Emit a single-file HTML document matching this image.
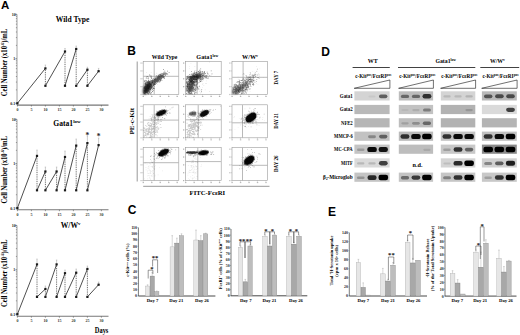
<!DOCTYPE html>
<html><head><meta charset="utf-8"><title>Figure</title>
<style>html,body{margin:0;padding:0;background:#fff;width:520px;height:335px;overflow:hidden;font-family:"Liberation Serif",serif;} svg{display:block;}</style>
</head><body>
<svg width="520" height="335" viewBox="0 0 520 335"><defs><filter id="bl1" x="-50%" y="-50%" width="200%" height="200%"><feGaussianBlur stdDeviation="0.1"/></filter><filter id="bl2" x="-50%" y="-50%" width="200%" height="200%"><feGaussianBlur stdDeviation="0.2"/></filter><filter id="bl3" x="-50%" y="-50%" width="200%" height="200%"><feGaussianBlur stdDeviation="0.3"/></filter><filter id="bl4" x="-50%" y="-50%" width="200%" height="200%"><feGaussianBlur stdDeviation="0.4"/></filter><filter id="bl5" x="-50%" y="-50%" width="200%" height="200%"><feGaussianBlur stdDeviation="0.5"/></filter><filter id="bl6" x="-50%" y="-50%" width="200%" height="200%"><feGaussianBlur stdDeviation="0.6"/></filter><filter id="bl7" x="-50%" y="-50%" width="200%" height="200%"><feGaussianBlur stdDeviation="0.7"/></filter><filter id="bl8" x="-50%" y="-50%" width="200%" height="200%"><feGaussianBlur stdDeviation="0.8"/></filter><filter id="bl9" x="-50%" y="-50%" width="200%" height="200%"><feGaussianBlur stdDeviation="0.9"/></filter><filter id="bl10" x="-50%" y="-50%" width="200%" height="200%"><feGaussianBlur stdDeviation="1.0"/></filter><filter id="bl11" x="-50%" y="-50%" width="200%" height="200%"><feGaussianBlur stdDeviation="1.1"/></filter><filter id="bl12" x="-50%" y="-50%" width="200%" height="200%"><feGaussianBlur stdDeviation="1.2"/></filter><filter id="bl13" x="-50%" y="-50%" width="200%" height="200%"><feGaussianBlur stdDeviation="1.3"/></filter><filter id="bl14" x="-50%" y="-50%" width="200%" height="200%"><feGaussianBlur stdDeviation="1.4"/></filter><filter id="bl15" x="-50%" y="-50%" width="200%" height="200%"><feGaussianBlur stdDeviation="1.5"/></filter><filter id="bl16" x="-50%" y="-50%" width="200%" height="200%"><feGaussianBlur stdDeviation="1.6"/></filter><filter id="bl17" x="-50%" y="-50%" width="200%" height="200%"><feGaussianBlur stdDeviation="1.7"/></filter><filter id="bl18" x="-50%" y="-50%" width="200%" height="200%"><feGaussianBlur stdDeviation="1.8"/></filter><filter id="bl19" x="-50%" y="-50%" width="200%" height="200%"><feGaussianBlur stdDeviation="1.9"/></filter><filter id="bl20" x="-50%" y="-50%" width="200%" height="200%"><feGaussianBlur stdDeviation="2.0"/></filter><filter id="bl21" x="-50%" y="-50%" width="200%" height="200%"><feGaussianBlur stdDeviation="2.1"/></filter><filter id="bl22" x="-50%" y="-50%" width="200%" height="200%"><feGaussianBlur stdDeviation="2.2"/></filter><filter id="bl23" x="-50%" y="-50%" width="200%" height="200%"><feGaussianBlur stdDeviation="2.3"/></filter><filter id="bl24" x="-50%" y="-50%" width="200%" height="200%"><feGaussianBlur stdDeviation="2.4"/></filter><filter id="bl25" x="-50%" y="-50%" width="200%" height="200%"><feGaussianBlur stdDeviation="2.5"/></filter><filter id="bl26" x="-50%" y="-50%" width="200%" height="200%"><feGaussianBlur stdDeviation="2.6"/></filter><filter id="bl27" x="-50%" y="-50%" width="200%" height="200%"><feGaussianBlur stdDeviation="2.7"/></filter><filter id="bl28" x="-50%" y="-50%" width="200%" height="200%"><feGaussianBlur stdDeviation="2.8"/></filter><filter id="bl29" x="-50%" y="-50%" width="200%" height="200%"><feGaussianBlur stdDeviation="2.9"/></filter></defs><rect width="520" height="335" fill="#fff"/><text x="1.0" y="8.8" font-size="11.5" font-family="Liberation Sans" font-weight="bold" fill="#000" text-anchor="start">A</text>
<text x="127.2" y="54.7" font-size="12" font-family="Liberation Sans" font-weight="bold" fill="#000" text-anchor="start">B</text>
<text x="127.8" y="213.9" font-size="12" font-family="Liberation Sans" font-weight="bold" fill="#000" text-anchor="start">C</text>
<text x="321.3" y="55.7" font-size="12" font-family="Liberation Sans" font-weight="bold" fill="#000" text-anchor="start">D</text>
<text x="328.1" y="216.3" font-size="12" font-family="Liberation Sans" font-weight="bold" fill="#000" text-anchor="start">E</text>
<line x1="17.00" y1="14.30" x2="17.00" y2="105.10" stroke="#8a8a8a" stroke-width="0.8"/>
<line x1="15.90" y1="45.40" x2="17.00" y2="45.40" stroke="#666" stroke-width="0.6"/>
<line x1="15.90" y1="37.57" x2="17.00" y2="37.57" stroke="#666" stroke-width="0.6"/>
<line x1="15.90" y1="32.01" x2="17.00" y2="32.01" stroke="#666" stroke-width="0.6"/>
<line x1="15.90" y1="27.70" x2="17.00" y2="27.70" stroke="#666" stroke-width="0.6"/>
<line x1="15.90" y1="24.17" x2="17.00" y2="24.17" stroke="#666" stroke-width="0.6"/>
<line x1="15.90" y1="21.19" x2="17.00" y2="21.19" stroke="#666" stroke-width="0.6"/>
<line x1="15.90" y1="18.61" x2="17.00" y2="18.61" stroke="#666" stroke-width="0.6"/>
<line x1="15.90" y1="16.34" x2="17.00" y2="16.34" stroke="#666" stroke-width="0.6"/>
<line x1="15.90" y1="89.90" x2="17.00" y2="89.90" stroke="#666" stroke-width="0.6"/>
<line x1="15.90" y1="82.07" x2="17.00" y2="82.07" stroke="#666" stroke-width="0.6"/>
<line x1="15.90" y1="76.51" x2="17.00" y2="76.51" stroke="#666" stroke-width="0.6"/>
<line x1="15.90" y1="72.20" x2="17.00" y2="72.20" stroke="#666" stroke-width="0.6"/>
<line x1="15.90" y1="68.67" x2="17.00" y2="68.67" stroke="#666" stroke-width="0.6"/>
<line x1="15.90" y1="65.69" x2="17.00" y2="65.69" stroke="#666" stroke-width="0.6"/>
<line x1="15.90" y1="63.11" x2="17.00" y2="63.11" stroke="#666" stroke-width="0.6"/>
<line x1="15.90" y1="60.84" x2="17.00" y2="60.84" stroke="#666" stroke-width="0.6"/>
<line x1="15.40" y1="14.30" x2="17.00" y2="14.30" stroke="#555" stroke-width="0.7"/>
<line x1="15.40" y1="58.80" x2="17.00" y2="58.80" stroke="#555" stroke-width="0.7"/>
<line x1="15.40" y1="103.30" x2="17.00" y2="103.30" stroke="#555" stroke-width="0.7"/>
<text x="15.8" y="15.7" font-size="4.0" font-family="Liberation Serif" font-weight="bold" fill="#222" text-anchor="end">10</text>
<text x="15.2" y="60.2" font-size="4.0" font-family="Liberation Serif" font-weight="bold" fill="#222" text-anchor="end">1</text>
<text x="15.2" y="104.7" font-size="4.0" font-family="Liberation Serif" font-weight="bold" fill="#222" text-anchor="end">0.1</text>
<line x1="17.00" y1="105.10" x2="108.50" y2="105.10" stroke="#777" stroke-width="1.1"/>
<line x1="17.40" y1="105.10" x2="17.40" y2="106.50" stroke="#555" stroke-width="0.6"/>
<text x="17.4" y="111.1" font-size="4.0" font-family="Liberation Serif" font-weight="bold" fill="#333" text-anchor="middle">0</text>
<line x1="31.40" y1="105.10" x2="31.40" y2="106.50" stroke="#555" stroke-width="0.6"/>
<text x="31.4" y="111.1" font-size="4.0" font-family="Liberation Serif" font-weight="bold" fill="#333" text-anchor="middle">5</text>
<line x1="45.40" y1="105.10" x2="45.40" y2="106.50" stroke="#555" stroke-width="0.6"/>
<text x="45.4" y="111.1" font-size="4.0" font-family="Liberation Serif" font-weight="bold" fill="#333" text-anchor="middle">10</text>
<line x1="59.40" y1="105.10" x2="59.40" y2="106.50" stroke="#555" stroke-width="0.6"/>
<text x="59.4" y="111.1" font-size="4.0" font-family="Liberation Serif" font-weight="bold" fill="#333" text-anchor="middle">15</text>
<line x1="73.40" y1="105.10" x2="73.40" y2="106.50" stroke="#555" stroke-width="0.6"/>
<text x="73.4" y="111.1" font-size="4.0" font-family="Liberation Serif" font-weight="bold" fill="#333" text-anchor="middle">20</text>
<line x1="87.40" y1="105.10" x2="87.40" y2="106.50" stroke="#555" stroke-width="0.6"/>
<text x="87.4" y="111.1" font-size="4.0" font-family="Liberation Serif" font-weight="bold" fill="#333" text-anchor="middle">25</text>
<line x1="101.40" y1="105.10" x2="101.40" y2="106.50" stroke="#555" stroke-width="0.6"/>
<text x="101.4" y="111.1" font-size="4.0" font-family="Liberation Serif" font-weight="bold" fill="#333" text-anchor="middle">30</text>
<text x="72.5" y="22.0" font-size="7.6" font-family="Liberation Serif" font-weight="bold" fill="#000" text-anchor="middle">Wild Type</text>
<text x="6.7" y="62.5" font-size="7.6" font-family="Liberation Serif" font-weight="bold" fill="#000" text-anchor="middle" textLength="67.5" lengthAdjust="spacingAndGlyphs" transform="rotate(-90 6.7 62.5)">Cell Number (x10<tspan font-size="4.6" dy="-2.6">-6</tspan><tspan dy="2.6">)/mL</tspan></text>
<line x1="17.40" y1="103.30" x2="45.40" y2="68.40" stroke="#222" stroke-width="0.8"/>
<line x1="45.40" y1="65.00" x2="45.40" y2="68.40" stroke="#aaa" stroke-width="0.6"/>
<line x1="44.70" y1="65.00" x2="46.10" y2="65.00" stroke="#aaa" stroke-width="0.5"/>
<line x1="45.40" y1="68.40" x2="45.40" y2="85.80" stroke="#333" stroke-width="0.8" stroke-dasharray="0.9,0.9"/>
<line x1="45.40" y1="85.80" x2="65.00" y2="51.50" stroke="#222" stroke-width="0.8"/>
<line x1="65.00" y1="48.50" x2="65.00" y2="51.50" stroke="#aaa" stroke-width="0.6"/>
<line x1="64.30" y1="48.50" x2="65.70" y2="48.50" stroke="#aaa" stroke-width="0.5"/>
<line x1="65.00" y1="51.50" x2="65.00" y2="85.80" stroke="#333" stroke-width="0.8" stroke-dasharray="0.9,0.9"/>
<line x1="65.00" y1="85.80" x2="76.20" y2="49.00" stroke="#222" stroke-width="0.8"/>
<line x1="76.20" y1="46.00" x2="76.20" y2="49.00" stroke="#aaa" stroke-width="0.6"/>
<line x1="75.50" y1="46.00" x2="76.90" y2="46.00" stroke="#aaa" stroke-width="0.5"/>
<line x1="76.20" y1="49.00" x2="76.20" y2="85.80" stroke="#333" stroke-width="0.8" stroke-dasharray="0.9,0.9"/>
<line x1="76.20" y1="85.80" x2="87.40" y2="69.70" stroke="#222" stroke-width="0.8"/>
<line x1="87.40" y1="67.20" x2="87.40" y2="69.70" stroke="#aaa" stroke-width="0.6"/>
<line x1="86.70" y1="67.20" x2="88.10" y2="67.20" stroke="#aaa" stroke-width="0.5"/>
<line x1="87.40" y1="69.70" x2="87.40" y2="85.80" stroke="#333" stroke-width="0.8" stroke-dasharray="0.9,0.9"/>
<line x1="87.40" y1="85.80" x2="98.60" y2="71.20" stroke="#222" stroke-width="0.8"/>
<line x1="98.60" y1="68.40" x2="98.60" y2="71.20" stroke="#aaa" stroke-width="0.6"/>
<line x1="97.90" y1="68.40" x2="99.30" y2="68.40" stroke="#aaa" stroke-width="0.5"/>
<rect x="16.30" y="102.20" width="2.20" height="2.20" fill="#1a1a1a" stroke="none" stroke-width="1" />
<rect x="44.30" y="67.30" width="2.20" height="2.20" fill="#1a1a1a" stroke="none" stroke-width="1" />
<rect x="44.30" y="84.70" width="2.20" height="2.20" fill="#1a1a1a" stroke="none" stroke-width="1" />
<rect x="63.90" y="50.40" width="2.20" height="2.20" fill="#1a1a1a" stroke="none" stroke-width="1" />
<rect x="63.90" y="84.70" width="2.20" height="2.20" fill="#1a1a1a" stroke="none" stroke-width="1" />
<rect x="75.10" y="47.90" width="2.20" height="2.20" fill="#1a1a1a" stroke="none" stroke-width="1" />
<rect x="75.10" y="84.70" width="2.20" height="2.20" fill="#1a1a1a" stroke="none" stroke-width="1" />
<rect x="86.30" y="68.60" width="2.20" height="2.20" fill="#1a1a1a" stroke="none" stroke-width="1" />
<rect x="86.30" y="84.70" width="2.20" height="2.20" fill="#1a1a1a" stroke="none" stroke-width="1" />
<rect x="97.50" y="70.10" width="2.20" height="2.20" fill="#1a1a1a" stroke="none" stroke-width="1" />
<line x1="17.00" y1="119.30" x2="17.00" y2="209.80" stroke="#8a8a8a" stroke-width="0.8"/>
<line x1="15.90" y1="150.33" x2="17.00" y2="150.33" stroke="#666" stroke-width="0.6"/>
<line x1="15.90" y1="142.52" x2="17.00" y2="142.52" stroke="#666" stroke-width="0.6"/>
<line x1="15.90" y1="136.97" x2="17.00" y2="136.97" stroke="#666" stroke-width="0.6"/>
<line x1="15.90" y1="132.67" x2="17.00" y2="132.67" stroke="#666" stroke-width="0.6"/>
<line x1="15.90" y1="129.15" x2="17.00" y2="129.15" stroke="#666" stroke-width="0.6"/>
<line x1="15.90" y1="126.18" x2="17.00" y2="126.18" stroke="#666" stroke-width="0.6"/>
<line x1="15.90" y1="123.60" x2="17.00" y2="123.60" stroke="#666" stroke-width="0.6"/>
<line x1="15.90" y1="121.33" x2="17.00" y2="121.33" stroke="#666" stroke-width="0.6"/>
<line x1="15.90" y1="194.73" x2="17.00" y2="194.73" stroke="#666" stroke-width="0.6"/>
<line x1="15.90" y1="186.92" x2="17.00" y2="186.92" stroke="#666" stroke-width="0.6"/>
<line x1="15.90" y1="181.37" x2="17.00" y2="181.37" stroke="#666" stroke-width="0.6"/>
<line x1="15.90" y1="177.07" x2="17.00" y2="177.07" stroke="#666" stroke-width="0.6"/>
<line x1="15.90" y1="173.55" x2="17.00" y2="173.55" stroke="#666" stroke-width="0.6"/>
<line x1="15.90" y1="170.58" x2="17.00" y2="170.58" stroke="#666" stroke-width="0.6"/>
<line x1="15.90" y1="168.00" x2="17.00" y2="168.00" stroke="#666" stroke-width="0.6"/>
<line x1="15.90" y1="165.73" x2="17.00" y2="165.73" stroke="#666" stroke-width="0.6"/>
<line x1="15.40" y1="119.30" x2="17.00" y2="119.30" stroke="#555" stroke-width="0.7"/>
<line x1="15.40" y1="163.70" x2="17.00" y2="163.70" stroke="#555" stroke-width="0.7"/>
<line x1="15.40" y1="208.10" x2="17.00" y2="208.10" stroke="#555" stroke-width="0.7"/>
<text x="15.8" y="120.7" font-size="4.0" font-family="Liberation Serif" font-weight="bold" fill="#222" text-anchor="end">10</text>
<text x="15.2" y="165.1" font-size="4.0" font-family="Liberation Serif" font-weight="bold" fill="#222" text-anchor="end">1</text>
<text x="15.2" y="209.5" font-size="4.0" font-family="Liberation Serif" font-weight="bold" fill="#222" text-anchor="end">0.1</text>
<line x1="17.00" y1="209.80" x2="108.50" y2="209.80" stroke="#777" stroke-width="1.1"/>
<line x1="17.40" y1="209.80" x2="17.40" y2="211.20" stroke="#555" stroke-width="0.6"/>
<text x="17.4" y="215.8" font-size="4.0" font-family="Liberation Serif" font-weight="bold" fill="#333" text-anchor="middle">0</text>
<line x1="31.40" y1="209.80" x2="31.40" y2="211.20" stroke="#555" stroke-width="0.6"/>
<text x="31.4" y="215.8" font-size="4.0" font-family="Liberation Serif" font-weight="bold" fill="#333" text-anchor="middle">5</text>
<line x1="45.40" y1="209.80" x2="45.40" y2="211.20" stroke="#555" stroke-width="0.6"/>
<text x="45.4" y="215.8" font-size="4.0" font-family="Liberation Serif" font-weight="bold" fill="#333" text-anchor="middle">10</text>
<line x1="59.40" y1="209.80" x2="59.40" y2="211.20" stroke="#555" stroke-width="0.6"/>
<text x="59.4" y="215.8" font-size="4.0" font-family="Liberation Serif" font-weight="bold" fill="#333" text-anchor="middle">15</text>
<line x1="73.40" y1="209.80" x2="73.40" y2="211.20" stroke="#555" stroke-width="0.6"/>
<text x="73.4" y="215.8" font-size="4.0" font-family="Liberation Serif" font-weight="bold" fill="#333" text-anchor="middle">20</text>
<line x1="87.40" y1="209.80" x2="87.40" y2="211.20" stroke="#555" stroke-width="0.6"/>
<text x="87.4" y="215.8" font-size="4.0" font-family="Liberation Serif" font-weight="bold" fill="#333" text-anchor="middle">25</text>
<line x1="101.40" y1="209.80" x2="101.40" y2="211.20" stroke="#555" stroke-width="0.6"/>
<text x="101.4" y="215.8" font-size="4.0" font-family="Liberation Serif" font-weight="bold" fill="#333" text-anchor="middle">30</text>
<text x="67.0" y="126.0" font-size="7.6" font-family="Liberation Serif" font-weight="bold" fill="#000" text-anchor="middle">Gata1<tspan font-size="5" dy="-2.8">low</tspan></text>
<text x="6.7" y="169.8" font-size="7.6" font-family="Liberation Serif" font-weight="bold" fill="#000" text-anchor="middle" textLength="67.5" lengthAdjust="spacingAndGlyphs" transform="rotate(-90 6.7 169.8)">Cell Number (x10<tspan font-size="4.6" dy="-2.6">-6</tspan><tspan dy="2.6">)/mL</tspan></text>
<line x1="17.40" y1="208.10" x2="37.00" y2="155.90" stroke="#222" stroke-width="0.8"/>
<line x1="37.00" y1="150.00" x2="37.00" y2="155.90" stroke="#aaa" stroke-width="0.6"/>
<line x1="36.30" y1="150.00" x2="37.70" y2="150.00" stroke="#aaa" stroke-width="0.5"/>
<line x1="37.00" y1="155.90" x2="37.00" y2="190.30" stroke="#333" stroke-width="0.8" stroke-dasharray="0.9,0.9"/>
<line x1="37.00" y1="190.30" x2="45.40" y2="171.50" stroke="#222" stroke-width="0.8"/>
<line x1="45.40" y1="167.00" x2="45.40" y2="171.50" stroke="#aaa" stroke-width="0.6"/>
<line x1="44.70" y1="167.00" x2="46.10" y2="167.00" stroke="#aaa" stroke-width="0.5"/>
<line x1="45.40" y1="171.50" x2="45.40" y2="190.30" stroke="#333" stroke-width="0.8" stroke-dasharray="0.9,0.9"/>
<line x1="45.40" y1="190.30" x2="56.60" y2="171.50" stroke="#222" stroke-width="0.8"/>
<line x1="56.60" y1="167.00" x2="56.60" y2="171.50" stroke="#aaa" stroke-width="0.6"/>
<line x1="55.90" y1="167.00" x2="57.30" y2="167.00" stroke="#aaa" stroke-width="0.5"/>
<line x1="56.60" y1="171.50" x2="56.60" y2="190.30" stroke="#333" stroke-width="0.8" stroke-dasharray="0.9,0.9"/>
<line x1="56.60" y1="190.30" x2="65.00" y2="157.00" stroke="#222" stroke-width="0.8"/>
<line x1="65.00" y1="151.00" x2="65.00" y2="157.00" stroke="#aaa" stroke-width="0.6"/>
<line x1="64.30" y1="151.00" x2="65.70" y2="151.00" stroke="#aaa" stroke-width="0.5"/>
<line x1="65.00" y1="157.00" x2="65.00" y2="190.30" stroke="#333" stroke-width="0.8" stroke-dasharray="0.9,0.9"/>
<line x1="65.00" y1="190.30" x2="76.20" y2="145.60" stroke="#222" stroke-width="0.8"/>
<line x1="76.20" y1="139.00" x2="76.20" y2="145.60" stroke="#aaa" stroke-width="0.6"/>
<line x1="75.50" y1="139.00" x2="76.90" y2="139.00" stroke="#aaa" stroke-width="0.5"/>
<line x1="76.20" y1="145.60" x2="76.20" y2="190.30" stroke="#333" stroke-width="0.8" stroke-dasharray="0.9,0.9"/>
<line x1="76.20" y1="190.30" x2="87.40" y2="143.10" stroke="#222" stroke-width="0.8"/>
<line x1="87.40" y1="136.00" x2="87.40" y2="143.10" stroke="#aaa" stroke-width="0.6"/>
<line x1="86.70" y1="136.00" x2="88.10" y2="136.00" stroke="#aaa" stroke-width="0.5"/>
<line x1="87.40" y1="143.10" x2="87.40" y2="190.30" stroke="#333" stroke-width="0.8" stroke-dasharray="0.9,0.9"/>
<line x1="87.40" y1="190.30" x2="98.60" y2="145.10" stroke="#222" stroke-width="0.8"/>
<line x1="98.60" y1="138.00" x2="98.60" y2="145.10" stroke="#aaa" stroke-width="0.6"/>
<line x1="97.90" y1="138.00" x2="99.30" y2="138.00" stroke="#aaa" stroke-width="0.5"/>
<rect x="16.30" y="207.00" width="2.20" height="2.20" fill="#1a1a1a" stroke="none" stroke-width="1" />
<rect x="35.90" y="154.80" width="2.20" height="2.20" fill="#1a1a1a" stroke="none" stroke-width="1" />
<rect x="35.90" y="189.20" width="2.20" height="2.20" fill="#1a1a1a" stroke="none" stroke-width="1" />
<rect x="44.30" y="170.40" width="2.20" height="2.20" fill="#1a1a1a" stroke="none" stroke-width="1" />
<rect x="44.30" y="189.20" width="2.20" height="2.20" fill="#1a1a1a" stroke="none" stroke-width="1" />
<rect x="55.50" y="170.40" width="2.20" height="2.20" fill="#1a1a1a" stroke="none" stroke-width="1" />
<rect x="55.50" y="189.20" width="2.20" height="2.20" fill="#1a1a1a" stroke="none" stroke-width="1" />
<rect x="63.90" y="155.90" width="2.20" height="2.20" fill="#1a1a1a" stroke="none" stroke-width="1" />
<rect x="63.90" y="189.20" width="2.20" height="2.20" fill="#1a1a1a" stroke="none" stroke-width="1" />
<rect x="75.10" y="144.50" width="2.20" height="2.20" fill="#1a1a1a" stroke="none" stroke-width="1" />
<rect x="75.10" y="189.20" width="2.20" height="2.20" fill="#1a1a1a" stroke="none" stroke-width="1" />
<rect x="86.30" y="142.00" width="2.20" height="2.20" fill="#1a1a1a" stroke="none" stroke-width="1" />
<rect x="86.30" y="189.20" width="2.20" height="2.20" fill="#1a1a1a" stroke="none" stroke-width="1" />
<rect x="97.50" y="144.00" width="2.20" height="2.20" fill="#1a1a1a" stroke="none" stroke-width="1" />
<text x="87.4" y="137.7" font-size="7.5" font-family="Liberation Serif" font-weight="bold" fill="#222" text-anchor="middle">*</text>
<text x="98.6" y="139.0" font-size="7.5" font-family="Liberation Serif" font-weight="bold" fill="#222" text-anchor="middle">*</text>
<line x1="17.00" y1="225.40" x2="17.00" y2="316.30" stroke="#8a8a8a" stroke-width="0.8"/>
<line x1="15.90" y1="256.43" x2="17.00" y2="256.43" stroke="#666" stroke-width="0.6"/>
<line x1="15.90" y1="248.62" x2="17.00" y2="248.62" stroke="#666" stroke-width="0.6"/>
<line x1="15.90" y1="243.07" x2="17.00" y2="243.07" stroke="#666" stroke-width="0.6"/>
<line x1="15.90" y1="238.77" x2="17.00" y2="238.77" stroke="#666" stroke-width="0.6"/>
<line x1="15.90" y1="235.25" x2="17.00" y2="235.25" stroke="#666" stroke-width="0.6"/>
<line x1="15.90" y1="232.28" x2="17.00" y2="232.28" stroke="#666" stroke-width="0.6"/>
<line x1="15.90" y1="229.70" x2="17.00" y2="229.70" stroke="#666" stroke-width="0.6"/>
<line x1="15.90" y1="227.43" x2="17.00" y2="227.43" stroke="#666" stroke-width="0.6"/>
<line x1="15.90" y1="300.83" x2="17.00" y2="300.83" stroke="#666" stroke-width="0.6"/>
<line x1="15.90" y1="293.02" x2="17.00" y2="293.02" stroke="#666" stroke-width="0.6"/>
<line x1="15.90" y1="287.47" x2="17.00" y2="287.47" stroke="#666" stroke-width="0.6"/>
<line x1="15.90" y1="283.17" x2="17.00" y2="283.17" stroke="#666" stroke-width="0.6"/>
<line x1="15.90" y1="279.65" x2="17.00" y2="279.65" stroke="#666" stroke-width="0.6"/>
<line x1="15.90" y1="276.68" x2="17.00" y2="276.68" stroke="#666" stroke-width="0.6"/>
<line x1="15.90" y1="274.10" x2="17.00" y2="274.10" stroke="#666" stroke-width="0.6"/>
<line x1="15.90" y1="271.83" x2="17.00" y2="271.83" stroke="#666" stroke-width="0.6"/>
<line x1="15.40" y1="225.40" x2="17.00" y2="225.40" stroke="#555" stroke-width="0.7"/>
<line x1="15.40" y1="269.80" x2="17.00" y2="269.80" stroke="#555" stroke-width="0.7"/>
<line x1="15.40" y1="314.20" x2="17.00" y2="314.20" stroke="#555" stroke-width="0.7"/>
<text x="15.8" y="226.8" font-size="4.0" font-family="Liberation Serif" font-weight="bold" fill="#222" text-anchor="end">10</text>
<text x="15.2" y="271.2" font-size="4.0" font-family="Liberation Serif" font-weight="bold" fill="#222" text-anchor="end">1</text>
<text x="15.2" y="315.6" font-size="4.0" font-family="Liberation Serif" font-weight="bold" fill="#222" text-anchor="end">0.1</text>
<line x1="17.00" y1="316.30" x2="108.50" y2="316.30" stroke="#777" stroke-width="1.1"/>
<line x1="17.40" y1="316.30" x2="17.40" y2="317.70" stroke="#555" stroke-width="0.6"/>
<text x="17.4" y="322.3" font-size="4.0" font-family="Liberation Serif" font-weight="bold" fill="#333" text-anchor="middle">0</text>
<line x1="31.40" y1="316.30" x2="31.40" y2="317.70" stroke="#555" stroke-width="0.6"/>
<text x="31.4" y="322.3" font-size="4.0" font-family="Liberation Serif" font-weight="bold" fill="#333" text-anchor="middle">5</text>
<line x1="45.40" y1="316.30" x2="45.40" y2="317.70" stroke="#555" stroke-width="0.6"/>
<text x="45.4" y="322.3" font-size="4.0" font-family="Liberation Serif" font-weight="bold" fill="#333" text-anchor="middle">10</text>
<line x1="59.40" y1="316.30" x2="59.40" y2="317.70" stroke="#555" stroke-width="0.6"/>
<text x="59.4" y="322.3" font-size="4.0" font-family="Liberation Serif" font-weight="bold" fill="#333" text-anchor="middle">15</text>
<line x1="73.40" y1="316.30" x2="73.40" y2="317.70" stroke="#555" stroke-width="0.6"/>
<text x="73.4" y="322.3" font-size="4.0" font-family="Liberation Serif" font-weight="bold" fill="#333" text-anchor="middle">20</text>
<line x1="87.40" y1="316.30" x2="87.40" y2="317.70" stroke="#555" stroke-width="0.6"/>
<text x="87.4" y="322.3" font-size="4.0" font-family="Liberation Serif" font-weight="bold" fill="#333" text-anchor="middle">25</text>
<line x1="101.40" y1="316.30" x2="101.40" y2="317.70" stroke="#555" stroke-width="0.6"/>
<text x="101.4" y="322.3" font-size="4.0" font-family="Liberation Serif" font-weight="bold" fill="#333" text-anchor="middle">30</text>
<text x="70.6" y="228.2" font-size="7.6" font-family="Liberation Serif" font-weight="bold" fill="#000" text-anchor="middle">W/W<tspan font-size="4.8" dy="-3.2">v</tspan></text>
<text x="6.7" y="273.3" font-size="7.6" font-family="Liberation Serif" font-weight="bold" fill="#000" text-anchor="middle" textLength="67.5" lengthAdjust="spacingAndGlyphs" transform="rotate(-90 6.7 273.3)">Cell Number (x10<tspan font-size="4.6" dy="-2.6">-6</tspan><tspan dy="2.6">)/mL</tspan></text>
<line x1="17.40" y1="314.20" x2="37.00" y2="264.40" stroke="#222" stroke-width="0.8"/>
<line x1="37.00" y1="259.00" x2="37.00" y2="264.40" stroke="#aaa" stroke-width="0.6"/>
<line x1="36.30" y1="259.00" x2="37.70" y2="259.00" stroke="#aaa" stroke-width="0.5"/>
<line x1="37.00" y1="264.40" x2="37.00" y2="296.90" stroke="#333" stroke-width="0.8" stroke-dasharray="0.9,0.9"/>
<line x1="37.00" y1="296.90" x2="45.40" y2="289.00" stroke="#222" stroke-width="0.8"/>
<line x1="45.40" y1="286.00" x2="45.40" y2="289.00" stroke="#aaa" stroke-width="0.6"/>
<line x1="44.70" y1="286.00" x2="46.10" y2="286.00" stroke="#aaa" stroke-width="0.5"/>
<line x1="45.40" y1="289.00" x2="45.40" y2="296.90" stroke="#333" stroke-width="0.8" stroke-dasharray="0.9,0.9"/>
<line x1="45.40" y1="296.90" x2="56.60" y2="264.40" stroke="#222" stroke-width="0.8"/>
<line x1="56.60" y1="260.00" x2="56.60" y2="264.40" stroke="#aaa" stroke-width="0.6"/>
<line x1="55.90" y1="260.00" x2="57.30" y2="260.00" stroke="#aaa" stroke-width="0.5"/>
<line x1="56.60" y1="264.40" x2="56.60" y2="296.90" stroke="#333" stroke-width="0.8" stroke-dasharray="0.9,0.9"/>
<line x1="56.60" y1="296.90" x2="65.00" y2="273.20" stroke="#222" stroke-width="0.8"/>
<line x1="65.00" y1="270.00" x2="65.00" y2="273.20" stroke="#aaa" stroke-width="0.6"/>
<line x1="64.30" y1="270.00" x2="65.70" y2="270.00" stroke="#aaa" stroke-width="0.5"/>
<line x1="65.00" y1="273.20" x2="65.00" y2="296.90" stroke="#333" stroke-width="0.8" stroke-dasharray="0.9,0.9"/>
<line x1="65.00" y1="296.90" x2="76.20" y2="272.70" stroke="#222" stroke-width="0.8"/>
<line x1="76.20" y1="269.00" x2="76.20" y2="272.70" stroke="#aaa" stroke-width="0.6"/>
<line x1="75.50" y1="269.00" x2="76.90" y2="269.00" stroke="#aaa" stroke-width="0.5"/>
<line x1="76.20" y1="272.70" x2="76.20" y2="296.90" stroke="#333" stroke-width="0.8" stroke-dasharray="0.9,0.9"/>
<line x1="76.20" y1="296.90" x2="87.40" y2="269.00" stroke="#222" stroke-width="0.8"/>
<line x1="87.40" y1="266.00" x2="87.40" y2="269.00" stroke="#aaa" stroke-width="0.6"/>
<line x1="86.70" y1="266.00" x2="88.10" y2="266.00" stroke="#aaa" stroke-width="0.5"/>
<line x1="87.40" y1="269.00" x2="87.40" y2="296.90" stroke="#333" stroke-width="0.8" stroke-dasharray="0.9,0.9"/>
<line x1="87.40" y1="296.90" x2="98.60" y2="284.70" stroke="#222" stroke-width="0.8"/>
<line x1="98.60" y1="282.00" x2="98.60" y2="284.70" stroke="#aaa" stroke-width="0.6"/>
<line x1="97.90" y1="282.00" x2="99.30" y2="282.00" stroke="#aaa" stroke-width="0.5"/>
<rect x="16.30" y="313.10" width="2.20" height="2.20" fill="#1a1a1a" stroke="none" stroke-width="1" />
<rect x="35.90" y="263.30" width="2.20" height="2.20" fill="#1a1a1a" stroke="none" stroke-width="1" />
<rect x="35.90" y="295.80" width="2.20" height="2.20" fill="#1a1a1a" stroke="none" stroke-width="1" />
<rect x="44.30" y="287.90" width="2.20" height="2.20" fill="#1a1a1a" stroke="none" stroke-width="1" />
<rect x="44.30" y="295.80" width="2.20" height="2.20" fill="#1a1a1a" stroke="none" stroke-width="1" />
<rect x="55.50" y="263.30" width="2.20" height="2.20" fill="#1a1a1a" stroke="none" stroke-width="1" />
<rect x="55.50" y="295.80" width="2.20" height="2.20" fill="#1a1a1a" stroke="none" stroke-width="1" />
<rect x="63.90" y="272.10" width="2.20" height="2.20" fill="#1a1a1a" stroke="none" stroke-width="1" />
<rect x="63.90" y="295.80" width="2.20" height="2.20" fill="#1a1a1a" stroke="none" stroke-width="1" />
<rect x="75.10" y="271.60" width="2.20" height="2.20" fill="#1a1a1a" stroke="none" stroke-width="1" />
<rect x="75.10" y="295.80" width="2.20" height="2.20" fill="#1a1a1a" stroke="none" stroke-width="1" />
<rect x="86.30" y="267.90" width="2.20" height="2.20" fill="#1a1a1a" stroke="none" stroke-width="1" />
<rect x="86.30" y="295.80" width="2.20" height="2.20" fill="#1a1a1a" stroke="none" stroke-width="1" />
<rect x="97.50" y="283.60" width="2.20" height="2.20" fill="#1a1a1a" stroke="none" stroke-width="1" />
<text x="101.6" y="333.2" font-size="8.2" font-family="Liberation Serif" font-weight="bold" fill="#000" text-anchor="middle" textLength="13.5" lengthAdjust="spacingAndGlyphs">Days</text>
<rect x="143.20" y="61.50" width="35.60" height="33.00" fill="#fff" stroke="#9a9a9a" stroke-width="0.6" />
<line x1="142.00" y1="94.50" x2="143.20" y2="94.50" stroke="#999" stroke-width="0.4"/>
<text x="141.6" y="95.5" font-size="2.5" font-family="Liberation Serif" font-weight="bold" fill="#000" text-anchor="start"></text>
<line x1="143.20" y1="94.50" x2="143.20" y2="95.70" stroke="#999" stroke-width="0.4"/>
<line x1="142.00" y1="86.64" x2="143.20" y2="86.64" stroke="#999" stroke-width="0.4"/>
<text x="141.6" y="87.6" font-size="2.5" font-family="Liberation Serif" font-weight="bold" fill="#000" text-anchor="start"></text>
<line x1="151.68" y1="94.50" x2="151.68" y2="95.70" stroke="#999" stroke-width="0.4"/>
<line x1="142.00" y1="78.79" x2="143.20" y2="78.79" stroke="#999" stroke-width="0.4"/>
<text x="141.6" y="79.8" font-size="2.5" font-family="Liberation Serif" font-weight="bold" fill="#000" text-anchor="start"></text>
<line x1="160.15" y1="94.50" x2="160.15" y2="95.70" stroke="#999" stroke-width="0.4"/>
<line x1="142.00" y1="70.93" x2="143.20" y2="70.93" stroke="#999" stroke-width="0.4"/>
<text x="141.6" y="71.9" font-size="2.5" font-family="Liberation Serif" font-weight="bold" fill="#000" text-anchor="start"></text>
<line x1="168.63" y1="94.50" x2="168.63" y2="95.70" stroke="#999" stroke-width="0.4"/>
<line x1="142.00" y1="63.07" x2="143.20" y2="63.07" stroke="#999" stroke-width="0.4"/>
<text x="141.6" y="64.1" font-size="2.5" font-family="Liberation Serif" font-weight="bold" fill="#000" text-anchor="start"></text>
<line x1="177.10" y1="94.50" x2="177.10" y2="95.70" stroke="#999" stroke-width="0.4"/>
<rect x="140.60" y="93.90" width="0.90" height="1.20" fill="#aaa" stroke="none" stroke-width="1" />
<rect x="142.60" y="96.10" width="1.40" height="0.90" fill="#aaa" stroke="none" stroke-width="1" />
<rect x="140.60" y="86.04" width="0.90" height="1.20" fill="#aaa" stroke="none" stroke-width="1" />
<rect x="151.08" y="96.10" width="1.40" height="0.90" fill="#aaa" stroke="none" stroke-width="1" />
<rect x="140.60" y="78.19" width="0.90" height="1.20" fill="#aaa" stroke="none" stroke-width="1" />
<rect x="159.55" y="96.10" width="1.40" height="0.90" fill="#aaa" stroke="none" stroke-width="1" />
<rect x="140.60" y="70.33" width="0.90" height="1.20" fill="#aaa" stroke="none" stroke-width="1" />
<rect x="168.03" y="96.10" width="1.40" height="0.90" fill="#aaa" stroke="none" stroke-width="1" />
<rect x="140.60" y="62.47" width="0.90" height="1.20" fill="#aaa" stroke="none" stroke-width="1" />
<rect x="176.50" y="96.10" width="1.40" height="0.90" fill="#aaa" stroke="none" stroke-width="1" />
<line x1="154.20" y1="61.80" x2="154.20" y2="94.20" stroke="#8a8a8a" stroke-width="0.6"/>
<line x1="143.50" y1="76.30" x2="178.50" y2="76.30" stroke="#8a8a8a" stroke-width="0.6"/>
<rect x="185.60" y="61.50" width="35.60" height="33.00" fill="#fff" stroke="#9a9a9a" stroke-width="0.6" />
<line x1="184.40" y1="94.50" x2="185.60" y2="94.50" stroke="#999" stroke-width="0.4"/>
<text x="184.0" y="95.5" font-size="2.5" font-family="Liberation Serif" font-weight="bold" fill="#000" text-anchor="start"></text>
<line x1="185.60" y1="94.50" x2="185.60" y2="95.70" stroke="#999" stroke-width="0.4"/>
<line x1="184.40" y1="86.64" x2="185.60" y2="86.64" stroke="#999" stroke-width="0.4"/>
<text x="184.0" y="87.6" font-size="2.5" font-family="Liberation Serif" font-weight="bold" fill="#000" text-anchor="start"></text>
<line x1="194.08" y1="94.50" x2="194.08" y2="95.70" stroke="#999" stroke-width="0.4"/>
<line x1="184.40" y1="78.79" x2="185.60" y2="78.79" stroke="#999" stroke-width="0.4"/>
<text x="184.0" y="79.8" font-size="2.5" font-family="Liberation Serif" font-weight="bold" fill="#000" text-anchor="start"></text>
<line x1="202.55" y1="94.50" x2="202.55" y2="95.70" stroke="#999" stroke-width="0.4"/>
<line x1="184.40" y1="70.93" x2="185.60" y2="70.93" stroke="#999" stroke-width="0.4"/>
<text x="184.0" y="71.9" font-size="2.5" font-family="Liberation Serif" font-weight="bold" fill="#000" text-anchor="start"></text>
<line x1="211.03" y1="94.50" x2="211.03" y2="95.70" stroke="#999" stroke-width="0.4"/>
<line x1="184.40" y1="63.07" x2="185.60" y2="63.07" stroke="#999" stroke-width="0.4"/>
<text x="184.0" y="64.1" font-size="2.5" font-family="Liberation Serif" font-weight="bold" fill="#000" text-anchor="start"></text>
<line x1="219.50" y1="94.50" x2="219.50" y2="95.70" stroke="#999" stroke-width="0.4"/>
<rect x="183.00" y="93.90" width="0.90" height="1.20" fill="#aaa" stroke="none" stroke-width="1" />
<rect x="185.00" y="96.10" width="1.40" height="0.90" fill="#aaa" stroke="none" stroke-width="1" />
<rect x="183.00" y="86.04" width="0.90" height="1.20" fill="#aaa" stroke="none" stroke-width="1" />
<rect x="193.48" y="96.10" width="1.40" height="0.90" fill="#aaa" stroke="none" stroke-width="1" />
<rect x="183.00" y="78.19" width="0.90" height="1.20" fill="#aaa" stroke="none" stroke-width="1" />
<rect x="201.95" y="96.10" width="1.40" height="0.90" fill="#aaa" stroke="none" stroke-width="1" />
<rect x="183.00" y="70.33" width="0.90" height="1.20" fill="#aaa" stroke="none" stroke-width="1" />
<rect x="210.43" y="96.10" width="1.40" height="0.90" fill="#aaa" stroke="none" stroke-width="1" />
<rect x="183.00" y="62.47" width="0.90" height="1.20" fill="#aaa" stroke="none" stroke-width="1" />
<rect x="218.90" y="96.10" width="1.40" height="0.90" fill="#aaa" stroke="none" stroke-width="1" />
<line x1="197.10" y1="61.80" x2="197.10" y2="94.20" stroke="#8a8a8a" stroke-width="0.6"/>
<line x1="185.90" y1="76.50" x2="220.90" y2="76.50" stroke="#8a8a8a" stroke-width="0.6"/>
<rect x="232.00" y="61.50" width="35.60" height="33.00" fill="#fff" stroke="#9a9a9a" stroke-width="0.6" />
<line x1="230.80" y1="94.50" x2="232.00" y2="94.50" stroke="#999" stroke-width="0.4"/>
<text x="230.4" y="95.5" font-size="2.5" font-family="Liberation Serif" font-weight="bold" fill="#000" text-anchor="start"></text>
<line x1="232.00" y1="94.50" x2="232.00" y2="95.70" stroke="#999" stroke-width="0.4"/>
<line x1="230.80" y1="86.64" x2="232.00" y2="86.64" stroke="#999" stroke-width="0.4"/>
<text x="230.4" y="87.6" font-size="2.5" font-family="Liberation Serif" font-weight="bold" fill="#000" text-anchor="start"></text>
<line x1="240.48" y1="94.50" x2="240.48" y2="95.70" stroke="#999" stroke-width="0.4"/>
<line x1="230.80" y1="78.79" x2="232.00" y2="78.79" stroke="#999" stroke-width="0.4"/>
<text x="230.4" y="79.8" font-size="2.5" font-family="Liberation Serif" font-weight="bold" fill="#000" text-anchor="start"></text>
<line x1="248.95" y1="94.50" x2="248.95" y2="95.70" stroke="#999" stroke-width="0.4"/>
<line x1="230.80" y1="70.93" x2="232.00" y2="70.93" stroke="#999" stroke-width="0.4"/>
<text x="230.4" y="71.9" font-size="2.5" font-family="Liberation Serif" font-weight="bold" fill="#000" text-anchor="start"></text>
<line x1="257.43" y1="94.50" x2="257.43" y2="95.70" stroke="#999" stroke-width="0.4"/>
<line x1="230.80" y1="63.07" x2="232.00" y2="63.07" stroke="#999" stroke-width="0.4"/>
<text x="230.4" y="64.1" font-size="2.5" font-family="Liberation Serif" font-weight="bold" fill="#000" text-anchor="start"></text>
<line x1="265.90" y1="94.50" x2="265.90" y2="95.70" stroke="#999" stroke-width="0.4"/>
<rect x="229.40" y="93.90" width="0.90" height="1.20" fill="#aaa" stroke="none" stroke-width="1" />
<rect x="231.40" y="96.10" width="1.40" height="0.90" fill="#aaa" stroke="none" stroke-width="1" />
<rect x="229.40" y="86.04" width="0.90" height="1.20" fill="#aaa" stroke="none" stroke-width="1" />
<rect x="239.88" y="96.10" width="1.40" height="0.90" fill="#aaa" stroke="none" stroke-width="1" />
<rect x="229.40" y="78.19" width="0.90" height="1.20" fill="#aaa" stroke="none" stroke-width="1" />
<rect x="248.35" y="96.10" width="1.40" height="0.90" fill="#aaa" stroke="none" stroke-width="1" />
<rect x="229.40" y="70.33" width="0.90" height="1.20" fill="#aaa" stroke="none" stroke-width="1" />
<rect x="256.83" y="96.10" width="1.40" height="0.90" fill="#aaa" stroke="none" stroke-width="1" />
<rect x="229.40" y="62.47" width="0.90" height="1.20" fill="#aaa" stroke="none" stroke-width="1" />
<rect x="265.30" y="96.10" width="1.40" height="0.90" fill="#aaa" stroke="none" stroke-width="1" />
<line x1="243.10" y1="61.80" x2="243.10" y2="94.20" stroke="#8a8a8a" stroke-width="0.6"/>
<line x1="232.30" y1="77.30" x2="267.30" y2="77.30" stroke="#8a8a8a" stroke-width="0.6"/>
<rect x="143.20" y="104.80" width="35.60" height="33.00" fill="#fff" stroke="#9a9a9a" stroke-width="0.6" />
<line x1="142.00" y1="137.80" x2="143.20" y2="137.80" stroke="#999" stroke-width="0.4"/>
<text x="141.6" y="138.8" font-size="2.5" font-family="Liberation Serif" font-weight="bold" fill="#000" text-anchor="start"></text>
<line x1="143.20" y1="137.80" x2="143.20" y2="139.00" stroke="#999" stroke-width="0.4"/>
<line x1="142.00" y1="129.94" x2="143.20" y2="129.94" stroke="#999" stroke-width="0.4"/>
<text x="141.6" y="130.9" font-size="2.5" font-family="Liberation Serif" font-weight="bold" fill="#000" text-anchor="start"></text>
<line x1="151.68" y1="137.80" x2="151.68" y2="139.00" stroke="#999" stroke-width="0.4"/>
<line x1="142.00" y1="122.09" x2="143.20" y2="122.09" stroke="#999" stroke-width="0.4"/>
<text x="141.6" y="123.1" font-size="2.5" font-family="Liberation Serif" font-weight="bold" fill="#000" text-anchor="start"></text>
<line x1="160.15" y1="137.80" x2="160.15" y2="139.00" stroke="#999" stroke-width="0.4"/>
<line x1="142.00" y1="114.23" x2="143.20" y2="114.23" stroke="#999" stroke-width="0.4"/>
<text x="141.6" y="115.2" font-size="2.5" font-family="Liberation Serif" font-weight="bold" fill="#000" text-anchor="start"></text>
<line x1="168.63" y1="137.80" x2="168.63" y2="139.00" stroke="#999" stroke-width="0.4"/>
<line x1="142.00" y1="106.37" x2="143.20" y2="106.37" stroke="#999" stroke-width="0.4"/>
<text x="141.6" y="107.4" font-size="2.5" font-family="Liberation Serif" font-weight="bold" fill="#000" text-anchor="start"></text>
<line x1="177.10" y1="137.80" x2="177.10" y2="139.00" stroke="#999" stroke-width="0.4"/>
<rect x="140.60" y="137.20" width="0.90" height="1.20" fill="#aaa" stroke="none" stroke-width="1" />
<rect x="142.60" y="139.40" width="1.40" height="0.90" fill="#aaa" stroke="none" stroke-width="1" />
<rect x="140.60" y="129.34" width="0.90" height="1.20" fill="#aaa" stroke="none" stroke-width="1" />
<rect x="151.08" y="139.40" width="1.40" height="0.90" fill="#aaa" stroke="none" stroke-width="1" />
<rect x="140.60" y="121.49" width="0.90" height="1.20" fill="#aaa" stroke="none" stroke-width="1" />
<rect x="159.55" y="139.40" width="1.40" height="0.90" fill="#aaa" stroke="none" stroke-width="1" />
<rect x="140.60" y="113.63" width="0.90" height="1.20" fill="#aaa" stroke="none" stroke-width="1" />
<rect x="168.03" y="139.40" width="1.40" height="0.90" fill="#aaa" stroke="none" stroke-width="1" />
<rect x="140.60" y="105.77" width="0.90" height="1.20" fill="#aaa" stroke="none" stroke-width="1" />
<rect x="176.50" y="139.40" width="1.40" height="0.90" fill="#aaa" stroke="none" stroke-width="1" />
<line x1="154.20" y1="105.10" x2="154.20" y2="137.50" stroke="#8a8a8a" stroke-width="0.6"/>
<line x1="143.50" y1="120.10" x2="178.50" y2="120.10" stroke="#8a8a8a" stroke-width="0.6"/>
<rect x="185.60" y="104.80" width="35.60" height="33.00" fill="#fff" stroke="#9a9a9a" stroke-width="0.6" />
<line x1="184.40" y1="137.80" x2="185.60" y2="137.80" stroke="#999" stroke-width="0.4"/>
<text x="184.0" y="138.8" font-size="2.5" font-family="Liberation Serif" font-weight="bold" fill="#000" text-anchor="start"></text>
<line x1="185.60" y1="137.80" x2="185.60" y2="139.00" stroke="#999" stroke-width="0.4"/>
<line x1="184.40" y1="129.94" x2="185.60" y2="129.94" stroke="#999" stroke-width="0.4"/>
<text x="184.0" y="130.9" font-size="2.5" font-family="Liberation Serif" font-weight="bold" fill="#000" text-anchor="start"></text>
<line x1="194.08" y1="137.80" x2="194.08" y2="139.00" stroke="#999" stroke-width="0.4"/>
<line x1="184.40" y1="122.09" x2="185.60" y2="122.09" stroke="#999" stroke-width="0.4"/>
<text x="184.0" y="123.1" font-size="2.5" font-family="Liberation Serif" font-weight="bold" fill="#000" text-anchor="start"></text>
<line x1="202.55" y1="137.80" x2="202.55" y2="139.00" stroke="#999" stroke-width="0.4"/>
<line x1="184.40" y1="114.23" x2="185.60" y2="114.23" stroke="#999" stroke-width="0.4"/>
<text x="184.0" y="115.2" font-size="2.5" font-family="Liberation Serif" font-weight="bold" fill="#000" text-anchor="start"></text>
<line x1="211.03" y1="137.80" x2="211.03" y2="139.00" stroke="#999" stroke-width="0.4"/>
<line x1="184.40" y1="106.37" x2="185.60" y2="106.37" stroke="#999" stroke-width="0.4"/>
<text x="184.0" y="107.4" font-size="2.5" font-family="Liberation Serif" font-weight="bold" fill="#000" text-anchor="start"></text>
<line x1="219.50" y1="137.80" x2="219.50" y2="139.00" stroke="#999" stroke-width="0.4"/>
<rect x="183.00" y="137.20" width="0.90" height="1.20" fill="#aaa" stroke="none" stroke-width="1" />
<rect x="185.00" y="139.40" width="1.40" height="0.90" fill="#aaa" stroke="none" stroke-width="1" />
<rect x="183.00" y="129.34" width="0.90" height="1.20" fill="#aaa" stroke="none" stroke-width="1" />
<rect x="193.48" y="139.40" width="1.40" height="0.90" fill="#aaa" stroke="none" stroke-width="1" />
<rect x="183.00" y="121.49" width="0.90" height="1.20" fill="#aaa" stroke="none" stroke-width="1" />
<rect x="201.95" y="139.40" width="1.40" height="0.90" fill="#aaa" stroke="none" stroke-width="1" />
<rect x="183.00" y="113.63" width="0.90" height="1.20" fill="#aaa" stroke="none" stroke-width="1" />
<rect x="210.43" y="139.40" width="1.40" height="0.90" fill="#aaa" stroke="none" stroke-width="1" />
<rect x="183.00" y="105.77" width="0.90" height="1.20" fill="#aaa" stroke="none" stroke-width="1" />
<rect x="218.90" y="139.40" width="1.40" height="0.90" fill="#aaa" stroke="none" stroke-width="1" />
<line x1="198.20" y1="105.10" x2="198.20" y2="137.50" stroke="#8a8a8a" stroke-width="0.6"/>
<line x1="185.90" y1="119.80" x2="220.90" y2="119.80" stroke="#8a8a8a" stroke-width="0.6"/>
<rect x="232.00" y="104.80" width="35.60" height="33.00" fill="#fff" stroke="#9a9a9a" stroke-width="0.6" />
<line x1="230.80" y1="137.80" x2="232.00" y2="137.80" stroke="#999" stroke-width="0.4"/>
<text x="230.4" y="138.8" font-size="2.5" font-family="Liberation Serif" font-weight="bold" fill="#000" text-anchor="start"></text>
<line x1="232.00" y1="137.80" x2="232.00" y2="139.00" stroke="#999" stroke-width="0.4"/>
<line x1="230.80" y1="129.94" x2="232.00" y2="129.94" stroke="#999" stroke-width="0.4"/>
<text x="230.4" y="130.9" font-size="2.5" font-family="Liberation Serif" font-weight="bold" fill="#000" text-anchor="start"></text>
<line x1="240.48" y1="137.80" x2="240.48" y2="139.00" stroke="#999" stroke-width="0.4"/>
<line x1="230.80" y1="122.09" x2="232.00" y2="122.09" stroke="#999" stroke-width="0.4"/>
<text x="230.4" y="123.1" font-size="2.5" font-family="Liberation Serif" font-weight="bold" fill="#000" text-anchor="start"></text>
<line x1="248.95" y1="137.80" x2="248.95" y2="139.00" stroke="#999" stroke-width="0.4"/>
<line x1="230.80" y1="114.23" x2="232.00" y2="114.23" stroke="#999" stroke-width="0.4"/>
<text x="230.4" y="115.2" font-size="2.5" font-family="Liberation Serif" font-weight="bold" fill="#000" text-anchor="start"></text>
<line x1="257.43" y1="137.80" x2="257.43" y2="139.00" stroke="#999" stroke-width="0.4"/>
<line x1="230.80" y1="106.37" x2="232.00" y2="106.37" stroke="#999" stroke-width="0.4"/>
<text x="230.4" y="107.4" font-size="2.5" font-family="Liberation Serif" font-weight="bold" fill="#000" text-anchor="start"></text>
<line x1="265.90" y1="137.80" x2="265.90" y2="139.00" stroke="#999" stroke-width="0.4"/>
<rect x="229.40" y="137.20" width="0.90" height="1.20" fill="#aaa" stroke="none" stroke-width="1" />
<rect x="231.40" y="139.40" width="1.40" height="0.90" fill="#aaa" stroke="none" stroke-width="1" />
<rect x="229.40" y="129.34" width="0.90" height="1.20" fill="#aaa" stroke="none" stroke-width="1" />
<rect x="239.88" y="139.40" width="1.40" height="0.90" fill="#aaa" stroke="none" stroke-width="1" />
<rect x="229.40" y="121.49" width="0.90" height="1.20" fill="#aaa" stroke="none" stroke-width="1" />
<rect x="248.35" y="139.40" width="1.40" height="0.90" fill="#aaa" stroke="none" stroke-width="1" />
<rect x="229.40" y="113.63" width="0.90" height="1.20" fill="#aaa" stroke="none" stroke-width="1" />
<rect x="256.83" y="139.40" width="1.40" height="0.90" fill="#aaa" stroke="none" stroke-width="1" />
<rect x="229.40" y="105.77" width="0.90" height="1.20" fill="#aaa" stroke="none" stroke-width="1" />
<rect x="265.30" y="139.40" width="1.40" height="0.90" fill="#aaa" stroke="none" stroke-width="1" />
<line x1="242.50" y1="105.10" x2="242.50" y2="137.50" stroke="#8a8a8a" stroke-width="0.6"/>
<line x1="232.30" y1="122.80" x2="267.30" y2="122.80" stroke="#8a8a8a" stroke-width="0.6"/>
<rect x="143.20" y="147.60" width="35.60" height="33.00" fill="#fff" stroke="#9a9a9a" stroke-width="0.6" />
<line x1="142.00" y1="180.60" x2="143.20" y2="180.60" stroke="#999" stroke-width="0.4"/>
<text x="141.6" y="181.6" font-size="2.5" font-family="Liberation Serif" font-weight="bold" fill="#000" text-anchor="start"></text>
<line x1="143.20" y1="180.60" x2="143.20" y2="181.80" stroke="#999" stroke-width="0.4"/>
<line x1="142.00" y1="172.74" x2="143.20" y2="172.74" stroke="#999" stroke-width="0.4"/>
<text x="141.6" y="173.7" font-size="2.5" font-family="Liberation Serif" font-weight="bold" fill="#000" text-anchor="start"></text>
<line x1="151.68" y1="180.60" x2="151.68" y2="181.80" stroke="#999" stroke-width="0.4"/>
<line x1="142.00" y1="164.89" x2="143.20" y2="164.89" stroke="#999" stroke-width="0.4"/>
<text x="141.6" y="165.9" font-size="2.5" font-family="Liberation Serif" font-weight="bold" fill="#000" text-anchor="start"></text>
<line x1="160.15" y1="180.60" x2="160.15" y2="181.80" stroke="#999" stroke-width="0.4"/>
<line x1="142.00" y1="157.03" x2="143.20" y2="157.03" stroke="#999" stroke-width="0.4"/>
<text x="141.6" y="158.0" font-size="2.5" font-family="Liberation Serif" font-weight="bold" fill="#000" text-anchor="start"></text>
<line x1="168.63" y1="180.60" x2="168.63" y2="181.80" stroke="#999" stroke-width="0.4"/>
<line x1="142.00" y1="149.17" x2="143.20" y2="149.17" stroke="#999" stroke-width="0.4"/>
<text x="141.6" y="150.2" font-size="2.5" font-family="Liberation Serif" font-weight="bold" fill="#000" text-anchor="start"></text>
<line x1="177.10" y1="180.60" x2="177.10" y2="181.80" stroke="#999" stroke-width="0.4"/>
<rect x="140.60" y="180.00" width="0.90" height="1.20" fill="#aaa" stroke="none" stroke-width="1" />
<rect x="142.60" y="182.20" width="1.40" height="0.90" fill="#aaa" stroke="none" stroke-width="1" />
<rect x="140.60" y="172.14" width="0.90" height="1.20" fill="#aaa" stroke="none" stroke-width="1" />
<rect x="151.08" y="182.20" width="1.40" height="0.90" fill="#aaa" stroke="none" stroke-width="1" />
<rect x="140.60" y="164.29" width="0.90" height="1.20" fill="#aaa" stroke="none" stroke-width="1" />
<rect x="159.55" y="182.20" width="1.40" height="0.90" fill="#aaa" stroke="none" stroke-width="1" />
<rect x="140.60" y="156.43" width="0.90" height="1.20" fill="#aaa" stroke="none" stroke-width="1" />
<rect x="168.03" y="182.20" width="1.40" height="0.90" fill="#aaa" stroke="none" stroke-width="1" />
<rect x="140.60" y="148.57" width="0.90" height="1.20" fill="#aaa" stroke="none" stroke-width="1" />
<rect x="176.50" y="182.20" width="1.40" height="0.90" fill="#aaa" stroke="none" stroke-width="1" />
<line x1="154.20" y1="147.90" x2="154.20" y2="180.30" stroke="#8a8a8a" stroke-width="0.6"/>
<line x1="143.50" y1="162.70" x2="178.50" y2="162.70" stroke="#8a8a8a" stroke-width="0.6"/>
<rect x="185.60" y="147.60" width="35.60" height="33.00" fill="#fff" stroke="#9a9a9a" stroke-width="0.6" />
<line x1="184.40" y1="180.60" x2="185.60" y2="180.60" stroke="#999" stroke-width="0.4"/>
<text x="184.0" y="181.6" font-size="2.5" font-family="Liberation Serif" font-weight="bold" fill="#000" text-anchor="start"></text>
<line x1="185.60" y1="180.60" x2="185.60" y2="181.80" stroke="#999" stroke-width="0.4"/>
<line x1="184.40" y1="172.74" x2="185.60" y2="172.74" stroke="#999" stroke-width="0.4"/>
<text x="184.0" y="173.7" font-size="2.5" font-family="Liberation Serif" font-weight="bold" fill="#000" text-anchor="start"></text>
<line x1="194.08" y1="180.60" x2="194.08" y2="181.80" stroke="#999" stroke-width="0.4"/>
<line x1="184.40" y1="164.89" x2="185.60" y2="164.89" stroke="#999" stroke-width="0.4"/>
<text x="184.0" y="165.9" font-size="2.5" font-family="Liberation Serif" font-weight="bold" fill="#000" text-anchor="start"></text>
<line x1="202.55" y1="180.60" x2="202.55" y2="181.80" stroke="#999" stroke-width="0.4"/>
<line x1="184.40" y1="157.03" x2="185.60" y2="157.03" stroke="#999" stroke-width="0.4"/>
<text x="184.0" y="158.0" font-size="2.5" font-family="Liberation Serif" font-weight="bold" fill="#000" text-anchor="start"></text>
<line x1="211.03" y1="180.60" x2="211.03" y2="181.80" stroke="#999" stroke-width="0.4"/>
<line x1="184.40" y1="149.17" x2="185.60" y2="149.17" stroke="#999" stroke-width="0.4"/>
<text x="184.0" y="150.2" font-size="2.5" font-family="Liberation Serif" font-weight="bold" fill="#000" text-anchor="start"></text>
<line x1="219.50" y1="180.60" x2="219.50" y2="181.80" stroke="#999" stroke-width="0.4"/>
<rect x="183.00" y="180.00" width="0.90" height="1.20" fill="#aaa" stroke="none" stroke-width="1" />
<rect x="185.00" y="182.20" width="1.40" height="0.90" fill="#aaa" stroke="none" stroke-width="1" />
<rect x="183.00" y="172.14" width="0.90" height="1.20" fill="#aaa" stroke="none" stroke-width="1" />
<rect x="193.48" y="182.20" width="1.40" height="0.90" fill="#aaa" stroke="none" stroke-width="1" />
<rect x="183.00" y="164.29" width="0.90" height="1.20" fill="#aaa" stroke="none" stroke-width="1" />
<rect x="201.95" y="182.20" width="1.40" height="0.90" fill="#aaa" stroke="none" stroke-width="1" />
<rect x="183.00" y="156.43" width="0.90" height="1.20" fill="#aaa" stroke="none" stroke-width="1" />
<rect x="210.43" y="182.20" width="1.40" height="0.90" fill="#aaa" stroke="none" stroke-width="1" />
<rect x="183.00" y="148.57" width="0.90" height="1.20" fill="#aaa" stroke="none" stroke-width="1" />
<rect x="218.90" y="182.20" width="1.40" height="0.90" fill="#aaa" stroke="none" stroke-width="1" />
<line x1="197.80" y1="147.90" x2="197.80" y2="180.30" stroke="#8a8a8a" stroke-width="0.6"/>
<line x1="185.90" y1="161.60" x2="220.90" y2="161.60" stroke="#8a8a8a" stroke-width="0.6"/>
<rect x="232.00" y="147.60" width="35.60" height="33.00" fill="#fff" stroke="#9a9a9a" stroke-width="0.6" />
<line x1="230.80" y1="180.60" x2="232.00" y2="180.60" stroke="#999" stroke-width="0.4"/>
<text x="230.4" y="181.6" font-size="2.5" font-family="Liberation Serif" font-weight="bold" fill="#000" text-anchor="start"></text>
<line x1="232.00" y1="180.60" x2="232.00" y2="181.80" stroke="#999" stroke-width="0.4"/>
<line x1="230.80" y1="172.74" x2="232.00" y2="172.74" stroke="#999" stroke-width="0.4"/>
<text x="230.4" y="173.7" font-size="2.5" font-family="Liberation Serif" font-weight="bold" fill="#000" text-anchor="start"></text>
<line x1="240.48" y1="180.60" x2="240.48" y2="181.80" stroke="#999" stroke-width="0.4"/>
<line x1="230.80" y1="164.89" x2="232.00" y2="164.89" stroke="#999" stroke-width="0.4"/>
<text x="230.4" y="165.9" font-size="2.5" font-family="Liberation Serif" font-weight="bold" fill="#000" text-anchor="start"></text>
<line x1="248.95" y1="180.60" x2="248.95" y2="181.80" stroke="#999" stroke-width="0.4"/>
<line x1="230.80" y1="157.03" x2="232.00" y2="157.03" stroke="#999" stroke-width="0.4"/>
<text x="230.4" y="158.0" font-size="2.5" font-family="Liberation Serif" font-weight="bold" fill="#000" text-anchor="start"></text>
<line x1="257.43" y1="180.60" x2="257.43" y2="181.80" stroke="#999" stroke-width="0.4"/>
<line x1="230.80" y1="149.17" x2="232.00" y2="149.17" stroke="#999" stroke-width="0.4"/>
<text x="230.4" y="150.2" font-size="2.5" font-family="Liberation Serif" font-weight="bold" fill="#000" text-anchor="start"></text>
<line x1="265.90" y1="180.60" x2="265.90" y2="181.80" stroke="#999" stroke-width="0.4"/>
<rect x="229.40" y="180.00" width="0.90" height="1.20" fill="#aaa" stroke="none" stroke-width="1" />
<rect x="231.40" y="182.20" width="1.40" height="0.90" fill="#aaa" stroke="none" stroke-width="1" />
<rect x="229.40" y="172.14" width="0.90" height="1.20" fill="#aaa" stroke="none" stroke-width="1" />
<rect x="239.88" y="182.20" width="1.40" height="0.90" fill="#aaa" stroke="none" stroke-width="1" />
<rect x="229.40" y="164.29" width="0.90" height="1.20" fill="#aaa" stroke="none" stroke-width="1" />
<rect x="248.35" y="182.20" width="1.40" height="0.90" fill="#aaa" stroke="none" stroke-width="1" />
<rect x="229.40" y="156.43" width="0.90" height="1.20" fill="#aaa" stroke="none" stroke-width="1" />
<rect x="256.83" y="182.20" width="1.40" height="0.90" fill="#aaa" stroke="none" stroke-width="1" />
<rect x="229.40" y="148.57" width="0.90" height="1.20" fill="#aaa" stroke="none" stroke-width="1" />
<rect x="265.30" y="182.20" width="1.40" height="0.90" fill="#aaa" stroke="none" stroke-width="1" />
<line x1="242.50" y1="147.90" x2="242.50" y2="180.30" stroke="#8a8a8a" stroke-width="0.6"/>
<line x1="232.30" y1="165.30" x2="267.30" y2="165.30" stroke="#8a8a8a" stroke-width="0.6"/>
<ellipse cx="147.0" cy="88.0" rx="6.8" ry="3.2" fill="#000" opacity="0.75" transform="rotate(-62 147.0 88.0)" filter="url(#bl10)"/>
<path d="M147.8 89.0h0.8v0.8h-0.8zM146.2 88.0h0.8v0.8h-0.8zM144.9 90.9h0.8v0.8h-0.8zM150.5 83.6h0.8v0.8h-0.8zM149.9 83.7h0.8v0.8h-0.8zM148.5 86.2h0.8v0.8h-0.8zM149.4 86.1h0.8v0.8h-0.8zM144.5 90.5h0.8v0.8h-0.8zM147.8 86.3h0.8v0.8h-0.8zM147.1 84.8h0.8v0.8h-0.8zM148.7 86.7h0.8v0.8h-0.8zM149.4 91.9h0.8v0.8h-0.8zM150.9 86.6h0.8v0.8h-0.8zM144.5 89.1h0.8v0.8h-0.8zM146.4 88.7h0.8v0.8h-0.8zM149.1 85.3h0.8v0.8h-0.8zM144.4 88.2h0.8v0.8h-0.8zM148.7 90.8h0.8v0.8h-0.8zM146.1 90.9h0.8v0.8h-0.8zM145.2 84.2h0.8v0.8h-0.8zM150.1 88.7h0.8v0.8h-0.8zM145.4 87.0h0.8v0.8h-0.8zM148.2 85.5h0.8v0.8h-0.8zM150.6 85.9h0.8v0.8h-0.8zM151.0 82.3h0.8v0.8h-0.8zM144.9 85.6h0.8v0.8h-0.8zM147.3 84.4h0.8v0.8h-0.8zM143.8 87.9h0.8v0.8h-0.8zM144.2 90.7h0.8v0.8h-0.8zM145.8 80.3h0.8v0.8h-0.8zM144.8 93.4h0.8v0.8h-0.8zM151.5 82.5h0.8v0.8h-0.8zM146.5 85.3h0.8v0.8h-0.8zM147.0 92.9h0.8v0.8h-0.8zM149.9 83.4h0.8v0.8h-0.8zM148.7 87.0h0.8v0.8h-0.8zM151.8 82.0h0.8v0.8h-0.8zM149.5 86.1h0.8v0.8h-0.8zM150.3 84.4h0.8v0.8h-0.8zM145.4 82.3h0.8v0.8h-0.8zM149.0 89.3h0.8v0.8h-0.8zM148.1 85.2h0.8v0.8h-0.8zM149.3 86.9h0.8v0.8h-0.8zM149.9 88.3h0.8v0.8h-0.8zM145.1 89.6h0.8v0.8h-0.8zM149.5 83.5h0.8v0.8h-0.8zM147.4 91.9h0.8v0.8h-0.8zM149.4 81.3h0.8v0.8h-0.8zM144.2 92.7h0.8v0.8h-0.8zM146.4 87.8h0.8v0.8h-0.8zM148.1 80.9h0.8v0.8h-0.8zM147.3 81.2h0.8v0.8h-0.8zM147.0 91.2h0.8v0.8h-0.8zM151.4 84.0h0.8v0.8h-0.8zM148.3 86.3h0.8v0.8h-0.8zM148.8 87.5h0.8v0.8h-0.8zM147.5 88.5h0.8v0.8h-0.8zM148.5 85.3h0.8v0.8h-0.8zM150.0 85.1h0.8v0.8h-0.8zM152.1 80.0h0.8v0.8h-0.8zM145.7 88.8h0.8v0.8h-0.8zM149.1 88.5h0.8v0.8h-0.8zM147.4 89.2h0.8v0.8h-0.8zM145.9 77.6h0.8v0.8h-0.8zM145.5 92.1h0.8v0.8h-0.8zM148.6 86.2h0.8v0.8h-0.8zM147.7 89.9h0.8v0.8h-0.8zM146.8 85.8h0.8v0.8h-0.8zM153.0 78.4h0.8v0.8h-0.8zM146.0 89.5h0.8v0.8h-0.8zM146.7 88.3h0.8v0.8h-0.8zM147.0 82.3h0.8v0.8h-0.8zM149.1 88.8h0.8v0.8h-0.8zM152.1 85.8h0.8v0.8h-0.8zM147.9 89.5h0.8v0.8h-0.8zM144.1 80.4h0.8v0.8h-0.8zM146.6 81.7h0.8v0.8h-0.8zM145.7 83.2h0.8v0.8h-0.8zM150.1 88.1h0.8v0.8h-0.8zM147.4 88.3h0.8v0.8h-0.8zM149.2 84.6h0.8v0.8h-0.8zM150.2 89.5h0.8v0.8h-0.8zM148.9 83.1h0.8v0.8h-0.8zM150.6 75.6h0.8v0.8h-0.8zM148.6 83.7h0.8v0.8h-0.8zM149.0 87.7h0.8v0.8h-0.8zM149.1 87.3h0.8v0.8h-0.8zM146.6 84.1h0.8v0.8h-0.8zM151.4 83.4h0.8v0.8h-0.8zM148.4 80.8h0.8v0.8h-0.8zM145.0 86.3h0.8v0.8h-0.8zM152.1 86.2h0.8v0.8h-0.8zM148.6 92.6h0.8v0.8h-0.8zM149.0 83.5h0.8v0.8h-0.8zM145.9 87.2h0.8v0.8h-0.8zM149.0 86.4h0.8v0.8h-0.8zM148.3 80.6h0.8v0.8h-0.8zM152.7 84.7h0.8v0.8h-0.8zM149.9 81.7h0.8v0.8h-0.8zM147.8 91.5h0.8v0.8h-0.8zM147.8 87.2h0.8v0.8h-0.8zM149.7 81.7h0.8v0.8h-0.8zM146.7 85.6h0.8v0.8h-0.8zM149.0 88.4h0.8v0.8h-0.8zM150.2 88.6h0.8v0.8h-0.8zM149.3 88.9h0.8v0.8h-0.8zM153.7 83.4h0.8v0.8h-0.8zM147.7 91.1h0.8v0.8h-0.8zM144.7 92.3h0.8v0.8h-0.8zM146.8 88.2h0.8v0.8h-0.8zM146.6 90.1h0.8v0.8h-0.8zM151.1 80.6h0.8v0.8h-0.8zM150.4 86.5h0.8v0.8h-0.8zM144.3 86.9h0.8v0.8h-0.8zM148.3 90.8h0.8v0.8h-0.8zM151.0 84.4h0.8v0.8h-0.8zM149.0 88.3h0.8v0.8h-0.8zM145.2 85.6h0.8v0.8h-0.8zM148.1 83.3h0.8v0.8h-0.8zM143.9 90.2h0.8v0.8h-0.8zM143.9 93.3h0.8v0.8h-0.8zM145.6 92.5h0.8v0.8h-0.8zM148.2 84.4h0.8v0.8h-0.8zM147.0 85.9h0.8v0.8h-0.8zM150.4 85.3h0.8v0.8h-0.8zM149.3 85.3h0.8v0.8h-0.8zM151.4 83.0h0.8v0.8h-0.8zM144.0 83.5h0.8v0.8h-0.8zM151.8 85.4h0.8v0.8h-0.8zM145.7 88.1h0.8v0.8h-0.8zM147.7 78.1h0.8v0.8h-0.8zM153.2 88.3h0.8v0.8h-0.8zM146.8 91.8h0.8v0.8h-0.8zM151.0 80.0h0.8v0.8h-0.8zM150.3 86.3h0.8v0.8h-0.8zM145.2 90.9h0.8v0.8h-0.8zM149.6 87.3h0.8v0.8h-0.8zM146.8 87.4h0.8v0.8h-0.8zM144.5 91.1h0.8v0.8h-0.8zM149.3 84.1h0.8v0.8h-0.8zM143.8 89.9h0.8v0.8h-0.8zM155.1 78.4h0.8v0.8h-0.8zM149.6 85.6h0.8v0.8h-0.8zM151.6 81.4h0.8v0.8h-0.8zM148.2 88.3h0.8v0.8h-0.8zM146.5 85.5h0.8v0.8h-0.8zM153.7 84.3h0.8v0.8h-0.8zM148.3 86.6h0.8v0.8h-0.8zM144.5 88.0h0.8v0.8h-0.8zM153.8 80.4h0.8v0.8h-0.8zM152.8 82.0h0.8v0.8h-0.8zM152.7 81.3h0.8v0.8h-0.8zM146.0 91.2h0.8v0.8h-0.8zM148.2 88.3h0.8v0.8h-0.8zM145.5 90.2h0.8v0.8h-0.8zM149.0 86.1h0.8v0.8h-0.8zM149.0 85.2h0.8v0.8h-0.8zM148.2 89.6h0.8v0.8h-0.8zM145.7 86.4h0.8v0.8h-0.8zM146.0 89.9h0.8v0.8h-0.8zM147.4 88.1h0.8v0.8h-0.8zM147.7 87.7h0.8v0.8h-0.8zM144.5 86.7h0.8v0.8h-0.8zM150.3 87.0h0.8v0.8h-0.8zM147.8 85.6h0.8v0.8h-0.8zM146.3 84.7h0.8v0.8h-0.8zM146.9 91.9h0.8v0.8h-0.8zM148.4 93.2h0.8v0.8h-0.8zM143.7 87.5h0.8v0.8h-0.8zM146.8 91.0h0.8v0.8h-0.8zM148.7 85.8h0.8v0.8h-0.8zM151.8 82.5h0.8v0.8h-0.8zM148.5 88.2h0.8v0.8h-0.8zM152.7 82.1h0.8v0.8h-0.8zM147.2 82.4h0.8v0.8h-0.8zM148.5 88.9h0.8v0.8h-0.8zM148.9 89.8h0.8v0.8h-0.8zM150.4 86.2h0.8v0.8h-0.8zM152.0 91.1h0.8v0.8h-0.8zM149.4 82.4h0.8v0.8h-0.8zM152.8 90.0h0.8v0.8h-0.8zM148.4 89.8h0.8v0.8h-0.8zM149.3 83.7h0.8v0.8h-0.8zM145.3 92.2h0.8v0.8h-0.8zM150.3 87.3h0.8v0.8h-0.8zM149.0 84.5h0.8v0.8h-0.8zM150.2 84.8h0.8v0.8h-0.8zM147.8 86.8h0.8v0.8h-0.8zM148.2 89.2h0.8v0.8h-0.8zM143.8 90.9h0.8v0.8h-0.8zM144.3 85.9h0.8v0.8h-0.8zM147.0 90.8h0.8v0.8h-0.8zM148.4 85.2h0.8v0.8h-0.8zM143.9 86.9h0.8v0.8h-0.8zM152.1 81.0h0.8v0.8h-0.8zM147.8 82.3h0.8v0.8h-0.8zM150.8 85.5h0.8v0.8h-0.8zM145.0 83.1h0.8v0.8h-0.8zM147.9 87.6h0.8v0.8h-0.8zM150.0 85.8h0.8v0.8h-0.8zM152.8 82.9h0.8v0.8h-0.8zM143.6 92.1h0.8v0.8h-0.8zM147.1 87.8h0.8v0.8h-0.8zM145.1 83.9h0.8v0.8h-0.8zM144.7 92.3h0.8v0.8h-0.8zM146.3 87.9h0.8v0.8h-0.8zM145.6 86.9h0.8v0.8h-0.8zM149.5 85.2h0.8v0.8h-0.8zM145.8 87.1h0.8v0.8h-0.8zM145.3 91.4h0.8v0.8h-0.8zM144.6 93.6h0.8v0.8h-0.8zM144.8 85.4h0.8v0.8h-0.8zM146.1 88.1h0.8v0.8h-0.8zM149.5 86.4h0.8v0.8h-0.8zM145.5 86.7h0.8v0.8h-0.8zM146.9 88.0h0.8v0.8h-0.8zM149.4 85.0h0.8v0.8h-0.8zM145.0 88.2h0.8v0.8h-0.8zM144.8 91.7h0.8v0.8h-0.8zM146.5 89.5h0.8v0.8h-0.8zM147.5 85.0h0.8v0.8h-0.8zM151.4 78.1h0.8v0.8h-0.8zM149.8 83.4h0.8v0.8h-0.8zM144.8 80.6h0.8v0.8h-0.8zM146.2 90.7h0.8v0.8h-0.8zM153.3 87.7h0.8v0.8h-0.8zM150.6 87.6h0.8v0.8h-0.8zM150.8 85.5h0.8v0.8h-0.8zM148.0 85.3h0.8v0.8h-0.8zM146.2 84.4h0.8v0.8h-0.8zM147.7 81.8h0.8v0.8h-0.8zM152.1 88.8h0.8v0.8h-0.8zM146.9 88.4h0.8v0.8h-0.8zM149.8 83.0h0.8v0.8h-0.8zM146.2 90.9h0.8v0.8h-0.8zM149.9 86.0h0.8v0.8h-0.8zM149.3 92.4h0.8v0.8h-0.8zM150.8 81.0h0.8v0.8h-0.8zM147.0 86.0h0.8v0.8h-0.8zM148.8 81.2h0.8v0.8h-0.8zM147.7 84.4h0.8v0.8h-0.8zM147.3 91.0h0.8v0.8h-0.8zM150.0 82.3h0.8v0.8h-0.8zM147.5 91.0h0.8v0.8h-0.8zM147.8 88.0h0.8v0.8h-0.8zM152.7 82.8h0.8v0.8h-0.8zM150.9 92.0h0.8v0.8h-0.8zM148.9 88.3h0.8v0.8h-0.8zM145.9 90.0h0.8v0.8h-0.8zM147.7 80.9h0.8v0.8h-0.8zM148.8 82.4h0.8v0.8h-0.8zM146.5 87.4h0.8v0.8h-0.8zM144.8 86.8h0.8v0.8h-0.8zM144.4 85.9h0.8v0.8h-0.8zM147.8 88.1h0.8v0.8h-0.8zM147.8 85.4h0.8v0.8h-0.8zM145.8 91.2h0.8v0.8h-0.8zM149.5 91.1h0.8v0.8h-0.8zM148.7 84.4h0.8v0.8h-0.8zM144.9 88.6h0.8v0.8h-0.8zM144.6 90.8h0.8v0.8h-0.8zM149.0 86.9h0.8v0.8h-0.8zM152.7 87.6h0.8v0.8h-0.8zM145.9 90.3h0.8v0.8h-0.8zM149.3 74.6h0.8v0.8h-0.8zM146.6 89.7h0.8v0.8h-0.8zM148.4 87.3h0.8v0.8h-0.8zM147.6 88.8h0.8v0.8h-0.8zM149.0 88.1h0.8v0.8h-0.8zM145.2 86.4h0.8v0.8h-0.8zM146.4 92.2h0.8v0.8h-0.8zM147.2 90.7h0.8v0.8h-0.8zM149.5 84.9h0.8v0.8h-0.8zM148.1 85.4h0.8v0.8h-0.8zM144.3 92.9h0.8v0.8h-0.8zM147.2 85.2h0.8v0.8h-0.8zM148.6 88.7h0.8v0.8h-0.8zM146.8 91.6h0.8v0.8h-0.8zM150.0 79.7h0.8v0.8h-0.8zM147.3 86.8h0.8v0.8h-0.8zM151.1 81.9h0.8v0.8h-0.8zM147.8 83.3h0.8v0.8h-0.8zM147.2 87.6h0.8v0.8h-0.8zM145.6 82.1h0.8v0.8h-0.8zM148.6 84.5h0.8v0.8h-0.8zM149.0 86.2h0.8v0.8h-0.8zM143.8 93.1h0.8v0.8h-0.8zM149.2 81.1h0.8v0.8h-0.8zM145.5 92.6h0.8v0.8h-0.8zM151.7 81.4h0.8v0.8h-0.8zM152.3 89.0h0.8v0.8h-0.8zM144.9 88.8h0.8v0.8h-0.8zM149.5 86.0h0.8v0.8h-0.8zM148.4 86.6h0.8v0.8h-0.8zM144.2 92.4h0.8v0.8h-0.8zM147.1 90.1h0.8v0.8h-0.8zM146.9 87.9h0.8v0.8h-0.8zM148.7 90.0h0.8v0.8h-0.8zM149.4 81.7h0.8v0.8h-0.8zM147.5 83.4h0.8v0.8h-0.8zM149.0 88.0h0.8v0.8h-0.8zM149.7 81.2h0.8v0.8h-0.8zM147.5 88.0h0.8v0.8h-0.8zM144.2 93.3h0.8v0.8h-0.8zM146.7 90.5h0.8v0.8h-0.8zM147.9 87.6h0.8v0.8h-0.8zM148.0 90.6h0.8v0.8h-0.8zM145.5 87.9h0.8v0.8h-0.8zM145.1 84.0h0.8v0.8h-0.8zM145.9 90.1h0.8v0.8h-0.8zM148.7 84.0h0.8v0.8h-0.8zM146.6 85.6h0.8v0.8h-0.8zM151.3 88.1h0.8v0.8h-0.8zM150.7 92.7h0.8v0.8h-0.8zM146.0 90.0h0.8v0.8h-0.8zM149.7 87.9h0.8v0.8h-0.8zM150.2 86.0h0.8v0.8h-0.8zM153.9 87.9h0.8v0.8h-0.8zM148.2 87.0h0.8v0.8h-0.8zM150.0 84.3h0.8v0.8h-0.8zM148.2 79.7h0.8v0.8h-0.8zM148.2 83.9h0.8v0.8h-0.8zM153.6 86.2h0.8v0.8h-0.8zM146.8 87.2h0.8v0.8h-0.8zM144.6 88.5h0.8v0.8h-0.8zM147.3 90.6h0.8v0.8h-0.8zM147.5 87.4h0.8v0.8h-0.8zM148.8 89.2h0.8v0.8h-0.8zM148.0 85.4h0.8v0.8h-0.8zM148.4 84.8h0.8v0.8h-0.8zM147.9 93.6h0.8v0.8h-0.8zM146.3 84.7h0.8v0.8h-0.8zM150.2 83.7h0.8v0.8h-0.8zM149.8 87.2h0.8v0.8h-0.8zM147.4 86.6h0.8v0.8h-0.8zM146.8 87.1h0.8v0.8h-0.8zM148.2 86.2h0.8v0.8h-0.8zM147.9 84.5h0.8v0.8h-0.8zM147.8 89.9h0.8v0.8h-0.8zM149.3 81.9h0.8v0.8h-0.8zM150.3 89.7h0.8v0.8h-0.8zM148.1 89.6h0.8v0.8h-0.8zM150.8 81.0h0.8v0.8h-0.8zM148.4 82.0h0.8v0.8h-0.8zM147.6 86.6h0.8v0.8h-0.8zM149.8 88.3h0.8v0.8h-0.8zM150.9 77.5h0.8v0.8h-0.8zM147.1 90.3h0.8v0.8h-0.8zM146.1 92.1h0.8v0.8h-0.8zM147.9 85.0h0.8v0.8h-0.8zM145.3 83.8h0.8v0.8h-0.8zM145.7 82.9h0.8v0.8h-0.8zM144.7 89.6h0.8v0.8h-0.8zM148.2 90.0h0.8v0.8h-0.8zM146.7 86.8h0.8v0.8h-0.8zM151.6 87.1h0.8v0.8h-0.8zM148.1 87.9h0.8v0.8h-0.8zM150.4 83.0h0.8v0.8h-0.8zM147.8 76.8h0.8v0.8h-0.8zM148.1 88.1h0.8v0.8h-0.8zM150.7 84.5h0.8v0.8h-0.8zM144.6 87.4h0.8v0.8h-0.8zM149.6 88.2h0.8v0.8h-0.8zM145.9 88.0h0.8v0.8h-0.8zM146.8 85.0h0.8v0.8h-0.8zM144.7 90.5h0.8v0.8h-0.8zM145.8 87.0h0.8v0.8h-0.8zM148.8 88.3h0.8v0.8h-0.8zM153.2 84.7h0.8v0.8h-0.8zM144.8 90.1h0.8v0.8h-0.8zM145.7 90.3h0.8v0.8h-0.8zM145.6 84.0h0.8v0.8h-0.8zM148.2 85.7h0.8v0.8h-0.8zM146.0 80.8h0.8v0.8h-0.8zM149.4 84.6h0.8v0.8h-0.8zM149.2 86.1h0.8v0.8h-0.8zM149.5 82.2h0.8v0.8h-0.8zM148.3 83.7h0.8v0.8h-0.8zM147.2 83.8h0.8v0.8h-0.8zM150.6 89.8h0.8v0.8h-0.8zM147.9 85.6h0.8v0.8h-0.8zM149.6 87.8h0.8v0.8h-0.8zM149.2 86.4h0.8v0.8h-0.8zM150.0 89.1h0.8v0.8h-0.8zM145.4 88.4h0.8v0.8h-0.8zM149.3 84.1h0.8v0.8h-0.8zM145.6 88.0h0.8v0.8h-0.8zM148.0 89.2h0.8v0.8h-0.8zM145.6 84.8h0.8v0.8h-0.8zM148.5 86.0h0.8v0.8h-0.8zM146.8 92.2h0.8v0.8h-0.8zM146.0 88.2h0.8v0.8h-0.8zM151.6 85.8h0.8v0.8h-0.8zM146.8 90.6h0.8v0.8h-0.8zM150.2 93.4h0.8v0.8h-0.8zM148.7 90.7h0.8v0.8h-0.8zM147.6 90.9h0.8v0.8h-0.8zM146.7 76.1h0.8v0.8h-0.8zM147.4 89.7h0.8v0.8h-0.8zM145.8 87.1h0.8v0.8h-0.8zM151.9 79.2h0.8v0.8h-0.8zM146.4 89.9h0.8v0.8h-0.8zM150.1 82.7h0.8v0.8h-0.8zM151.2 83.7h0.8v0.8h-0.8zM147.4 91.6h0.8v0.8h-0.8zM149.6 86.3h0.8v0.8h-0.8zM150.6 84.8h0.8v0.8h-0.8zM144.1 81.4h0.8v0.8h-0.8zM148.6 87.4h0.8v0.8h-0.8zM150.6 76.6h0.8v0.8h-0.8zM146.7 88.8h0.8v0.8h-0.8zM148.2 83.6h0.8v0.8h-0.8zM148.1 82.2h0.8v0.8h-0.8zM146.8 85.9h0.8v0.8h-0.8zM146.2 86.1h0.8v0.8h-0.8zM146.8 85.7h0.8v0.8h-0.8zM149.7 87.8h0.8v0.8h-0.8zM145.1 91.2h0.8v0.8h-0.8zM149.5 86.0h0.8v0.8h-0.8z" fill="#000" opacity="0.55"/>
<ellipse cx="157.8" cy="78.8" rx="6.8" ry="1.5" fill="#000" opacity="0.4" transform="rotate(-42 157.8 78.8)" filter="url(#bl8)"/>
<path d="M162.7 75.0h0.8v0.8h-0.8zM157.6 78.5h0.8v0.8h-0.8zM158.4 77.5h0.8v0.8h-0.8zM153.3 81.5h0.8v0.8h-0.8zM155.0 80.2h0.8v0.8h-0.8zM154.0 83.3h0.8v0.8h-0.8zM153.5 83.8h0.8v0.8h-0.8zM154.3 82.5h0.8v0.8h-0.8zM163.1 74.4h0.8v0.8h-0.8zM155.1 81.3h0.8v0.8h-0.8zM156.8 76.6h0.8v0.8h-0.8zM155.7 81.0h0.8v0.8h-0.8zM156.1 80.4h0.8v0.8h-0.8zM161.2 77.1h0.8v0.8h-0.8zM161.7 76.3h0.8v0.8h-0.8zM156.7 79.7h0.8v0.8h-0.8zM156.5 79.4h0.8v0.8h-0.8zM155.6 77.7h0.8v0.8h-0.8zM156.5 79.9h0.8v0.8h-0.8zM154.2 82.0h0.8v0.8h-0.8zM159.6 76.9h0.8v0.8h-0.8zM163.2 69.3h0.8v0.8h-0.8zM155.4 77.7h0.8v0.8h-0.8zM163.8 78.1h0.8v0.8h-0.8zM148.6 87.3h0.8v0.8h-0.8zM159.5 76.8h0.8v0.8h-0.8zM157.9 74.8h0.8v0.8h-0.8zM161.3 76.3h0.8v0.8h-0.8zM157.4 78.2h0.8v0.8h-0.8zM159.7 76.2h0.8v0.8h-0.8zM158.2 77.6h0.8v0.8h-0.8zM149.4 86.3h0.8v0.8h-0.8zM159.2 78.9h0.8v0.8h-0.8zM154.5 81.7h0.8v0.8h-0.8zM160.2 76.9h0.8v0.8h-0.8zM164.1 76.6h0.8v0.8h-0.8zM152.8 80.0h0.8v0.8h-0.8zM162.3 77.4h0.8v0.8h-0.8zM161.9 76.5h0.8v0.8h-0.8zM154.9 80.2h0.8v0.8h-0.8zM160.3 74.9h0.8v0.8h-0.8zM150.2 83.9h0.8v0.8h-0.8zM168.7 72.3h0.8v0.8h-0.8zM154.6 80.4h0.8v0.8h-0.8zM158.0 77.3h0.8v0.8h-0.8zM162.6 74.3h0.8v0.8h-0.8zM154.9 83.7h0.8v0.8h-0.8zM155.8 81.0h0.8v0.8h-0.8zM157.5 78.5h0.8v0.8h-0.8zM158.4 77.0h0.8v0.8h-0.8zM149.0 82.8h0.8v0.8h-0.8zM152.4 82.3h0.8v0.8h-0.8zM157.8 78.9h0.8v0.8h-0.8zM160.0 77.1h0.8v0.8h-0.8zM154.2 80.8h0.8v0.8h-0.8zM149.8 85.7h0.8v0.8h-0.8zM160.1 77.7h0.8v0.8h-0.8zM157.2 79.0h0.8v0.8h-0.8zM161.3 75.7h0.8v0.8h-0.8zM161.0 76.9h0.8v0.8h-0.8zM159.7 79.3h0.8v0.8h-0.8zM155.4 80.4h0.8v0.8h-0.8zM154.1 80.7h0.8v0.8h-0.8zM165.1 75.3h0.8v0.8h-0.8zM158.4 79.3h0.8v0.8h-0.8zM162.9 75.6h0.8v0.8h-0.8zM161.2 73.5h0.8v0.8h-0.8zM155.8 81.4h0.8v0.8h-0.8zM163.2 74.1h0.8v0.8h-0.8zM154.3 81.3h0.8v0.8h-0.8zM154.6 80.2h0.8v0.8h-0.8zM162.8 73.2h0.8v0.8h-0.8zM159.8 80.8h0.8v0.8h-0.8zM162.5 75.2h0.8v0.8h-0.8zM155.9 81.2h0.8v0.8h-0.8zM164.4 74.0h0.8v0.8h-0.8zM162.6 74.7h0.8v0.8h-0.8zM159.5 76.9h0.8v0.8h-0.8zM160.5 78.6h0.8v0.8h-0.8zM152.4 83.5h0.8v0.8h-0.8zM158.2 77.4h0.8v0.8h-0.8zM157.3 80.6h0.8v0.8h-0.8zM165.8 72.7h0.8v0.8h-0.8zM157.7 76.2h0.8v0.8h-0.8zM165.0 72.4h0.8v0.8h-0.8zM156.7 77.8h0.8v0.8h-0.8zM156.6 77.9h0.8v0.8h-0.8zM158.5 79.0h0.8v0.8h-0.8zM158.2 79.0h0.8v0.8h-0.8zM155.9 83.0h0.8v0.8h-0.8zM153.8 79.2h0.8v0.8h-0.8zM156.4 78.7h0.8v0.8h-0.8zM153.7 81.8h0.8v0.8h-0.8zM157.9 76.7h0.8v0.8h-0.8zM158.5 80.6h0.8v0.8h-0.8zM160.2 76.4h0.8v0.8h-0.8zM158.2 78.3h0.8v0.8h-0.8zM158.3 79.7h0.8v0.8h-0.8zM155.4 76.8h0.8v0.8h-0.8zM156.9 78.0h0.8v0.8h-0.8zM159.7 76.0h0.8v0.8h-0.8zM160.2 80.4h0.8v0.8h-0.8zM152.9 81.2h0.8v0.8h-0.8zM150.5 81.2h0.8v0.8h-0.8zM151.1 85.4h0.8v0.8h-0.8zM153.8 79.1h0.8v0.8h-0.8zM152.8 84.4h0.8v0.8h-0.8zM154.6 81.0h0.8v0.8h-0.8zM160.2 79.0h0.8v0.8h-0.8zM165.9 73.3h0.8v0.8h-0.8zM158.5 78.5h0.8v0.8h-0.8zM165.7 74.2h0.8v0.8h-0.8zM157.0 80.3h0.8v0.8h-0.8zM158.9 77.9h0.8v0.8h-0.8zM154.8 79.2h0.8v0.8h-0.8zM154.5 79.1h0.8v0.8h-0.8zM162.8 75.2h0.8v0.8h-0.8zM154.5 84.2h0.8v0.8h-0.8zM159.5 74.0h0.8v0.8h-0.8zM165.3 73.4h0.8v0.8h-0.8zM164.4 70.7h0.8v0.8h-0.8zM160.1 77.4h0.8v0.8h-0.8zM158.7 78.3h0.8v0.8h-0.8zM160.4 73.8h0.8v0.8h-0.8zM152.0 81.6h0.8v0.8h-0.8zM155.2 80.1h0.8v0.8h-0.8zM159.4 77.8h0.8v0.8h-0.8zM157.3 78.0h0.8v0.8h-0.8zM157.0 81.2h0.8v0.8h-0.8zM160.7 76.3h0.8v0.8h-0.8zM158.0 81.4h0.8v0.8h-0.8zM156.2 81.4h0.8v0.8h-0.8zM161.9 74.7h0.8v0.8h-0.8zM159.9 75.0h0.8v0.8h-0.8zM161.7 75.6h0.8v0.8h-0.8zM152.5 84.8h0.8v0.8h-0.8zM155.6 83.0h0.8v0.8h-0.8zM155.1 80.9h0.8v0.8h-0.8zM158.6 77.5h0.8v0.8h-0.8zM158.3 77.4h0.8v0.8h-0.8zM160.3 76.6h0.8v0.8h-0.8zM156.2 75.4h0.8v0.8h-0.8zM162.1 74.9h0.8v0.8h-0.8zM151.3 84.9h0.8v0.8h-0.8zM160.5 78.3h0.8v0.8h-0.8zM155.1 83.9h0.8v0.8h-0.8zM159.3 81.6h0.8v0.8h-0.8zM157.8 79.9h0.8v0.8h-0.8zM155.5 78.9h0.8v0.8h-0.8zM162.7 76.0h0.8v0.8h-0.8zM164.3 74.5h0.8v0.8h-0.8zM154.2 79.1h0.8v0.8h-0.8zM154.8 80.3h0.8v0.8h-0.8zM155.3 82.1h0.8v0.8h-0.8zM158.8 77.4h0.8v0.8h-0.8zM158.3 78.1h0.8v0.8h-0.8zM159.2 78.8h0.8v0.8h-0.8zM160.8 74.9h0.8v0.8h-0.8zM153.4 85.2h0.8v0.8h-0.8zM159.2 79.5h0.8v0.8h-0.8zM151.4 84.0h0.8v0.8h-0.8zM156.6 77.3h0.8v0.8h-0.8zM156.5 81.2h0.8v0.8h-0.8zM163.2 76.7h0.8v0.8h-0.8zM153.4 80.3h0.8v0.8h-0.8zM160.6 78.0h0.8v0.8h-0.8zM157.4 76.9h0.8v0.8h-0.8zM161.4 76.9h0.8v0.8h-0.8zM159.4 76.5h0.8v0.8h-0.8zM159.6 78.5h0.8v0.8h-0.8zM154.1 78.9h0.8v0.8h-0.8zM159.4 78.2h0.8v0.8h-0.8zM158.6 79.6h0.8v0.8h-0.8zM155.5 80.7h0.8v0.8h-0.8zM157.2 80.4h0.8v0.8h-0.8zM163.5 73.2h0.8v0.8h-0.8zM166.8 73.4h0.8v0.8h-0.8zM161.2 76.7h0.8v0.8h-0.8zM164.2 72.7h0.8v0.8h-0.8zM156.5 78.1h0.8v0.8h-0.8zM160.7 78.5h0.8v0.8h-0.8zM160.1 77.4h0.8v0.8h-0.8zM157.2 79.6h0.8v0.8h-0.8zM153.4 84.6h0.8v0.8h-0.8zM155.3 79.1h0.8v0.8h-0.8zM154.3 80.5h0.8v0.8h-0.8zM161.9 77.0h0.8v0.8h-0.8zM153.6 84.2h0.8v0.8h-0.8zM160.6 75.3h0.8v0.8h-0.8zM151.6 83.1h0.8v0.8h-0.8zM155.7 81.3h0.8v0.8h-0.8zM154.7 78.0h0.8v0.8h-0.8zM157.3 76.5h0.8v0.8h-0.8zM160.1 74.6h0.8v0.8h-0.8zM154.5 80.3h0.8v0.8h-0.8zM156.9 81.9h0.8v0.8h-0.8zM161.5 76.5h0.8v0.8h-0.8zM157.6 76.2h0.8v0.8h-0.8zM155.4 80.0h0.8v0.8h-0.8zM154.6 82.6h0.8v0.8h-0.8zM154.4 80.6h0.8v0.8h-0.8zM152.1 80.3h0.8v0.8h-0.8zM161.2 78.1h0.8v0.8h-0.8zM157.6 77.3h0.8v0.8h-0.8zM147.9 88.0h0.8v0.8h-0.8zM162.6 75.0h0.8v0.8h-0.8zM162.5 77.1h0.8v0.8h-0.8zM161.6 74.6h0.8v0.8h-0.8zM162.4 76.0h0.8v0.8h-0.8zM151.7 83.6h0.8v0.8h-0.8zM152.4 83.5h0.8v0.8h-0.8zM159.0 75.8h0.8v0.8h-0.8zM151.3 86.9h0.8v0.8h-0.8zM160.5 79.0h0.8v0.8h-0.8zM153.8 84.3h0.8v0.8h-0.8zM167.3 73.8h0.8v0.8h-0.8zM157.3 79.8h0.8v0.8h-0.8zM158.1 80.3h0.8v0.8h-0.8zM161.7 75.4h0.8v0.8h-0.8zM153.4 84.1h0.8v0.8h-0.8zM156.6 81.0h0.8v0.8h-0.8zM160.2 79.5h0.8v0.8h-0.8zM161.6 74.6h0.8v0.8h-0.8zM160.6 79.3h0.8v0.8h-0.8zM156.2 81.0h0.8v0.8h-0.8zM163.3 76.0h0.8v0.8h-0.8zM158.6 75.8h0.8v0.8h-0.8zM153.3 83.3h0.8v0.8h-0.8zM161.5 80.0h0.8v0.8h-0.8zM155.6 82.8h0.8v0.8h-0.8zM159.2 74.6h0.8v0.8h-0.8zM154.9 81.7h0.8v0.8h-0.8zM155.8 80.3h0.8v0.8h-0.8zM158.8 76.4h0.8v0.8h-0.8zM159.0 76.6h0.8v0.8h-0.8zM156.2 81.1h0.8v0.8h-0.8zM155.9 81.0h0.8v0.8h-0.8zM163.8 73.5h0.8v0.8h-0.8zM157.9 80.0h0.8v0.8h-0.8zM157.4 81.1h0.8v0.8h-0.8zM153.6 83.7h0.8v0.8h-0.8zM155.2 79.7h0.8v0.8h-0.8zM163.6 72.1h0.8v0.8h-0.8zM164.9 73.6h0.8v0.8h-0.8zM162.3 73.0h0.8v0.8h-0.8zM163.5 76.2h0.8v0.8h-0.8zM157.3 79.1h0.8v0.8h-0.8zM167.1 70.8h0.8v0.8h-0.8zM155.7 79.6h0.8v0.8h-0.8zM159.7 77.6h0.8v0.8h-0.8zM160.0 79.9h0.8v0.8h-0.8zM157.0 80.4h0.8v0.8h-0.8zM162.3 72.9h0.8v0.8h-0.8zM163.3 77.1h0.8v0.8h-0.8zM151.8 82.3h0.8v0.8h-0.8zM152.3 80.5h0.8v0.8h-0.8zM157.9 75.5h0.8v0.8h-0.8zM160.9 78.5h0.8v0.8h-0.8zM151.5 83.9h0.8v0.8h-0.8zM151.4 86.0h0.8v0.8h-0.8z" fill="#000" opacity="0.55"/>
<path d="M146.9 85.2h0.7v0.7h-0.7zM154.2 83.6h0.7v0.7h-0.7zM150.1 84.0h0.7v0.7h-0.7zM149.3 85.5h0.7v0.7h-0.7zM145.6 88.9h0.7v0.7h-0.7zM163.1 71.4h0.7v0.7h-0.7zM145.8 90.0h0.7v0.7h-0.7zM150.4 88.8h0.7v0.7h-0.7zM153.8 79.5h0.7v0.7h-0.7zM160.5 75.2h0.7v0.7h-0.7zM145.2 88.2h0.7v0.7h-0.7zM152.6 80.3h0.7v0.7h-0.7zM145.6 78.7h0.7v0.7h-0.7zM150.7 89.3h0.7v0.7h-0.7zM157.1 84.2h0.7v0.7h-0.7zM147.8 90.5h0.7v0.7h-0.7zM151.6 77.2h0.7v0.7h-0.7zM151.5 76.1h0.7v0.7h-0.7zM147.4 86.4h0.7v0.7h-0.7zM152.3 87.1h0.7v0.7h-0.7zM154.2 88.8h0.7v0.7h-0.7zM162.2 74.6h0.7v0.7h-0.7zM154.4 73.7h0.7v0.7h-0.7zM157.5 78.4h0.7v0.7h-0.7zM155.8 78.4h0.7v0.7h-0.7zM156.5 72.9h0.7v0.7h-0.7zM156.0 72.8h0.7v0.7h-0.7zM145.0 80.0h0.7v0.7h-0.7zM148.1 81.4h0.7v0.7h-0.7zM145.5 81.7h0.7v0.7h-0.7zM150.6 80.2h0.7v0.7h-0.7zM153.5 82.2h0.7v0.7h-0.7zM146.2 72.3h0.7v0.7h-0.7zM146.2 82.2h0.7v0.7h-0.7zM150.8 72.0h0.7v0.7h-0.7zM146.9 85.0h0.7v0.7h-0.7zM153.6 87.4h0.7v0.7h-0.7zM152.9 87.9h0.7v0.7h-0.7zM160.4 76.6h0.7v0.7h-0.7zM155.2 79.7h0.7v0.7h-0.7zM150.4 75.0h0.7v0.7h-0.7zM155.5 74.8h0.7v0.7h-0.7zM157.9 76.7h0.7v0.7h-0.7zM157.9 75.1h0.7v0.7h-0.7zM150.6 85.1h0.7v0.7h-0.7zM147.7 82.5h0.7v0.7h-0.7z" fill="#000" opacity="0.12"/>
<ellipse cx="195.0" cy="77.0" rx="7.0" ry="2.6" fill="#000" opacity="0.6" transform="rotate(-18 195.0 77.0)" filter="url(#bl10)"/>
<path d="M196.1 77.2h0.8v0.8h-0.8zM203.5 74.5h0.8v0.8h-0.8zM206.7 77.9h0.8v0.8h-0.8zM205.3 76.5h0.8v0.8h-0.8zM196.3 77.1h0.8v0.8h-0.8zM194.2 75.6h0.8v0.8h-0.8zM194.7 75.7h0.8v0.8h-0.8zM204.5 75.4h0.8v0.8h-0.8zM191.7 73.4h0.8v0.8h-0.8zM194.9 76.1h0.8v0.8h-0.8zM189.0 76.3h0.8v0.8h-0.8zM197.1 83.0h0.8v0.8h-0.8zM195.2 76.7h0.8v0.8h-0.8zM203.2 74.9h0.8v0.8h-0.8zM196.1 75.9h0.8v0.8h-0.8zM193.4 81.5h0.8v0.8h-0.8zM202.0 79.2h0.8v0.8h-0.8zM193.7 77.7h0.8v0.8h-0.8zM191.6 80.7h0.8v0.8h-0.8zM188.6 80.7h0.8v0.8h-0.8zM202.3 78.4h0.8v0.8h-0.8zM191.4 81.1h0.8v0.8h-0.8zM191.2 76.5h0.8v0.8h-0.8zM189.4 81.9h0.8v0.8h-0.8zM203.7 72.8h0.8v0.8h-0.8zM191.3 77.5h0.8v0.8h-0.8zM209.4 75.0h0.8v0.8h-0.8zM191.3 73.8h0.8v0.8h-0.8zM192.9 80.9h0.8v0.8h-0.8zM205.1 73.2h0.8v0.8h-0.8zM191.5 77.0h0.8v0.8h-0.8zM186.3 82.3h0.8v0.8h-0.8zM190.6 81.3h0.8v0.8h-0.8zM196.4 74.8h0.8v0.8h-0.8zM199.6 75.7h0.8v0.8h-0.8zM189.8 80.4h0.8v0.8h-0.8zM198.5 71.2h0.8v0.8h-0.8zM205.4 75.0h0.8v0.8h-0.8zM198.1 71.5h0.8v0.8h-0.8zM191.5 77.4h0.8v0.8h-0.8zM200.1 71.8h0.8v0.8h-0.8zM189.4 73.9h0.8v0.8h-0.8zM194.5 78.2h0.8v0.8h-0.8zM186.2 78.5h0.8v0.8h-0.8zM199.3 79.8h0.8v0.8h-0.8zM198.7 75.2h0.8v0.8h-0.8zM188.6 76.9h0.8v0.8h-0.8zM192.1 78.5h0.8v0.8h-0.8zM196.5 80.9h0.8v0.8h-0.8zM196.2 74.1h0.8v0.8h-0.8zM204.3 76.5h0.8v0.8h-0.8zM195.5 75.2h0.8v0.8h-0.8zM199.7 73.6h0.8v0.8h-0.8zM188.7 79.7h0.8v0.8h-0.8zM197.2 78.0h0.8v0.8h-0.8zM200.0 79.1h0.8v0.8h-0.8zM191.8 80.7h0.8v0.8h-0.8zM190.9 80.3h0.8v0.8h-0.8zM196.6 77.3h0.8v0.8h-0.8zM200.5 75.3h0.8v0.8h-0.8zM202.0 77.1h0.8v0.8h-0.8zM195.8 75.5h0.8v0.8h-0.8zM191.2 77.1h0.8v0.8h-0.8zM194.4 77.3h0.8v0.8h-0.8zM211.6 73.4h0.8v0.8h-0.8zM198.9 73.7h0.8v0.8h-0.8zM191.5 77.5h0.8v0.8h-0.8zM195.7 74.3h0.8v0.8h-0.8zM203.5 73.0h0.8v0.8h-0.8zM199.4 69.8h0.8v0.8h-0.8zM195.7 77.6h0.8v0.8h-0.8zM196.9 78.0h0.8v0.8h-0.8zM197.1 76.9h0.8v0.8h-0.8zM197.0 76.0h0.8v0.8h-0.8zM190.8 77.1h0.8v0.8h-0.8zM206.4 77.8h0.8v0.8h-0.8zM196.2 80.0h0.8v0.8h-0.8zM192.3 75.8h0.8v0.8h-0.8zM192.7 78.4h0.8v0.8h-0.8zM210.8 70.4h0.8v0.8h-0.8zM196.0 77.5h0.8v0.8h-0.8zM196.0 79.2h0.8v0.8h-0.8zM203.9 71.1h0.8v0.8h-0.8zM196.1 76.1h0.8v0.8h-0.8zM196.2 72.9h0.8v0.8h-0.8zM198.4 76.5h0.8v0.8h-0.8zM194.1 71.5h0.8v0.8h-0.8zM193.0 75.9h0.8v0.8h-0.8zM187.4 77.3h0.8v0.8h-0.8zM199.6 77.1h0.8v0.8h-0.8zM195.8 78.2h0.8v0.8h-0.8zM192.4 78.2h0.8v0.8h-0.8zM196.1 78.2h0.8v0.8h-0.8zM195.0 76.8h0.8v0.8h-0.8zM194.3 75.8h0.8v0.8h-0.8zM207.6 74.4h0.8v0.8h-0.8zM199.4 81.5h0.8v0.8h-0.8zM201.7 71.1h0.8v0.8h-0.8zM199.8 77.7h0.8v0.8h-0.8zM206.3 76.8h0.8v0.8h-0.8zM198.7 73.0h0.8v0.8h-0.8zM191.1 79.1h0.8v0.8h-0.8zM197.4 73.8h0.8v0.8h-0.8zM193.2 76.7h0.8v0.8h-0.8zM196.1 77.7h0.8v0.8h-0.8zM193.1 74.7h0.8v0.8h-0.8zM203.2 78.5h0.8v0.8h-0.8zM195.7 79.5h0.8v0.8h-0.8zM198.3 77.8h0.8v0.8h-0.8zM197.5 74.4h0.8v0.8h-0.8zM199.3 78.3h0.8v0.8h-0.8zM192.3 83.0h0.8v0.8h-0.8zM207.8 77.6h0.8v0.8h-0.8zM206.5 75.3h0.8v0.8h-0.8zM193.3 76.2h0.8v0.8h-0.8zM191.3 78.6h0.8v0.8h-0.8zM195.8 78.6h0.8v0.8h-0.8zM186.6 85.7h0.8v0.8h-0.8zM207.4 73.1h0.8v0.8h-0.8zM199.4 76.9h0.8v0.8h-0.8zM196.8 76.1h0.8v0.8h-0.8zM194.2 75.3h0.8v0.8h-0.8zM196.4 76.6h0.8v0.8h-0.8zM196.5 74.5h0.8v0.8h-0.8zM195.7 77.0h0.8v0.8h-0.8zM197.9 73.5h0.8v0.8h-0.8zM198.4 78.5h0.8v0.8h-0.8zM198.4 75.1h0.8v0.8h-0.8zM192.8 77.3h0.8v0.8h-0.8zM200.5 79.3h0.8v0.8h-0.8zM194.2 75.8h0.8v0.8h-0.8zM197.6 76.8h0.8v0.8h-0.8zM190.2 76.9h0.8v0.8h-0.8zM195.5 78.7h0.8v0.8h-0.8zM188.5 76.7h0.8v0.8h-0.8zM197.2 73.4h0.8v0.8h-0.8zM196.3 77.6h0.8v0.8h-0.8zM194.2 74.9h0.8v0.8h-0.8zM194.9 76.3h0.8v0.8h-0.8zM196.6 74.5h0.8v0.8h-0.8zM200.0 71.3h0.8v0.8h-0.8zM194.6 77.3h0.8v0.8h-0.8zM200.1 74.0h0.8v0.8h-0.8zM197.9 74.8h0.8v0.8h-0.8zM200.6 79.7h0.8v0.8h-0.8zM193.7 78.7h0.8v0.8h-0.8zM191.4 80.8h0.8v0.8h-0.8zM201.9 75.0h0.8v0.8h-0.8zM189.9 79.8h0.8v0.8h-0.8zM202.3 77.5h0.8v0.8h-0.8zM198.4 71.4h0.8v0.8h-0.8zM193.0 81.4h0.8v0.8h-0.8zM189.9 81.7h0.8v0.8h-0.8zM205.9 75.5h0.8v0.8h-0.8zM201.1 74.3h0.8v0.8h-0.8zM189.0 78.8h0.8v0.8h-0.8zM194.4 77.2h0.8v0.8h-0.8zM199.0 75.5h0.8v0.8h-0.8zM196.8 77.6h0.8v0.8h-0.8zM196.8 81.2h0.8v0.8h-0.8zM197.9 76.4h0.8v0.8h-0.8zM194.0 75.9h0.8v0.8h-0.8zM202.6 75.1h0.8v0.8h-0.8zM189.4 77.5h0.8v0.8h-0.8zM194.5 76.2h0.8v0.8h-0.8zM200.3 72.5h0.8v0.8h-0.8zM198.2 76.5h0.8v0.8h-0.8zM189.4 79.1h0.8v0.8h-0.8zM195.4 78.3h0.8v0.8h-0.8zM193.4 78.5h0.8v0.8h-0.8zM186.0 77.4h0.8v0.8h-0.8zM200.4 78.0h0.8v0.8h-0.8zM195.0 75.7h0.8v0.8h-0.8zM199.6 70.4h0.8v0.8h-0.8zM191.8 79.9h0.8v0.8h-0.8zM198.1 73.5h0.8v0.8h-0.8zM186.7 83.5h0.8v0.8h-0.8zM195.6 74.7h0.8v0.8h-0.8zM196.5 79.0h0.8v0.8h-0.8zM197.8 71.0h0.8v0.8h-0.8zM198.2 71.6h0.8v0.8h-0.8zM201.8 76.0h0.8v0.8h-0.8zM206.8 71.8h0.8v0.8h-0.8zM196.3 79.4h0.8v0.8h-0.8zM191.6 76.5h0.8v0.8h-0.8zM193.5 77.5h0.8v0.8h-0.8zM190.2 79.9h0.8v0.8h-0.8zM198.4 76.2h0.8v0.8h-0.8zM204.1 73.4h0.8v0.8h-0.8zM201.9 73.5h0.8v0.8h-0.8zM198.0 71.3h0.8v0.8h-0.8zM196.4 76.3h0.8v0.8h-0.8zM192.5 76.4h0.8v0.8h-0.8zM193.1 75.9h0.8v0.8h-0.8zM192.2 76.7h0.8v0.8h-0.8zM189.9 78.5h0.8v0.8h-0.8zM199.4 75.1h0.8v0.8h-0.8zM193.9 80.9h0.8v0.8h-0.8zM201.3 77.4h0.8v0.8h-0.8zM201.3 74.3h0.8v0.8h-0.8zM195.6 79.8h0.8v0.8h-0.8zM192.5 77.7h0.8v0.8h-0.8zM197.8 77.2h0.8v0.8h-0.8zM194.8 79.7h0.8v0.8h-0.8zM195.1 79.0h0.8v0.8h-0.8zM201.6 76.7h0.8v0.8h-0.8zM198.5 73.1h0.8v0.8h-0.8zM188.2 77.8h0.8v0.8h-0.8zM199.1 79.6h0.8v0.8h-0.8zM189.3 79.8h0.8v0.8h-0.8zM190.5 76.8h0.8v0.8h-0.8zM194.6 79.0h0.8v0.8h-0.8zM197.5 79.3h0.8v0.8h-0.8zM191.0 80.7h0.8v0.8h-0.8zM200.4 75.6h0.8v0.8h-0.8zM197.6 74.9h0.8v0.8h-0.8zM189.5 77.9h0.8v0.8h-0.8zM194.3 84.7h0.8v0.8h-0.8zM194.2 81.6h0.8v0.8h-0.8zM196.8 77.4h0.8v0.8h-0.8zM198.8 74.0h0.8v0.8h-0.8zM200.6 76.3h0.8v0.8h-0.8zM188.0 80.9h0.8v0.8h-0.8zM198.7 77.1h0.8v0.8h-0.8zM203.5 73.4h0.8v0.8h-0.8zM198.7 77.8h0.8v0.8h-0.8zM191.7 81.3h0.8v0.8h-0.8zM186.9 76.5h0.8v0.8h-0.8zM197.4 73.6h0.8v0.8h-0.8zM193.7 73.4h0.8v0.8h-0.8zM195.0 74.3h0.8v0.8h-0.8zM196.2 72.9h0.8v0.8h-0.8zM197.6 75.6h0.8v0.8h-0.8zM195.8 76.7h0.8v0.8h-0.8zM195.2 73.8h0.8v0.8h-0.8zM190.3 77.6h0.8v0.8h-0.8zM196.3 71.7h0.8v0.8h-0.8zM191.1 76.9h0.8v0.8h-0.8zM190.2 79.5h0.8v0.8h-0.8zM194.2 75.4h0.8v0.8h-0.8zM190.9 80.5h0.8v0.8h-0.8zM192.5 79.5h0.8v0.8h-0.8zM196.4 71.9h0.8v0.8h-0.8zM189.8 78.8h0.8v0.8h-0.8zM197.9 78.2h0.8v0.8h-0.8zM200.5 78.0h0.8v0.8h-0.8zM193.4 77.2h0.8v0.8h-0.8zM199.2 74.7h0.8v0.8h-0.8zM199.8 71.6h0.8v0.8h-0.8zM198.8 75.5h0.8v0.8h-0.8zM185.9 82.6h0.8v0.8h-0.8zM197.1 76.5h0.8v0.8h-0.8zM189.5 77.8h0.8v0.8h-0.8zM202.8 72.5h0.8v0.8h-0.8zM189.1 78.7h0.8v0.8h-0.8zM192.8 75.6h0.8v0.8h-0.8zM191.9 80.8h0.8v0.8h-0.8zM189.4 83.9h0.8v0.8h-0.8zM191.8 75.4h0.8v0.8h-0.8zM200.0 76.9h0.8v0.8h-0.8zM190.6 80.5h0.8v0.8h-0.8zM201.2 74.5h0.8v0.8h-0.8zM189.1 80.4h0.8v0.8h-0.8zM200.3 75.4h0.8v0.8h-0.8zM198.3 78.0h0.8v0.8h-0.8zM205.0 73.3h0.8v0.8h-0.8zM192.9 77.7h0.8v0.8h-0.8zM201.1 72.8h0.8v0.8h-0.8zM200.3 68.5h0.8v0.8h-0.8zM199.2 74.1h0.8v0.8h-0.8zM198.4 77.8h0.8v0.8h-0.8zM189.3 78.8h0.8v0.8h-0.8zM197.2 77.9h0.8v0.8h-0.8zM189.9 76.3h0.8v0.8h-0.8zM187.3 86.1h0.8v0.8h-0.8zM194.3 76.8h0.8v0.8h-0.8zM188.4 81.7h0.8v0.8h-0.8zM193.8 81.2h0.8v0.8h-0.8zM200.0 75.6h0.8v0.8h-0.8zM198.5 73.2h0.8v0.8h-0.8zM193.4 76.2h0.8v0.8h-0.8zM188.9 79.2h0.8v0.8h-0.8zM195.8 80.5h0.8v0.8h-0.8zM190.4 77.5h0.8v0.8h-0.8zM198.0 77.2h0.8v0.8h-0.8zM195.3 75.9h0.8v0.8h-0.8zM198.4 77.0h0.8v0.8h-0.8zM187.4 76.6h0.8v0.8h-0.8zM196.3 76.9h0.8v0.8h-0.8zM195.4 74.8h0.8v0.8h-0.8zM193.8 75.3h0.8v0.8h-0.8zM198.0 77.9h0.8v0.8h-0.8zM205.6 76.9h0.8v0.8h-0.8zM190.9 77.3h0.8v0.8h-0.8zM190.8 79.3h0.8v0.8h-0.8zM206.4 75.3h0.8v0.8h-0.8zM189.1 80.4h0.8v0.8h-0.8zM195.7 77.7h0.8v0.8h-0.8zM204.2 72.1h0.8v0.8h-0.8zM192.5 82.9h0.8v0.8h-0.8zM196.7 74.6h0.8v0.8h-0.8zM196.5 79.2h0.8v0.8h-0.8zM194.3 75.7h0.8v0.8h-0.8zM193.0 82.6h0.8v0.8h-0.8zM186.4 80.4h0.8v0.8h-0.8zM196.1 78.4h0.8v0.8h-0.8zM193.8 78.8h0.8v0.8h-0.8zM199.7 75.3h0.8v0.8h-0.8zM193.0 77.4h0.8v0.8h-0.8zM190.3 78.2h0.8v0.8h-0.8zM194.1 78.0h0.8v0.8h-0.8zM203.5 77.7h0.8v0.8h-0.8zM193.6 79.1h0.8v0.8h-0.8zM197.6 78.2h0.8v0.8h-0.8zM195.8 77.6h0.8v0.8h-0.8zM192.5 76.0h0.8v0.8h-0.8zM201.0 78.5h0.8v0.8h-0.8zM199.3 76.9h0.8v0.8h-0.8zM196.6 75.5h0.8v0.8h-0.8zM186.7 81.5h0.8v0.8h-0.8zM196.1 75.4h0.8v0.8h-0.8zM191.4 81.6h0.8v0.8h-0.8zM187.4 84.1h0.8v0.8h-0.8zM200.6 81.3h0.8v0.8h-0.8zM191.7 78.2h0.8v0.8h-0.8zM193.0 78.2h0.8v0.8h-0.8zM193.8 75.6h0.8v0.8h-0.8zM200.5 73.4h0.8v0.8h-0.8zM193.3 79.1h0.8v0.8h-0.8zM192.4 76.9h0.8v0.8h-0.8zM197.1 75.6h0.8v0.8h-0.8zM188.9 78.9h0.8v0.8h-0.8zM195.6 81.3h0.8v0.8h-0.8zM190.5 81.1h0.8v0.8h-0.8zM191.1 77.5h0.8v0.8h-0.8zM194.0 78.2h0.8v0.8h-0.8zM201.3 79.5h0.8v0.8h-0.8zM193.2 81.1h0.8v0.8h-0.8zM201.3 77.2h0.8v0.8h-0.8zM192.2 80.3h0.8v0.8h-0.8zM195.2 78.0h0.8v0.8h-0.8zM194.6 79.0h0.8v0.8h-0.8zM202.2 77.7h0.8v0.8h-0.8zM195.2 79.6h0.8v0.8h-0.8zM202.4 72.4h0.8v0.8h-0.8zM202.2 71.4h0.8v0.8h-0.8zM198.8 77.4h0.8v0.8h-0.8zM203.5 75.1h0.8v0.8h-0.8zM192.4 76.0h0.8v0.8h-0.8zM189.5 80.9h0.8v0.8h-0.8zM193.7 75.8h0.8v0.8h-0.8zM197.7 74.3h0.8v0.8h-0.8zM192.9 76.7h0.8v0.8h-0.8zM205.2 77.5h0.8v0.8h-0.8zM193.5 73.7h0.8v0.8h-0.8zM197.0 76.7h0.8v0.8h-0.8zM197.7 77.7h0.8v0.8h-0.8zM194.5 79.7h0.8v0.8h-0.8zM200.0 76.1h0.8v0.8h-0.8zM193.0 76.6h0.8v0.8h-0.8zM198.3 73.3h0.8v0.8h-0.8zM194.1 75.6h0.8v0.8h-0.8zM188.7 80.7h0.8v0.8h-0.8zM195.4 77.1h0.8v0.8h-0.8zM199.0 72.1h0.8v0.8h-0.8zM195.4 77.8h0.8v0.8h-0.8zM199.0 73.1h0.8v0.8h-0.8zM199.4 76.3h0.8v0.8h-0.8zM203.4 77.3h0.8v0.8h-0.8zM200.0 81.0h0.8v0.8h-0.8zM195.2 76.0h0.8v0.8h-0.8zM193.0 75.4h0.8v0.8h-0.8zM194.0 72.8h0.8v0.8h-0.8zM195.4 78.1h0.8v0.8h-0.8zM200.4 74.5h0.8v0.8h-0.8zM202.3 73.2h0.8v0.8h-0.8zM193.4 72.9h0.8v0.8h-0.8zM190.9 76.5h0.8v0.8h-0.8zM203.5 75.7h0.8v0.8h-0.8zM190.2 80.0h0.8v0.8h-0.8zM197.8 75.7h0.8v0.8h-0.8zM195.4 76.3h0.8v0.8h-0.8zM191.4 73.9h0.8v0.8h-0.8zM196.0 80.0h0.8v0.8h-0.8zM202.6 74.0h0.8v0.8h-0.8zM191.5 77.8h0.8v0.8h-0.8zM200.3 76.3h0.8v0.8h-0.8zM192.8 78.8h0.8v0.8h-0.8zM194.8 78.5h0.8v0.8h-0.8zM192.4 74.4h0.8v0.8h-0.8zM196.3 78.6h0.8v0.8h-0.8zM189.8 78.6h0.8v0.8h-0.8zM199.7 74.7h0.8v0.8h-0.8zM193.6 82.6h0.8v0.8h-0.8zM200.5 77.9h0.8v0.8h-0.8zM191.9 82.2h0.8v0.8h-0.8zM186.7 78.6h0.8v0.8h-0.8zM200.2 78.7h0.8v0.8h-0.8zM190.3 77.1h0.8v0.8h-0.8zM195.1 72.4h0.8v0.8h-0.8zM199.2 77.2h0.8v0.8h-0.8zM193.6 78.9h0.8v0.8h-0.8z" fill="#000" opacity="0.5"/>
<ellipse cx="190.5" cy="86.5" rx="3.4" ry="6.5" fill="#000" opacity="0.5" transform="rotate(15 190.5 86.5)" filter="url(#bl12)"/>
<path d="M193.2 88.3h0.8v0.8h-0.8zM189.2 86.4h0.8v0.8h-0.8zM187.8 90.9h0.8v0.8h-0.8zM189.0 88.1h0.8v0.8h-0.8zM191.4 86.5h0.8v0.8h-0.8zM196.9 87.1h0.8v0.8h-0.8zM194.6 91.5h0.8v0.8h-0.8zM195.7 86.3h0.8v0.8h-0.8zM193.1 90.7h0.8v0.8h-0.8zM188.6 86.8h0.8v0.8h-0.8zM190.6 85.7h0.8v0.8h-0.8zM196.4 83.5h0.8v0.8h-0.8zM187.7 75.5h0.8v0.8h-0.8zM190.4 82.3h0.8v0.8h-0.8zM190.3 88.9h0.8v0.8h-0.8zM196.5 89.2h0.8v0.8h-0.8zM193.6 82.6h0.8v0.8h-0.8zM191.1 93.5h0.8v0.8h-0.8zM198.2 77.2h0.8v0.8h-0.8zM195.8 79.1h0.8v0.8h-0.8zM189.2 88.7h0.8v0.8h-0.8zM193.5 82.2h0.8v0.8h-0.8zM186.7 90.1h0.8v0.8h-0.8zM190.7 87.6h0.8v0.8h-0.8zM187.4 81.8h0.8v0.8h-0.8zM195.3 79.1h0.8v0.8h-0.8zM199.9 80.7h0.8v0.8h-0.8zM186.9 85.1h0.8v0.8h-0.8zM191.6 90.2h0.8v0.8h-0.8zM190.0 84.6h0.8v0.8h-0.8zM191.0 82.9h0.8v0.8h-0.8zM191.6 87.0h0.8v0.8h-0.8zM188.6 86.7h0.8v0.8h-0.8zM191.1 85.6h0.8v0.8h-0.8zM197.0 78.2h0.8v0.8h-0.8zM193.3 80.8h0.8v0.8h-0.8zM187.9 93.4h0.8v0.8h-0.8zM187.5 84.5h0.8v0.8h-0.8zM187.7 90.3h0.8v0.8h-0.8zM190.0 76.5h0.8v0.8h-0.8zM193.2 84.7h0.8v0.8h-0.8zM188.5 91.2h0.8v0.8h-0.8zM188.5 83.3h0.8v0.8h-0.8zM190.9 88.2h0.8v0.8h-0.8zM187.9 90.8h0.8v0.8h-0.8zM199.0 85.9h0.8v0.8h-0.8zM200.1 76.9h0.8v0.8h-0.8zM196.2 85.5h0.8v0.8h-0.8zM191.9 84.4h0.8v0.8h-0.8zM190.6 78.9h0.8v0.8h-0.8zM187.9 92.3h0.8v0.8h-0.8zM195.3 85.2h0.8v0.8h-0.8zM190.2 81.9h0.8v0.8h-0.8zM193.1 87.2h0.8v0.8h-0.8zM190.8 80.3h0.8v0.8h-0.8zM194.3 91.2h0.8v0.8h-0.8zM186.5 90.2h0.8v0.8h-0.8zM186.4 88.3h0.8v0.8h-0.8zM188.4 83.0h0.8v0.8h-0.8zM192.1 88.6h0.8v0.8h-0.8zM195.5 82.6h0.8v0.8h-0.8zM190.3 88.4h0.8v0.8h-0.8zM188.6 84.5h0.8v0.8h-0.8zM186.5 85.3h0.8v0.8h-0.8zM189.8 93.0h0.8v0.8h-0.8zM193.1 91.0h0.8v0.8h-0.8zM190.1 84.5h0.8v0.8h-0.8zM189.6 86.8h0.8v0.8h-0.8zM186.5 82.0h0.8v0.8h-0.8zM191.8 83.4h0.8v0.8h-0.8zM196.7 87.0h0.8v0.8h-0.8zM194.6 93.4h0.8v0.8h-0.8zM188.8 87.6h0.8v0.8h-0.8zM195.8 85.5h0.8v0.8h-0.8zM192.1 83.2h0.8v0.8h-0.8zM191.7 84.2h0.8v0.8h-0.8zM189.9 91.2h0.8v0.8h-0.8zM195.5 87.9h0.8v0.8h-0.8zM190.5 90.5h0.8v0.8h-0.8zM191.5 80.3h0.8v0.8h-0.8zM196.0 82.2h0.8v0.8h-0.8zM195.4 81.9h0.8v0.8h-0.8zM198.5 82.3h0.8v0.8h-0.8zM190.7 76.3h0.8v0.8h-0.8zM192.5 90.2h0.8v0.8h-0.8zM193.8 72.9h0.8v0.8h-0.8zM191.2 84.4h0.8v0.8h-0.8zM190.1 84.2h0.8v0.8h-0.8zM190.8 82.0h0.8v0.8h-0.8zM190.9 91.8h0.8v0.8h-0.8zM195.0 80.7h0.8v0.8h-0.8zM191.3 86.9h0.8v0.8h-0.8zM194.2 93.4h0.8v0.8h-0.8zM191.1 92.7h0.8v0.8h-0.8zM187.6 93.5h0.8v0.8h-0.8zM189.0 87.6h0.8v0.8h-0.8zM195.3 82.2h0.8v0.8h-0.8zM191.1 76.4h0.8v0.8h-0.8zM191.6 85.9h0.8v0.8h-0.8zM189.2 88.2h0.8v0.8h-0.8zM191.7 84.7h0.8v0.8h-0.8zM190.8 80.8h0.8v0.8h-0.8zM188.9 85.9h0.8v0.8h-0.8zM194.1 82.1h0.8v0.8h-0.8zM195.7 81.7h0.8v0.8h-0.8zM193.2 88.9h0.8v0.8h-0.8zM190.3 84.9h0.8v0.8h-0.8zM191.4 90.8h0.8v0.8h-0.8zM186.2 86.2h0.8v0.8h-0.8zM187.7 88.6h0.8v0.8h-0.8zM195.5 87.5h0.8v0.8h-0.8zM190.4 86.8h0.8v0.8h-0.8zM192.6 87.3h0.8v0.8h-0.8zM190.7 81.9h0.8v0.8h-0.8zM188.7 92.0h0.8v0.8h-0.8zM188.8 92.8h0.8v0.8h-0.8zM191.9 86.2h0.8v0.8h-0.8zM186.4 81.1h0.8v0.8h-0.8zM196.9 80.5h0.8v0.8h-0.8zM189.2 79.5h0.8v0.8h-0.8zM188.3 88.8h0.8v0.8h-0.8zM195.8 76.2h0.8v0.8h-0.8zM196.7 84.3h0.8v0.8h-0.8zM192.4 79.6h0.8v0.8h-0.8zM189.9 81.7h0.8v0.8h-0.8zM188.1 83.4h0.8v0.8h-0.8zM193.5 88.6h0.8v0.8h-0.8zM187.5 85.7h0.8v0.8h-0.8zM190.1 89.9h0.8v0.8h-0.8zM189.3 88.0h0.8v0.8h-0.8zM197.9 88.4h0.8v0.8h-0.8zM186.9 86.7h0.8v0.8h-0.8zM188.8 83.4h0.8v0.8h-0.8zM191.2 87.9h0.8v0.8h-0.8zM188.9 90.1h0.8v0.8h-0.8zM192.1 79.2h0.8v0.8h-0.8zM194.4 84.9h0.8v0.8h-0.8zM195.9 83.7h0.8v0.8h-0.8zM192.5 88.1h0.8v0.8h-0.8zM194.0 89.5h0.8v0.8h-0.8zM193.9 84.1h0.8v0.8h-0.8zM190.7 87.1h0.8v0.8h-0.8zM191.4 90.0h0.8v0.8h-0.8zM191.3 82.2h0.8v0.8h-0.8zM188.6 87.6h0.8v0.8h-0.8zM187.2 78.1h0.8v0.8h-0.8zM190.4 82.8h0.8v0.8h-0.8zM193.7 72.2h0.8v0.8h-0.8zM190.2 84.4h0.8v0.8h-0.8zM196.3 76.6h0.8v0.8h-0.8zM189.3 88.1h0.8v0.8h-0.8zM191.0 92.5h0.8v0.8h-0.8zM196.0 81.6h0.8v0.8h-0.8zM193.6 84.9h0.8v0.8h-0.8zM186.2 93.1h0.8v0.8h-0.8zM190.1 81.1h0.8v0.8h-0.8zM190.8 81.3h0.8v0.8h-0.8zM193.8 88.8h0.8v0.8h-0.8zM195.1 89.4h0.8v0.8h-0.8zM187.5 90.8h0.8v0.8h-0.8zM189.4 83.1h0.8v0.8h-0.8zM190.4 86.1h0.8v0.8h-0.8zM195.8 84.0h0.8v0.8h-0.8zM192.2 86.2h0.8v0.8h-0.8zM188.3 79.3h0.8v0.8h-0.8zM189.7 87.9h0.8v0.8h-0.8zM191.4 88.7h0.8v0.8h-0.8zM191.8 83.8h0.8v0.8h-0.8zM193.8 81.3h0.8v0.8h-0.8zM187.0 83.1h0.8v0.8h-0.8zM186.9 82.1h0.8v0.8h-0.8zM189.3 82.5h0.8v0.8h-0.8zM191.9 81.9h0.8v0.8h-0.8zM191.9 76.9h0.8v0.8h-0.8zM192.7 81.6h0.8v0.8h-0.8zM196.2 71.9h0.8v0.8h-0.8zM188.0 86.5h0.8v0.8h-0.8zM191.2 86.6h0.8v0.8h-0.8zM192.8 81.2h0.8v0.8h-0.8zM193.6 86.4h0.8v0.8h-0.8zM191.7 83.7h0.8v0.8h-0.8zM192.7 87.0h0.8v0.8h-0.8zM194.2 89.3h0.8v0.8h-0.8zM189.2 84.3h0.8v0.8h-0.8zM194.6 85.0h0.8v0.8h-0.8zM191.6 89.0h0.8v0.8h-0.8zM193.6 73.9h0.8v0.8h-0.8zM191.1 87.2h0.8v0.8h-0.8zM192.5 82.2h0.8v0.8h-0.8zM195.2 86.4h0.8v0.8h-0.8zM189.9 81.8h0.8v0.8h-0.8zM193.7 80.7h0.8v0.8h-0.8zM194.0 92.6h0.8v0.8h-0.8zM194.8 90.3h0.8v0.8h-0.8zM194.5 89.6h0.8v0.8h-0.8zM196.3 84.7h0.8v0.8h-0.8zM190.4 90.1h0.8v0.8h-0.8zM189.2 91.6h0.8v0.8h-0.8zM190.3 89.6h0.8v0.8h-0.8zM193.3 78.5h0.8v0.8h-0.8zM190.1 93.0h0.8v0.8h-0.8zM193.7 83.4h0.8v0.8h-0.8zM193.7 76.1h0.8v0.8h-0.8zM189.1 90.5h0.8v0.8h-0.8zM191.9 93.6h0.8v0.8h-0.8zM188.8 81.8h0.8v0.8h-0.8zM186.1 79.1h0.8v0.8h-0.8zM193.1 83.8h0.8v0.8h-0.8zM201.9 75.0h0.8v0.8h-0.8zM190.5 87.1h0.8v0.8h-0.8zM198.5 88.7h0.8v0.8h-0.8zM192.2 88.3h0.8v0.8h-0.8zM190.9 83.7h0.8v0.8h-0.8zM192.4 74.9h0.8v0.8h-0.8zM191.9 86.1h0.8v0.8h-0.8zM191.0 84.5h0.8v0.8h-0.8zM188.5 85.2h0.8v0.8h-0.8zM189.2 86.7h0.8v0.8h-0.8zM201.0 90.9h0.8v0.8h-0.8zM192.8 91.0h0.8v0.8h-0.8zM192.3 90.9h0.8v0.8h-0.8zM189.3 85.5h0.8v0.8h-0.8zM187.2 90.3h0.8v0.8h-0.8zM194.5 84.3h0.8v0.8h-0.8zM196.7 81.4h0.8v0.8h-0.8zM189.8 89.2h0.8v0.8h-0.8zM190.3 88.0h0.8v0.8h-0.8zM194.5 88.8h0.8v0.8h-0.8zM186.3 88.7h0.8v0.8h-0.8zM190.5 86.5h0.8v0.8h-0.8zM191.0 78.3h0.8v0.8h-0.8zM187.3 83.0h0.8v0.8h-0.8zM191.1 71.0h0.8v0.8h-0.8zM196.5 81.0h0.8v0.8h-0.8zM187.8 88.1h0.8v0.8h-0.8zM187.5 88.7h0.8v0.8h-0.8zM188.9 87.1h0.8v0.8h-0.8zM191.4 86.1h0.8v0.8h-0.8zM186.9 76.7h0.8v0.8h-0.8zM188.9 93.3h0.8v0.8h-0.8zM188.4 88.3h0.8v0.8h-0.8zM190.9 88.7h0.8v0.8h-0.8zM196.4 79.1h0.8v0.8h-0.8zM192.2 85.3h0.8v0.8h-0.8zM191.1 81.3h0.8v0.8h-0.8zM189.8 80.0h0.8v0.8h-0.8zM196.7 87.6h0.8v0.8h-0.8zM194.9 81.6h0.8v0.8h-0.8zM189.5 93.6h0.8v0.8h-0.8zM192.2 80.8h0.8v0.8h-0.8zM191.6 80.6h0.8v0.8h-0.8zM186.6 83.5h0.8v0.8h-0.8zM190.8 81.4h0.8v0.8h-0.8zM189.3 80.4h0.8v0.8h-0.8zM189.9 93.4h0.8v0.8h-0.8zM187.3 84.1h0.8v0.8h-0.8zM190.6 89.0h0.8v0.8h-0.8zM195.6 84.2h0.8v0.8h-0.8zM187.1 83.9h0.8v0.8h-0.8zM193.0 82.7h0.8v0.8h-0.8zM197.1 77.0h0.8v0.8h-0.8zM192.0 85.0h0.8v0.8h-0.8zM192.4 83.7h0.8v0.8h-0.8zM191.6 89.7h0.8v0.8h-0.8zM192.8 89.7h0.8v0.8h-0.8zM194.0 80.3h0.8v0.8h-0.8zM189.4 86.3h0.8v0.8h-0.8zM191.2 80.2h0.8v0.8h-0.8zM191.9 83.0h0.8v0.8h-0.8zM190.8 81.0h0.8v0.8h-0.8zM188.6 84.8h0.8v0.8h-0.8zM187.9 88.9h0.8v0.8h-0.8zM190.3 86.6h0.8v0.8h-0.8zM190.6 92.9h0.8v0.8h-0.8zM192.7 87.7h0.8v0.8h-0.8zM191.6 81.7h0.8v0.8h-0.8zM188.9 89.2h0.8v0.8h-0.8zM192.3 84.2h0.8v0.8h-0.8zM188.6 76.9h0.8v0.8h-0.8zM190.7 91.6h0.8v0.8h-0.8zM194.2 79.2h0.8v0.8h-0.8zM190.0 87.0h0.8v0.8h-0.8zM187.4 87.0h0.8v0.8h-0.8zM191.5 81.5h0.8v0.8h-0.8zM193.4 81.7h0.8v0.8h-0.8zM186.3 89.7h0.8v0.8h-0.8zM193.4 85.0h0.8v0.8h-0.8zM196.8 85.9h0.8v0.8h-0.8zM185.9 90.7h0.8v0.8h-0.8zM189.9 87.6h0.8v0.8h-0.8zM192.5 80.8h0.8v0.8h-0.8zM187.2 83.9h0.8v0.8h-0.8zM197.2 82.1h0.8v0.8h-0.8zM195.3 88.4h0.8v0.8h-0.8zM186.9 86.4h0.8v0.8h-0.8zM194.2 81.9h0.8v0.8h-0.8zM186.6 87.3h0.8v0.8h-0.8zM190.3 77.6h0.8v0.8h-0.8zM189.9 86.7h0.8v0.8h-0.8zM190.8 79.4h0.8v0.8h-0.8zM194.1 77.2h0.8v0.8h-0.8zM192.1 89.0h0.8v0.8h-0.8zM195.5 92.1h0.8v0.8h-0.8zM191.8 87.7h0.8v0.8h-0.8zM192.9 79.2h0.8v0.8h-0.8zM195.2 90.0h0.8v0.8h-0.8zM191.6 79.8h0.8v0.8h-0.8zM195.3 90.1h0.8v0.8h-0.8zM186.1 88.4h0.8v0.8h-0.8zM197.4 87.6h0.8v0.8h-0.8zM192.9 84.2h0.8v0.8h-0.8zM187.4 91.0h0.8v0.8h-0.8zM201.2 89.4h0.8v0.8h-0.8zM189.5 90.0h0.8v0.8h-0.8zM189.0 89.5h0.8v0.8h-0.8zM195.2 81.5h0.8v0.8h-0.8zM187.5 84.6h0.8v0.8h-0.8zM193.4 88.2h0.8v0.8h-0.8zM197.1 80.0h0.8v0.8h-0.8zM193.5 83.2h0.8v0.8h-0.8zM190.9 87.8h0.8v0.8h-0.8zM188.0 83.9h0.8v0.8h-0.8zM186.7 86.3h0.8v0.8h-0.8zM188.8 82.7h0.8v0.8h-0.8zM192.6 82.8h0.8v0.8h-0.8zM195.8 83.8h0.8v0.8h-0.8zM193.5 88.2h0.8v0.8h-0.8zM187.8 83.9h0.8v0.8h-0.8z" fill="#000" opacity="0.45"/>
<path d="M187.1 84.1h0.7v0.7h-0.7zM192.6 73.6h0.7v0.7h-0.7zM202.2 81.3h0.7v0.7h-0.7zM191.7 82.3h0.7v0.7h-0.7zM194.7 80.2h0.7v0.7h-0.7zM189.2 82.9h0.7v0.7h-0.7zM199.8 74.8h0.7v0.7h-0.7zM192.6 74.8h0.7v0.7h-0.7zM195.0 87.8h0.7v0.7h-0.7zM194.4 78.9h0.7v0.7h-0.7zM196.9 78.6h0.7v0.7h-0.7zM197.4 83.2h0.7v0.7h-0.7zM189.2 66.4h0.7v0.7h-0.7zM187.9 92.6h0.7v0.7h-0.7zM190.6 80.7h0.7v0.7h-0.7zM205.9 80.5h0.7v0.7h-0.7zM208.5 78.6h0.7v0.7h-0.7zM195.1 88.0h0.7v0.7h-0.7zM187.2 83.4h0.7v0.7h-0.7zM189.5 83.8h0.7v0.7h-0.7zM197.6 77.2h0.7v0.7h-0.7zM194.5 78.8h0.7v0.7h-0.7zM190.6 63.4h0.7v0.7h-0.7zM193.2 84.8h0.7v0.7h-0.7zM190.2 93.1h0.7v0.7h-0.7zM199.8 89.7h0.7v0.7h-0.7zM202.6 83.0h0.7v0.7h-0.7zM189.3 77.2h0.7v0.7h-0.7zM191.0 81.2h0.7v0.7h-0.7zM194.1 79.3h0.7v0.7h-0.7zM209.1 61.8h0.7v0.7h-0.7zM200.3 75.7h0.7v0.7h-0.7zM195.5 89.4h0.7v0.7h-0.7zM189.9 75.9h0.7v0.7h-0.7zM196.1 80.3h0.7v0.7h-0.7zM198.2 82.9h0.7v0.7h-0.7zM194.7 77.8h0.7v0.7h-0.7zM195.2 81.4h0.7v0.7h-0.7zM191.8 82.1h0.7v0.7h-0.7zM193.5 90.9h0.7v0.7h-0.7zM200.0 92.9h0.7v0.7h-0.7zM204.8 89.6h0.7v0.7h-0.7zM194.5 85.6h0.7v0.7h-0.7zM190.5 83.7h0.7v0.7h-0.7zM203.0 79.8h0.7v0.7h-0.7zM205.1 83.3h0.7v0.7h-0.7zM203.5 85.3h0.7v0.7h-0.7zM192.7 90.0h0.7v0.7h-0.7zM190.1 81.1h0.7v0.7h-0.7zM209.3 91.0h0.7v0.7h-0.7zM196.7 74.8h0.7v0.7h-0.7zM197.1 84.1h0.7v0.7h-0.7zM195.3 79.5h0.7v0.7h-0.7zM202.4 84.3h0.7v0.7h-0.7zM202.1 86.9h0.7v0.7h-0.7zM187.2 86.6h0.7v0.7h-0.7zM199.6 87.5h0.7v0.7h-0.7zM196.8 85.4h0.7v0.7h-0.7zM211.3 74.8h0.7v0.7h-0.7zM201.3 92.1h0.7v0.7h-0.7zM199.3 85.1h0.7v0.7h-0.7zM201.5 80.2h0.7v0.7h-0.7zM187.9 85.7h0.7v0.7h-0.7zM195.3 80.1h0.7v0.7h-0.7zM188.3 83.5h0.7v0.7h-0.7zM192.2 81.2h0.7v0.7h-0.7zM199.0 91.1h0.7v0.7h-0.7zM195.9 81.7h0.7v0.7h-0.7zM193.6 76.5h0.7v0.7h-0.7zM193.2 75.1h0.7v0.7h-0.7zM194.7 82.1h0.7v0.7h-0.7zM199.3 76.9h0.7v0.7h-0.7zM192.3 85.9h0.7v0.7h-0.7zM200.1 92.6h0.7v0.7h-0.7zM190.5 80.9h0.7v0.7h-0.7zM193.5 87.0h0.7v0.7h-0.7zM197.9 86.1h0.7v0.7h-0.7zM206.2 75.7h0.7v0.7h-0.7zM186.5 88.6h0.7v0.7h-0.7zM189.2 68.4h0.7v0.7h-0.7zM189.1 74.3h0.7v0.7h-0.7zM201.7 89.3h0.7v0.7h-0.7zM195.8 70.2h0.7v0.7h-0.7zM206.3 83.0h0.7v0.7h-0.7zM193.3 87.3h0.7v0.7h-0.7zM203.0 75.2h0.7v0.7h-0.7zM192.0 79.8h0.7v0.7h-0.7zM194.5 66.0h0.7v0.7h-0.7zM200.2 71.9h0.7v0.7h-0.7zM194.7 70.0h0.7v0.7h-0.7zM194.1 70.4h0.7v0.7h-0.7zM195.9 77.0h0.7v0.7h-0.7zM201.2 76.4h0.7v0.7h-0.7zM196.7 80.1h0.7v0.7h-0.7zM204.7 74.0h0.7v0.7h-0.7zM196.8 86.7h0.7v0.7h-0.7z" fill="#000" opacity="0.14"/>
<ellipse cx="237.0" cy="90.0" rx="5.5" ry="3.0" fill="#000" opacity="0.45" transform="rotate(-35 237.0 90.0)" filter="url(#bl11)"/>
<path d="M235.2 91.8h0.8v0.8h-0.8zM232.5 87.2h0.8v0.8h-0.8zM238.6 82.4h0.8v0.8h-0.8zM248.0 78.3h0.8v0.8h-0.8zM237.4 90.2h0.8v0.8h-0.8zM241.4 79.9h0.8v0.8h-0.8zM245.9 82.7h0.8v0.8h-0.8zM241.9 85.9h0.8v0.8h-0.8zM239.5 83.7h0.8v0.8h-0.8zM232.5 90.3h0.8v0.8h-0.8zM238.1 91.1h0.8v0.8h-0.8zM234.3 89.4h0.8v0.8h-0.8zM243.8 85.9h0.8v0.8h-0.8zM235.0 86.9h0.8v0.8h-0.8zM247.6 85.5h0.8v0.8h-0.8zM250.6 80.9h0.8v0.8h-0.8zM242.3 88.4h0.8v0.8h-0.8zM243.9 83.1h0.8v0.8h-0.8zM245.1 91.7h0.8v0.8h-0.8zM245.1 81.9h0.8v0.8h-0.8zM242.7 84.9h0.8v0.8h-0.8zM239.7 85.4h0.8v0.8h-0.8zM238.8 88.1h0.8v0.8h-0.8zM249.7 88.4h0.8v0.8h-0.8zM240.8 90.4h0.8v0.8h-0.8zM246.5 85.2h0.8v0.8h-0.8zM241.8 82.1h0.8v0.8h-0.8zM244.1 80.3h0.8v0.8h-0.8zM247.6 83.9h0.8v0.8h-0.8zM233.7 89.2h0.8v0.8h-0.8zM243.5 81.8h0.8v0.8h-0.8zM250.8 81.5h0.8v0.8h-0.8zM233.6 87.4h0.8v0.8h-0.8zM244.4 79.6h0.8v0.8h-0.8zM238.5 87.3h0.8v0.8h-0.8zM238.5 90.4h0.8v0.8h-0.8zM249.7 77.1h0.8v0.8h-0.8zM245.9 86.9h0.8v0.8h-0.8zM237.1 88.9h0.8v0.8h-0.8zM234.7 88.8h0.8v0.8h-0.8zM237.8 85.6h0.8v0.8h-0.8zM232.5 91.9h0.8v0.8h-0.8zM247.1 80.9h0.8v0.8h-0.8zM239.2 82.1h0.8v0.8h-0.8zM233.8 86.0h0.8v0.8h-0.8zM239.5 89.9h0.8v0.8h-0.8zM238.7 84.6h0.8v0.8h-0.8zM245.4 86.8h0.8v0.8h-0.8zM240.7 85.0h0.8v0.8h-0.8zM237.5 86.7h0.8v0.8h-0.8zM238.9 89.4h0.8v0.8h-0.8zM239.1 91.7h0.8v0.8h-0.8zM252.8 75.1h0.8v0.8h-0.8zM242.5 88.5h0.8v0.8h-0.8zM242.2 84.5h0.8v0.8h-0.8zM238.2 92.6h0.8v0.8h-0.8zM243.5 86.4h0.8v0.8h-0.8zM235.6 93.1h0.8v0.8h-0.8zM243.2 84.0h0.8v0.8h-0.8zM246.8 90.4h0.8v0.8h-0.8zM238.7 90.4h0.8v0.8h-0.8zM237.1 84.9h0.8v0.8h-0.8zM237.5 85.9h0.8v0.8h-0.8zM233.9 91.4h0.8v0.8h-0.8zM234.8 89.0h0.8v0.8h-0.8zM238.7 87.1h0.8v0.8h-0.8zM240.3 82.3h0.8v0.8h-0.8zM240.0 90.2h0.8v0.8h-0.8zM246.8 84.1h0.8v0.8h-0.8zM236.2 84.0h0.8v0.8h-0.8zM244.0 86.4h0.8v0.8h-0.8zM238.0 84.8h0.8v0.8h-0.8zM246.9 79.4h0.8v0.8h-0.8zM237.4 92.6h0.8v0.8h-0.8zM239.2 84.3h0.8v0.8h-0.8zM247.4 89.0h0.8v0.8h-0.8zM243.9 86.9h0.8v0.8h-0.8zM245.4 84.7h0.8v0.8h-0.8zM232.9 88.1h0.8v0.8h-0.8zM238.0 81.2h0.8v0.8h-0.8zM246.5 87.1h0.8v0.8h-0.8zM236.9 84.9h0.8v0.8h-0.8zM246.6 76.8h0.8v0.8h-0.8zM234.9 83.7h0.8v0.8h-0.8zM247.5 86.0h0.8v0.8h-0.8zM234.1 86.5h0.8v0.8h-0.8zM239.4 89.2h0.8v0.8h-0.8zM239.8 90.2h0.8v0.8h-0.8zM240.3 88.8h0.8v0.8h-0.8zM239.0 84.3h0.8v0.8h-0.8zM237.6 87.6h0.8v0.8h-0.8zM240.3 83.9h0.8v0.8h-0.8zM247.4 81.6h0.8v0.8h-0.8zM243.3 87.2h0.8v0.8h-0.8zM245.8 84.3h0.8v0.8h-0.8zM250.6 80.8h0.8v0.8h-0.8zM243.1 86.6h0.8v0.8h-0.8zM234.0 89.2h0.8v0.8h-0.8zM244.5 90.7h0.8v0.8h-0.8zM245.5 90.4h0.8v0.8h-0.8zM239.4 83.0h0.8v0.8h-0.8zM249.7 81.0h0.8v0.8h-0.8zM246.3 83.1h0.8v0.8h-0.8zM237.4 89.9h0.8v0.8h-0.8zM232.8 90.7h0.8v0.8h-0.8zM244.7 91.6h0.8v0.8h-0.8zM249.6 79.5h0.8v0.8h-0.8zM243.7 83.5h0.8v0.8h-0.8zM241.2 86.1h0.8v0.8h-0.8zM236.0 90.6h0.8v0.8h-0.8zM235.2 86.6h0.8v0.8h-0.8zM238.0 91.0h0.8v0.8h-0.8zM236.0 92.3h0.8v0.8h-0.8zM245.3 89.3h0.8v0.8h-0.8zM232.5 92.7h0.8v0.8h-0.8zM244.9 89.4h0.8v0.8h-0.8zM242.0 88.7h0.8v0.8h-0.8zM248.1 79.7h0.8v0.8h-0.8zM250.2 76.4h0.8v0.8h-0.8zM234.3 85.3h0.8v0.8h-0.8zM243.2 85.8h0.8v0.8h-0.8zM251.1 79.2h0.8v0.8h-0.8zM234.8 85.6h0.8v0.8h-0.8zM240.4 90.7h0.8v0.8h-0.8zM245.7 87.7h0.8v0.8h-0.8zM244.0 83.9h0.8v0.8h-0.8zM242.9 85.7h0.8v0.8h-0.8zM239.1 83.7h0.8v0.8h-0.8zM241.8 87.0h0.8v0.8h-0.8zM247.6 87.1h0.8v0.8h-0.8zM246.1 78.7h0.8v0.8h-0.8zM241.6 87.3h0.8v0.8h-0.8zM241.6 89.0h0.8v0.8h-0.8zM252.4 78.7h0.8v0.8h-0.8zM245.0 82.8h0.8v0.8h-0.8zM236.4 86.0h0.8v0.8h-0.8zM239.8 80.2h0.8v0.8h-0.8zM239.9 87.8h0.8v0.8h-0.8zM243.3 89.9h0.8v0.8h-0.8zM238.6 88.7h0.8v0.8h-0.8zM241.0 80.2h0.8v0.8h-0.8zM237.4 89.5h0.8v0.8h-0.8zM243.0 81.6h0.8v0.8h-0.8zM244.5 85.3h0.8v0.8h-0.8zM241.6 88.9h0.8v0.8h-0.8zM242.7 82.9h0.8v0.8h-0.8zM246.9 85.1h0.8v0.8h-0.8zM242.7 87.0h0.8v0.8h-0.8zM237.2 90.0h0.8v0.8h-0.8zM238.0 87.4h0.8v0.8h-0.8zM233.5 93.1h0.8v0.8h-0.8zM242.4 91.2h0.8v0.8h-0.8zM234.5 87.2h0.8v0.8h-0.8zM250.5 85.9h0.8v0.8h-0.8zM236.9 88.8h0.8v0.8h-0.8zM241.7 89.9h0.8v0.8h-0.8zM238.0 81.4h0.8v0.8h-0.8zM241.8 86.3h0.8v0.8h-0.8zM249.0 79.1h0.8v0.8h-0.8zM241.0 86.8h0.8v0.8h-0.8zM244.4 93.2h0.8v0.8h-0.8zM243.6 90.4h0.8v0.8h-0.8zM245.4 80.5h0.8v0.8h-0.8zM242.3 83.9h0.8v0.8h-0.8zM240.0 87.9h0.8v0.8h-0.8zM238.2 86.7h0.8v0.8h-0.8zM247.6 80.2h0.8v0.8h-0.8zM246.4 89.0h0.8v0.8h-0.8zM244.7 87.7h0.8v0.8h-0.8zM249.3 84.3h0.8v0.8h-0.8zM246.3 76.5h0.8v0.8h-0.8zM250.6 79.1h0.8v0.8h-0.8zM241.1 87.0h0.8v0.8h-0.8zM233.8 91.1h0.8v0.8h-0.8zM238.6 88.6h0.8v0.8h-0.8zM238.5 87.5h0.8v0.8h-0.8zM241.0 79.9h0.8v0.8h-0.8zM236.4 90.6h0.8v0.8h-0.8zM235.5 88.5h0.8v0.8h-0.8zM236.8 90.5h0.8v0.8h-0.8zM246.0 81.8h0.8v0.8h-0.8zM238.1 90.1h0.8v0.8h-0.8zM233.8 84.2h0.8v0.8h-0.8zM239.8 85.8h0.8v0.8h-0.8zM236.9 92.2h0.8v0.8h-0.8zM238.1 86.4h0.8v0.8h-0.8zM238.9 87.6h0.8v0.8h-0.8zM242.0 86.5h0.8v0.8h-0.8zM233.7 87.0h0.8v0.8h-0.8zM234.4 84.4h0.8v0.8h-0.8zM246.7 78.0h0.8v0.8h-0.8zM238.2 87.6h0.8v0.8h-0.8zM249.3 88.7h0.8v0.8h-0.8zM240.6 90.2h0.8v0.8h-0.8zM237.4 92.2h0.8v0.8h-0.8zM245.5 85.4h0.8v0.8h-0.8zM247.2 80.9h0.8v0.8h-0.8zM246.7 79.1h0.8v0.8h-0.8zM243.4 73.4h0.8v0.8h-0.8zM237.5 85.9h0.8v0.8h-0.8zM241.0 90.6h0.8v0.8h-0.8zM243.4 84.9h0.8v0.8h-0.8zM246.1 76.4h0.8v0.8h-0.8zM236.9 81.3h0.8v0.8h-0.8zM238.7 83.4h0.8v0.8h-0.8zM250.0 84.1h0.8v0.8h-0.8zM242.2 85.0h0.8v0.8h-0.8zM243.2 86.2h0.8v0.8h-0.8zM243.7 84.6h0.8v0.8h-0.8zM243.7 88.2h0.8v0.8h-0.8zM232.7 87.2h0.8v0.8h-0.8zM235.5 84.0h0.8v0.8h-0.8zM240.6 89.9h0.8v0.8h-0.8zM248.4 81.7h0.8v0.8h-0.8zM241.6 89.0h0.8v0.8h-0.8zM246.6 80.7h0.8v0.8h-0.8zM239.0 89.4h0.8v0.8h-0.8zM240.1 87.5h0.8v0.8h-0.8zM237.7 90.7h0.8v0.8h-0.8zM245.7 85.8h0.8v0.8h-0.8zM247.3 80.4h0.8v0.8h-0.8zM240.9 93.4h0.8v0.8h-0.8zM241.0 88.1h0.8v0.8h-0.8zM238.9 92.0h0.8v0.8h-0.8zM234.6 87.3h0.8v0.8h-0.8zM237.8 87.2h0.8v0.8h-0.8zM243.2 83.2h0.8v0.8h-0.8zM239.3 86.9h0.8v0.8h-0.8zM239.8 84.8h0.8v0.8h-0.8zM242.7 79.3h0.8v0.8h-0.8zM235.3 88.0h0.8v0.8h-0.8zM242.9 85.1h0.8v0.8h-0.8zM241.2 84.9h0.8v0.8h-0.8zM232.6 88.5h0.8v0.8h-0.8zM236.0 88.2h0.8v0.8h-0.8zM241.4 87.6h0.8v0.8h-0.8zM244.6 83.2h0.8v0.8h-0.8zM232.5 88.8h0.8v0.8h-0.8zM240.1 88.6h0.8v0.8h-0.8zM250.9 79.5h0.8v0.8h-0.8zM253.1 84.6h0.8v0.8h-0.8zM248.4 86.1h0.8v0.8h-0.8zM240.8 90.5h0.8v0.8h-0.8zM236.0 90.0h0.8v0.8h-0.8zM242.6 92.4h0.8v0.8h-0.8zM239.6 91.4h0.8v0.8h-0.8zM238.0 85.9h0.8v0.8h-0.8zM241.7 88.5h0.8v0.8h-0.8zM236.0 92.9h0.8v0.8h-0.8zM233.1 89.1h0.8v0.8h-0.8zM239.8 86.4h0.8v0.8h-0.8zM239.6 88.5h0.8v0.8h-0.8zM236.7 90.6h0.8v0.8h-0.8zM242.0 86.8h0.8v0.8h-0.8zM235.5 91.0h0.8v0.8h-0.8zM241.9 90.1h0.8v0.8h-0.8zM241.1 87.4h0.8v0.8h-0.8zM236.4 93.5h0.8v0.8h-0.8zM245.0 81.3h0.8v0.8h-0.8zM243.4 85.8h0.8v0.8h-0.8zM236.2 85.0h0.8v0.8h-0.8zM245.7 75.2h0.8v0.8h-0.8zM240.0 85.7h0.8v0.8h-0.8zM244.9 81.7h0.8v0.8h-0.8zM240.4 89.4h0.8v0.8h-0.8zM240.7 84.6h0.8v0.8h-0.8zM243.8 85.8h0.8v0.8h-0.8zM243.8 82.2h0.8v0.8h-0.8zM238.0 87.2h0.8v0.8h-0.8zM234.6 92.5h0.8v0.8h-0.8zM244.2 89.7h0.8v0.8h-0.8zM237.8 90.5h0.8v0.8h-0.8zM245.5 82.4h0.8v0.8h-0.8zM239.6 88.0h0.8v0.8h-0.8zM233.0 88.7h0.8v0.8h-0.8zM245.9 83.3h0.8v0.8h-0.8zM236.1 85.2h0.8v0.8h-0.8zM242.0 90.4h0.8v0.8h-0.8zM248.3 86.5h0.8v0.8h-0.8zM247.1 79.5h0.8v0.8h-0.8zM241.1 83.4h0.8v0.8h-0.8zM241.3 84.7h0.8v0.8h-0.8zM242.8 90.5h0.8v0.8h-0.8zM240.5 85.8h0.8v0.8h-0.8zM239.9 88.4h0.8v0.8h-0.8zM236.4 90.9h0.8v0.8h-0.8zM245.6 89.2h0.8v0.8h-0.8zM253.7 77.3h0.8v0.8h-0.8zM241.9 90.3h0.8v0.8h-0.8zM235.1 89.1h0.8v0.8h-0.8zM239.9 85.0h0.8v0.8h-0.8zM245.5 82.9h0.8v0.8h-0.8zM246.2 92.6h0.8v0.8h-0.8zM238.2 92.4h0.8v0.8h-0.8zM244.9 83.9h0.8v0.8h-0.8zM248.0 87.5h0.8v0.8h-0.8zM247.1 81.7h0.8v0.8h-0.8zM240.8 91.0h0.8v0.8h-0.8zM243.0 87.2h0.8v0.8h-0.8zM253.3 83.9h0.8v0.8h-0.8zM241.8 87.6h0.8v0.8h-0.8zM240.1 86.2h0.8v0.8h-0.8zM240.5 89.2h0.8v0.8h-0.8zM232.3 90.9h0.8v0.8h-0.8zM243.1 83.9h0.8v0.8h-0.8zM243.9 82.7h0.8v0.8h-0.8zM252.8 80.1h0.8v0.8h-0.8zM240.1 87.6h0.8v0.8h-0.8zM239.4 91.0h0.8v0.8h-0.8zM249.9 77.8h0.8v0.8h-0.8zM242.3 79.4h0.8v0.8h-0.8zM233.0 88.7h0.8v0.8h-0.8zM243.3 86.7h0.8v0.8h-0.8zM232.5 88.5h0.8v0.8h-0.8zM239.0 79.8h0.8v0.8h-0.8zM242.5 84.7h0.8v0.8h-0.8zM252.1 81.7h0.8v0.8h-0.8zM235.1 90.0h0.8v0.8h-0.8zM236.0 87.5h0.8v0.8h-0.8zM241.4 90.0h0.8v0.8h-0.8zM249.1 83.0h0.8v0.8h-0.8zM232.7 89.7h0.8v0.8h-0.8zM245.8 82.9h0.8v0.8h-0.8zM235.8 88.5h0.8v0.8h-0.8zM248.1 79.0h0.8v0.8h-0.8zM241.8 90.1h0.8v0.8h-0.8zM242.5 84.5h0.8v0.8h-0.8zM241.6 84.2h0.8v0.8h-0.8zM236.6 86.0h0.8v0.8h-0.8zM242.9 87.0h0.8v0.8h-0.8zM241.5 89.1h0.8v0.8h-0.8zM242.4 85.9h0.8v0.8h-0.8zM235.0 93.5h0.8v0.8h-0.8zM247.1 84.2h0.8v0.8h-0.8zM245.3 81.2h0.8v0.8h-0.8zM236.1 91.2h0.8v0.8h-0.8zM237.9 88.9h0.8v0.8h-0.8zM236.4 87.9h0.8v0.8h-0.8zM236.5 82.3h0.8v0.8h-0.8zM245.5 89.5h0.8v0.8h-0.8zM239.0 91.0h0.8v0.8h-0.8zM240.1 82.2h0.8v0.8h-0.8zM242.8 78.3h0.8v0.8h-0.8zM235.0 89.7h0.8v0.8h-0.8zM246.5 82.6h0.8v0.8h-0.8zM236.7 86.6h0.8v0.8h-0.8zM239.6 87.7h0.8v0.8h-0.8zM245.9 88.1h0.8v0.8h-0.8zM243.3 84.7h0.8v0.8h-0.8zM241.2 92.6h0.8v0.8h-0.8zM240.1 87.1h0.8v0.8h-0.8zM252.4 83.7h0.8v0.8h-0.8zM242.1 85.2h0.8v0.8h-0.8zM237.4 93.5h0.8v0.8h-0.8zM238.2 92.4h0.8v0.8h-0.8zM234.7 91.8h0.8v0.8h-0.8zM241.6 86.5h0.8v0.8h-0.8zM241.1 87.9h0.8v0.8h-0.8zM241.6 93.1h0.8v0.8h-0.8zM236.5 86.3h0.8v0.8h-0.8zM235.3 91.1h0.8v0.8h-0.8zM244.7 81.3h0.8v0.8h-0.8zM242.6 85.9h0.8v0.8h-0.8zM235.1 87.3h0.8v0.8h-0.8zM236.7 86.9h0.8v0.8h-0.8zM238.7 81.2h0.8v0.8h-0.8zM247.0 84.8h0.8v0.8h-0.8zM245.2 89.1h0.8v0.8h-0.8zM239.2 81.1h0.8v0.8h-0.8zM240.2 88.9h0.8v0.8h-0.8zM232.9 88.3h0.8v0.8h-0.8zM242.5 87.3h0.8v0.8h-0.8zM236.1 89.3h0.8v0.8h-0.8zM235.0 88.9h0.8v0.8h-0.8zM240.7 90.9h0.8v0.8h-0.8zM248.9 81.5h0.8v0.8h-0.8zM241.5 89.4h0.8v0.8h-0.8zM242.1 89.0h0.8v0.8h-0.8zM235.3 88.2h0.8v0.8h-0.8zM242.5 87.7h0.8v0.8h-0.8zM236.8 82.2h0.8v0.8h-0.8zM238.8 84.8h0.8v0.8h-0.8zM247.5 83.2h0.8v0.8h-0.8zM240.9 87.2h0.8v0.8h-0.8zM235.5 90.5h0.8v0.8h-0.8zM248.3 77.3h0.8v0.8h-0.8zM235.5 91.4h0.8v0.8h-0.8zM245.7 86.0h0.8v0.8h-0.8zM233.2 92.0h0.8v0.8h-0.8zM235.1 86.2h0.8v0.8h-0.8zM238.5 86.5h0.8v0.8h-0.8zM245.1 84.9h0.8v0.8h-0.8zM234.7 91.7h0.8v0.8h-0.8zM235.7 88.0h0.8v0.8h-0.8zM238.2 92.8h0.8v0.8h-0.8zM233.3 85.7h0.8v0.8h-0.8zM236.1 93.5h0.8v0.8h-0.8zM249.4 75.7h0.8v0.8h-0.8zM236.3 88.8h0.8v0.8h-0.8zM239.2 88.9h0.8v0.8h-0.8zM251.4 77.3h0.8v0.8h-0.8zM245.2 86.5h0.8v0.8h-0.8zM234.2 89.4h0.8v0.8h-0.8zM249.3 82.8h0.8v0.8h-0.8zM237.7 84.7h0.8v0.8h-0.8zM245.1 85.3h0.8v0.8h-0.8zM254.5 81.7h0.8v0.8h-0.8zM244.1 85.0h0.8v0.8h-0.8zM238.3 86.4h0.8v0.8h-0.8zM241.2 87.2h0.8v0.8h-0.8zM244.8 87.7h0.8v0.8h-0.8zM239.8 85.3h0.8v0.8h-0.8zM246.6 88.2h0.8v0.8h-0.8zM235.0 92.8h0.8v0.8h-0.8zM243.2 86.9h0.8v0.8h-0.8zM241.7 85.5h0.8v0.8h-0.8zM241.6 92.6h0.8v0.8h-0.8z" fill="#000" opacity="0.45"/>
<path d="M255.0 72.4h0.8v0.8h-0.8zM238.2 91.2h0.8v0.8h-0.8zM245.3 82.8h0.8v0.8h-0.8zM242.3 87.5h0.8v0.8h-0.8zM248.1 80.4h0.8v0.8h-0.8zM256.1 81.3h0.8v0.8h-0.8zM257.1 77.2h0.8v0.8h-0.8zM248.0 83.5h0.8v0.8h-0.8zM250.3 82.9h0.8v0.8h-0.8zM251.6 78.8h0.8v0.8h-0.8zM250.6 77.9h0.8v0.8h-0.8zM254.4 80.3h0.8v0.8h-0.8zM248.1 83.2h0.8v0.8h-0.8zM242.7 88.6h0.8v0.8h-0.8zM251.6 76.2h0.8v0.8h-0.8zM256.9 74.6h0.8v0.8h-0.8zM239.6 85.4h0.8v0.8h-0.8zM252.6 77.3h0.8v0.8h-0.8zM252.0 74.6h0.8v0.8h-0.8zM249.8 82.8h0.8v0.8h-0.8zM246.8 84.6h0.8v0.8h-0.8zM247.8 82.9h0.8v0.8h-0.8zM253.2 83.1h0.8v0.8h-0.8zM244.4 86.8h0.8v0.8h-0.8zM253.5 74.4h0.8v0.8h-0.8zM252.2 84.1h0.8v0.8h-0.8zM250.0 72.6h0.8v0.8h-0.8zM245.8 79.3h0.8v0.8h-0.8zM249.4 78.8h0.8v0.8h-0.8zM245.4 81.9h0.8v0.8h-0.8zM249.7 79.2h0.8v0.8h-0.8zM244.7 84.1h0.8v0.8h-0.8zM249.7 78.2h0.8v0.8h-0.8zM251.9 74.4h0.8v0.8h-0.8zM250.3 78.9h0.8v0.8h-0.8zM255.2 74.1h0.8v0.8h-0.8zM244.4 81.5h0.8v0.8h-0.8zM258.6 74.5h0.8v0.8h-0.8zM243.7 84.6h0.8v0.8h-0.8zM246.6 86.9h0.8v0.8h-0.8zM248.3 76.4h0.8v0.8h-0.8zM251.1 81.6h0.8v0.8h-0.8zM249.6 81.7h0.8v0.8h-0.8zM248.8 81.7h0.8v0.8h-0.8zM249.1 79.1h0.8v0.8h-0.8zM250.8 79.9h0.8v0.8h-0.8zM248.0 80.1h0.8v0.8h-0.8zM244.8 85.2h0.8v0.8h-0.8zM249.7 74.3h0.8v0.8h-0.8zM248.3 85.0h0.8v0.8h-0.8zM252.2 76.5h0.8v0.8h-0.8zM253.8 74.5h0.8v0.8h-0.8zM247.9 86.8h0.8v0.8h-0.8zM246.8 82.3h0.8v0.8h-0.8zM240.4 85.7h0.8v0.8h-0.8zM243.6 85.2h0.8v0.8h-0.8zM242.1 89.5h0.8v0.8h-0.8zM246.7 81.4h0.8v0.8h-0.8zM247.1 84.5h0.8v0.8h-0.8zM255.3 74.6h0.8v0.8h-0.8zM258.2 77.3h0.8v0.8h-0.8zM255.4 76.4h0.8v0.8h-0.8zM243.2 87.6h0.8v0.8h-0.8zM247.4 82.8h0.8v0.8h-0.8zM240.2 87.6h0.8v0.8h-0.8zM248.9 78.7h0.8v0.8h-0.8zM252.4 82.4h0.8v0.8h-0.8zM249.2 79.1h0.8v0.8h-0.8zM257.0 68.8h0.8v0.8h-0.8zM245.4 85.1h0.8v0.8h-0.8zM243.5 79.8h0.8v0.8h-0.8zM251.2 81.3h0.8v0.8h-0.8zM247.3 86.2h0.8v0.8h-0.8zM252.7 80.9h0.8v0.8h-0.8zM242.2 86.7h0.8v0.8h-0.8zM258.7 78.0h0.8v0.8h-0.8zM254.9 76.1h0.8v0.8h-0.8zM249.0 79.4h0.8v0.8h-0.8zM253.0 75.8h0.8v0.8h-0.8zM247.0 77.5h0.8v0.8h-0.8zM244.5 89.3h0.8v0.8h-0.8zM249.5 81.1h0.8v0.8h-0.8zM239.1 89.2h0.8v0.8h-0.8zM256.4 71.0h0.8v0.8h-0.8zM238.1 89.7h0.8v0.8h-0.8zM246.4 82.7h0.8v0.8h-0.8zM241.7 83.7h0.8v0.8h-0.8zM244.3 86.6h0.8v0.8h-0.8zM249.8 82.4h0.8v0.8h-0.8zM244.9 85.9h0.8v0.8h-0.8zM247.1 82.8h0.8v0.8h-0.8zM253.2 77.5h0.8v0.8h-0.8zM245.3 79.8h0.8v0.8h-0.8zM250.3 81.9h0.8v0.8h-0.8zM246.1 83.3h0.8v0.8h-0.8zM239.4 85.7h0.8v0.8h-0.8zM252.4 81.4h0.8v0.8h-0.8zM245.5 79.7h0.8v0.8h-0.8zM245.3 80.1h0.8v0.8h-0.8zM250.2 84.9h0.8v0.8h-0.8zM250.2 79.6h0.8v0.8h-0.8zM253.2 76.5h0.8v0.8h-0.8zM250.7 80.0h0.8v0.8h-0.8zM249.2 77.1h0.8v0.8h-0.8zM253.3 79.6h0.8v0.8h-0.8zM235.3 85.6h0.8v0.8h-0.8zM246.8 86.6h0.8v0.8h-0.8zM249.9 81.9h0.8v0.8h-0.8zM252.6 80.2h0.8v0.8h-0.8zM245.4 82.5h0.8v0.8h-0.8zM251.5 80.5h0.8v0.8h-0.8zM252.0 79.3h0.8v0.8h-0.8zM248.2 84.5h0.8v0.8h-0.8zM252.5 80.8h0.8v0.8h-0.8zM238.8 92.2h0.8v0.8h-0.8zM238.2 90.6h0.8v0.8h-0.8zM246.1 83.7h0.8v0.8h-0.8zM246.5 82.3h0.8v0.8h-0.8zM250.3 80.8h0.8v0.8h-0.8zM242.2 80.2h0.8v0.8h-0.8zM246.2 84.8h0.8v0.8h-0.8zM245.7 84.8h0.8v0.8h-0.8zM246.1 81.0h0.8v0.8h-0.8zM256.4 79.1h0.8v0.8h-0.8zM248.5 81.3h0.8v0.8h-0.8zM251.7 75.3h0.8v0.8h-0.8zM246.5 86.0h0.8v0.8h-0.8zM252.5 76.8h0.8v0.8h-0.8zM245.9 84.5h0.8v0.8h-0.8zM242.0 85.6h0.8v0.8h-0.8zM244.8 78.2h0.8v0.8h-0.8zM252.7 79.9h0.8v0.8h-0.8zM252.0 74.8h0.8v0.8h-0.8zM242.1 84.7h0.8v0.8h-0.8zM245.7 89.1h0.8v0.8h-0.8zM244.2 84.3h0.8v0.8h-0.8zM250.5 80.9h0.8v0.8h-0.8zM254.2 73.8h0.8v0.8h-0.8zM253.2 77.9h0.8v0.8h-0.8zM243.9 85.7h0.8v0.8h-0.8zM244.7 88.8h0.8v0.8h-0.8zM247.0 85.3h0.8v0.8h-0.8zM254.1 75.1h0.8v0.8h-0.8zM245.1 84.6h0.8v0.8h-0.8zM245.4 86.4h0.8v0.8h-0.8zM248.8 79.2h0.8v0.8h-0.8zM246.8 84.7h0.8v0.8h-0.8zM244.5 89.1h0.8v0.8h-0.8zM245.2 83.7h0.8v0.8h-0.8zM246.9 87.0h0.8v0.8h-0.8z" fill="#000" opacity="0.35"/>
<path d="M254.4 84.1h0.7v0.7h-0.7zM249.4 80.4h0.7v0.7h-0.7zM259.3 76.2h0.7v0.7h-0.7zM249.2 83.6h0.7v0.7h-0.7zM250.6 80.6h0.7v0.7h-0.7zM237.8 78.8h0.7v0.7h-0.7zM256.2 66.3h0.7v0.7h-0.7zM262.9 76.9h0.7v0.7h-0.7zM240.1 88.7h0.7v0.7h-0.7zM237.7 76.4h0.7v0.7h-0.7zM242.3 87.2h0.7v0.7h-0.7zM249.5 72.1h0.7v0.7h-0.7zM246.8 82.3h0.7v0.7h-0.7zM245.6 83.7h0.7v0.7h-0.7zM236.9 80.9h0.7v0.7h-0.7zM248.8 82.7h0.7v0.7h-0.7zM252.4 85.4h0.7v0.7h-0.7zM238.0 91.2h0.7v0.7h-0.7zM246.1 87.0h0.7v0.7h-0.7zM240.8 82.7h0.7v0.7h-0.7zM247.5 84.5h0.7v0.7h-0.7zM254.4 78.7h0.7v0.7h-0.7zM242.4 83.7h0.7v0.7h-0.7zM234.8 88.0h0.7v0.7h-0.7zM249.0 74.2h0.7v0.7h-0.7zM242.5 90.6h0.7v0.7h-0.7zM256.5 69.8h0.7v0.7h-0.7zM250.7 74.6h0.7v0.7h-0.7zM248.5 83.5h0.7v0.7h-0.7zM258.3 73.1h0.7v0.7h-0.7zM242.5 77.7h0.7v0.7h-0.7zM258.3 73.2h0.7v0.7h-0.7zM259.5 67.9h0.7v0.7h-0.7zM237.1 85.7h0.7v0.7h-0.7zM241.3 89.7h0.7v0.7h-0.7zM252.4 71.1h0.7v0.7h-0.7zM241.9 74.2h0.7v0.7h-0.7zM255.7 74.3h0.7v0.7h-0.7zM247.4 90.0h0.7v0.7h-0.7zM257.6 83.9h0.7v0.7h-0.7zM237.9 89.1h0.7v0.7h-0.7zM246.3 81.0h0.7v0.7h-0.7zM253.8 71.8h0.7v0.7h-0.7zM256.1 83.2h0.7v0.7h-0.7zM235.2 87.4h0.7v0.7h-0.7zM246.5 80.9h0.7v0.7h-0.7zM243.2 81.7h0.7v0.7h-0.7zM244.8 86.4h0.7v0.7h-0.7zM247.5 76.3h0.7v0.7h-0.7zM240.8 81.7h0.7v0.7h-0.7zM238.2 79.4h0.7v0.7h-0.7zM253.6 80.8h0.7v0.7h-0.7zM240.9 82.1h0.7v0.7h-0.7zM238.4 84.2h0.7v0.7h-0.7zM236.6 93.5h0.7v0.7h-0.7zM243.9 74.1h0.7v0.7h-0.7zM240.4 87.4h0.7v0.7h-0.7zM242.3 81.8h0.7v0.7h-0.7zM242.0 83.7h0.7v0.7h-0.7zM253.5 76.0h0.7v0.7h-0.7zM242.1 82.1h0.7v0.7h-0.7zM236.7 85.0h0.7v0.7h-0.7zM249.7 91.2h0.7v0.7h-0.7z" fill="#000" opacity="0.1"/>
<ellipse cx="161.2" cy="112.9" rx="5.6" ry="2.6" fill="#000" opacity="0.95" transform="rotate(-22 161.2 112.9)" filter="url(#bl6)"/>
<path d="M166.0 111.9h0.7v0.7h-0.7zM168.8 112.5h0.7v0.7h-0.7zM162.2 112.6h0.7v0.7h-0.7zM157.4 115.4h0.7v0.7h-0.7zM159.1 110.8h0.7v0.7h-0.7zM157.9 118.8h0.7v0.7h-0.7zM162.7 113.8h0.7v0.7h-0.7zM161.9 112.0h0.7v0.7h-0.7zM164.1 114.5h0.7v0.7h-0.7zM160.7 114.6h0.7v0.7h-0.7zM165.1 110.7h0.7v0.7h-0.7zM161.6 111.6h0.7v0.7h-0.7zM163.6 111.6h0.7v0.7h-0.7zM165.4 110.0h0.7v0.7h-0.7zM167.8 110.0h0.7v0.7h-0.7zM157.6 112.8h0.7v0.7h-0.7zM163.4 110.6h0.7v0.7h-0.7zM169.5 112.7h0.7v0.7h-0.7zM162.5 109.7h0.7v0.7h-0.7zM160.9 111.9h0.7v0.7h-0.7zM154.8 116.8h0.7v0.7h-0.7zM169.7 108.7h0.7v0.7h-0.7zM165.6 114.3h0.7v0.7h-0.7zM157.5 114.1h0.7v0.7h-0.7zM162.9 113.7h0.7v0.7h-0.7zM157.2 115.4h0.7v0.7h-0.7zM161.8 115.1h0.7v0.7h-0.7zM154.9 114.7h0.7v0.7h-0.7zM159.3 113.4h0.7v0.7h-0.7zM163.8 110.9h0.7v0.7h-0.7zM171.6 107.6h0.7v0.7h-0.7zM165.5 113.8h0.7v0.7h-0.7zM165.1 111.3h0.7v0.7h-0.7zM158.1 114.0h0.7v0.7h-0.7zM164.2 112.4h0.7v0.7h-0.7zM164.2 113.3h0.7v0.7h-0.7zM157.4 112.9h0.7v0.7h-0.7zM166.7 110.0h0.7v0.7h-0.7zM156.7 119.1h0.7v0.7h-0.7zM157.6 112.8h0.7v0.7h-0.7zM164.4 109.6h0.7v0.7h-0.7zM158.9 116.5h0.7v0.7h-0.7zM160.2 119.1h0.7v0.7h-0.7zM163.9 118.0h0.7v0.7h-0.7zM162.0 113.1h0.7v0.7h-0.7zM158.8 113.8h0.7v0.7h-0.7zM159.5 113.9h0.7v0.7h-0.7zM163.6 109.6h0.7v0.7h-0.7zM156.4 110.8h0.7v0.7h-0.7zM167.3 110.7h0.7v0.7h-0.7zM161.4 113.1h0.7v0.7h-0.7zM165.7 112.2h0.7v0.7h-0.7zM164.7 111.6h0.7v0.7h-0.7zM161.0 113.3h0.7v0.7h-0.7zM155.1 118.2h0.7v0.7h-0.7zM154.6 113.8h0.7v0.7h-0.7zM164.2 112.2h0.7v0.7h-0.7zM165.9 115.1h0.7v0.7h-0.7zM169.8 112.8h0.7v0.7h-0.7zM162.2 117.4h0.7v0.7h-0.7zM158.0 114.4h0.7v0.7h-0.7zM165.2 111.2h0.7v0.7h-0.7zM160.8 112.7h0.7v0.7h-0.7zM165.0 106.5h0.7v0.7h-0.7zM167.3 113.2h0.7v0.7h-0.7zM161.6 114.4h0.7v0.7h-0.7zM158.6 116.8h0.7v0.7h-0.7zM172.7 106.7h0.7v0.7h-0.7zM166.9 110.9h0.7v0.7h-0.7zM159.8 112.8h0.7v0.7h-0.7zM159.8 111.2h0.7v0.7h-0.7zM157.5 118.4h0.7v0.7h-0.7zM161.8 114.3h0.7v0.7h-0.7zM163.1 113.6h0.7v0.7h-0.7zM154.8 113.8h0.7v0.7h-0.7zM164.7 114.1h0.7v0.7h-0.7zM156.6 113.9h0.7v0.7h-0.7zM157.8 116.1h0.7v0.7h-0.7zM162.9 112.7h0.7v0.7h-0.7zM159.2 114.9h0.7v0.7h-0.7zM161.1 111.8h0.7v0.7h-0.7zM162.3 111.4h0.7v0.7h-0.7zM165.7 112.9h0.7v0.7h-0.7zM159.3 115.4h0.7v0.7h-0.7zM161.2 111.8h0.7v0.7h-0.7zM156.7 111.6h0.7v0.7h-0.7zM157.4 115.6h0.7v0.7h-0.7zM165.7 110.1h0.7v0.7h-0.7zM162.4 113.6h0.7v0.7h-0.7zM164.9 112.8h0.7v0.7h-0.7zM166.9 112.7h0.7v0.7h-0.7zM158.8 115.1h0.7v0.7h-0.7zM152.2 116.6h0.7v0.7h-0.7zM162.0 114.2h0.7v0.7h-0.7zM160.9 115.2h0.7v0.7h-0.7zM166.0 109.6h0.7v0.7h-0.7zM159.6 114.5h0.7v0.7h-0.7zM163.5 112.7h0.7v0.7h-0.7zM163.8 109.7h0.7v0.7h-0.7zM165.4 114.1h0.7v0.7h-0.7z" fill="#000" opacity="0.35"/>
<path d="M156.3 122.1h0.9v0.9h-0.9zM151.2 130.1h0.9v0.9h-0.9zM146.4 125.8h0.9v0.9h-0.9zM148.6 131.5h0.9v0.9h-0.9zM146.6 129.5h0.9v0.9h-0.9zM149.1 128.7h0.9v0.9h-0.9zM151.1 127.5h0.9v0.9h-0.9zM154.3 128.7h0.9v0.9h-0.9zM152.6 127.9h0.9v0.9h-0.9zM151.4 131.5h0.9v0.9h-0.9zM148.1 129.0h0.9v0.9h-0.9zM148.8 136.9h0.9v0.9h-0.9zM149.7 131.5h0.9v0.9h-0.9zM156.6 122.2h0.9v0.9h-0.9zM159.0 114.5h0.9v0.9h-0.9zM156.4 123.5h0.9v0.9h-0.9zM148.7 132.0h0.9v0.9h-0.9zM146.1 129.6h0.9v0.9h-0.9zM150.0 124.9h0.9v0.9h-0.9zM155.2 116.8h0.9v0.9h-0.9zM149.2 131.4h0.9v0.9h-0.9zM149.2 131.2h0.9v0.9h-0.9zM144.9 129.2h0.9v0.9h-0.9zM157.8 119.7h0.9v0.9h-0.9zM150.3 126.3h0.9v0.9h-0.9zM151.3 129.4h0.9v0.9h-0.9zM143.7 134.9h0.9v0.9h-0.9zM151.1 135.4h0.9v0.9h-0.9zM150.3 136.3h0.9v0.9h-0.9zM156.7 135.4h0.9v0.9h-0.9zM150.8 128.5h0.9v0.9h-0.9zM158.4 121.5h0.9v0.9h-0.9zM151.6 120.6h0.9v0.9h-0.9zM159.8 124.1h0.9v0.9h-0.9zM149.3 127.8h0.9v0.9h-0.9zM149.7 136.2h0.9v0.9h-0.9zM152.1 126.3h0.9v0.9h-0.9zM154.2 122.8h0.9v0.9h-0.9zM153.9 117.6h0.9v0.9h-0.9zM151.6 121.1h0.9v0.9h-0.9zM155.5 119.2h0.9v0.9h-0.9zM154.4 120.0h0.9v0.9h-0.9zM155.6 127.6h0.9v0.9h-0.9zM147.9 133.5h0.9v0.9h-0.9zM150.2 134.4h0.9v0.9h-0.9zM147.7 131.0h0.9v0.9h-0.9zM153.4 131.2h0.9v0.9h-0.9zM147.1 134.1h0.9v0.9h-0.9zM148.3 129.0h0.9v0.9h-0.9zM147.6 132.4h0.9v0.9h-0.9zM147.5 124.2h0.9v0.9h-0.9zM148.7 124.6h0.9v0.9h-0.9zM157.2 131.8h0.9v0.9h-0.9zM147.2 133.6h0.9v0.9h-0.9zM152.7 131.2h0.9v0.9h-0.9zM144.4 127.8h0.9v0.9h-0.9zM154.8 128.3h0.9v0.9h-0.9zM150.8 132.3h0.9v0.9h-0.9zM150.6 136.5h0.9v0.9h-0.9zM148.9 127.3h0.9v0.9h-0.9zM156.4 129.9h0.9v0.9h-0.9zM144.5 130.9h0.9v0.9h-0.9zM144.1 132.1h0.9v0.9h-0.9zM151.8 128.9h0.9v0.9h-0.9zM150.9 129.3h0.9v0.9h-0.9zM154.6 120.5h0.9v0.9h-0.9zM150.1 125.4h0.9v0.9h-0.9zM151.2 130.2h0.9v0.9h-0.9zM148.5 122.6h0.9v0.9h-0.9zM147.7 133.8h0.9v0.9h-0.9zM153.6 130.8h0.9v0.9h-0.9zM143.5 127.5h0.9v0.9h-0.9zM150.9 118.3h0.9v0.9h-0.9zM148.5 134.4h0.9v0.9h-0.9zM153.3 127.5h0.9v0.9h-0.9zM155.4 134.3h0.9v0.9h-0.9zM151.1 123.6h0.9v0.9h-0.9zM151.1 117.7h0.9v0.9h-0.9zM149.6 132.0h0.9v0.9h-0.9zM148.9 125.6h0.9v0.9h-0.9zM160.9 121.1h0.9v0.9h-0.9zM148.5 134.2h0.9v0.9h-0.9zM147.5 131.0h0.9v0.9h-0.9zM155.0 122.4h0.9v0.9h-0.9zM150.9 128.8h0.9v0.9h-0.9zM151.8 134.7h0.9v0.9h-0.9zM148.1 129.9h0.9v0.9h-0.9zM157.0 119.5h0.9v0.9h-0.9zM147.2 130.9h0.9v0.9h-0.9zM158.3 127.6h0.9v0.9h-0.9zM152.2 123.7h0.9v0.9h-0.9zM145.0 133.5h0.9v0.9h-0.9zM151.2 129.1h0.9v0.9h-0.9zM152.0 134.1h0.9v0.9h-0.9zM145.5 132.5h0.9v0.9h-0.9zM154.1 125.9h0.9v0.9h-0.9zM152.2 131.9h0.9v0.9h-0.9zM164.4 118.3h0.9v0.9h-0.9zM156.8 130.6h0.9v0.9h-0.9zM154.8 129.9h0.9v0.9h-0.9zM150.8 129.5h0.9v0.9h-0.9zM148.2 121.9h0.9v0.9h-0.9zM154.9 132.1h0.9v0.9h-0.9zM155.3 123.1h0.9v0.9h-0.9zM155.5 129.2h0.9v0.9h-0.9zM147.1 122.8h0.9v0.9h-0.9zM146.7 133.1h0.9v0.9h-0.9zM150.3 126.4h0.9v0.9h-0.9zM155.1 131.5h0.9v0.9h-0.9zM156.1 123.5h0.9v0.9h-0.9zM151.2 128.0h0.9v0.9h-0.9zM153.0 126.3h0.9v0.9h-0.9zM150.4 133.6h0.9v0.9h-0.9zM147.8 132.8h0.9v0.9h-0.9zM146.5 128.2h0.9v0.9h-0.9zM153.1 124.3h0.9v0.9h-0.9zM146.5 134.8h0.9v0.9h-0.9zM158.3 128.3h0.9v0.9h-0.9zM150.8 132.6h0.9v0.9h-0.9zM145.1 132.3h0.9v0.9h-0.9zM151.8 129.2h0.9v0.9h-0.9zM153.7 122.1h0.9v0.9h-0.9zM157.7 123.1h0.9v0.9h-0.9zM147.3 132.9h0.9v0.9h-0.9zM152.2 136.3h0.9v0.9h-0.9zM151.4 132.8h0.9v0.9h-0.9zM153.7 122.2h0.9v0.9h-0.9zM150.1 131.5h0.9v0.9h-0.9zM144.7 130.4h0.9v0.9h-0.9zM148.3 134.3h0.9v0.9h-0.9zM156.5 129.8h0.9v0.9h-0.9zM149.9 136.8h0.9v0.9h-0.9zM153.9 124.1h0.9v0.9h-0.9zM155.4 118.7h0.9v0.9h-0.9zM146.2 129.4h0.9v0.9h-0.9zM148.9 132.1h0.9v0.9h-0.9zM156.9 126.2h0.9v0.9h-0.9zM148.0 128.4h0.9v0.9h-0.9zM148.6 129.3h0.9v0.9h-0.9zM148.2 130.1h0.9v0.9h-0.9zM147.6 133.1h0.9v0.9h-0.9zM148.7 130.7h0.9v0.9h-0.9zM146.3 136.4h0.9v0.9h-0.9zM154.9 125.7h0.9v0.9h-0.9zM145.9 129.3h0.9v0.9h-0.9zM147.8 131.3h0.9v0.9h-0.9zM150.6 133.6h0.9v0.9h-0.9zM156.8 116.6h0.9v0.9h-0.9zM148.9 129.0h0.9v0.9h-0.9zM149.8 128.9h0.9v0.9h-0.9zM157.2 111.6h0.9v0.9h-0.9zM148.5 127.3h0.9v0.9h-0.9zM150.9 125.0h0.9v0.9h-0.9zM150.2 122.8h0.9v0.9h-0.9zM159.3 115.9h0.9v0.9h-0.9zM146.2 128.8h0.9v0.9h-0.9zM151.2 124.5h0.9v0.9h-0.9zM152.2 122.7h0.9v0.9h-0.9zM154.7 122.9h0.9v0.9h-0.9zM152.7 126.2h0.9v0.9h-0.9zM148.7 129.5h0.9v0.9h-0.9zM154.6 126.5h0.9v0.9h-0.9zM155.5 134.1h0.9v0.9h-0.9zM154.1 116.1h0.9v0.9h-0.9zM154.8 121.5h0.9v0.9h-0.9zM149.7 125.3h0.9v0.9h-0.9zM154.9 116.9h0.9v0.9h-0.9zM148.8 127.3h0.9v0.9h-0.9zM161.4 118.8h0.9v0.9h-0.9zM145.0 135.0h0.9v0.9h-0.9zM151.2 125.1h0.9v0.9h-0.9zM146.8 128.3h0.9v0.9h-0.9zM149.0 124.7h0.9v0.9h-0.9zM160.5 127.1h0.9v0.9h-0.9zM154.2 132.7h0.9v0.9h-0.9zM150.6 124.7h0.9v0.9h-0.9zM147.2 128.4h0.9v0.9h-0.9zM153.3 128.5h0.9v0.9h-0.9zM153.7 122.1h0.9v0.9h-0.9zM146.4 134.9h0.9v0.9h-0.9zM157.9 118.7h0.9v0.9h-0.9zM145.2 124.9h0.9v0.9h-0.9zM150.9 131.4h0.9v0.9h-0.9zM151.1 135.8h0.9v0.9h-0.9zM146.6 129.9h0.9v0.9h-0.9zM148.6 131.2h0.9v0.9h-0.9zM153.2 121.2h0.9v0.9h-0.9zM157.0 127.5h0.9v0.9h-0.9zM154.7 124.8h0.9v0.9h-0.9zM145.9 131.0h0.9v0.9h-0.9zM150.0 135.1h0.9v0.9h-0.9zM154.7 128.5h0.9v0.9h-0.9zM157.7 117.4h0.9v0.9h-0.9zM155.9 131.5h0.9v0.9h-0.9zM145.1 134.9h0.9v0.9h-0.9zM148.7 129.5h0.9v0.9h-0.9zM149.3 125.8h0.9v0.9h-0.9zM151.6 119.0h0.9v0.9h-0.9zM143.5 130.0h0.9v0.9h-0.9zM152.8 124.0h0.9v0.9h-0.9zM155.7 124.1h0.9v0.9h-0.9zM148.8 131.3h0.9v0.9h-0.9zM157.7 129.2h0.9v0.9h-0.9zM150.4 131.2h0.9v0.9h-0.9zM156.2 126.8h0.9v0.9h-0.9zM155.4 127.3h0.9v0.9h-0.9zM146.4 133.8h0.9v0.9h-0.9zM160.2 114.8h0.9v0.9h-0.9zM152.0 127.9h0.9v0.9h-0.9zM148.0 125.0h0.9v0.9h-0.9zM148.0 131.8h0.9v0.9h-0.9zM149.3 125.6h0.9v0.9h-0.9zM148.7 127.4h0.9v0.9h-0.9zM144.5 134.6h0.9v0.9h-0.9zM150.3 134.1h0.9v0.9h-0.9zM157.4 121.2h0.9v0.9h-0.9zM148.8 128.3h0.9v0.9h-0.9zM143.9 136.3h0.9v0.9h-0.9zM159.8 120.8h0.9v0.9h-0.9zM151.2 126.3h0.9v0.9h-0.9zM152.2 128.7h0.9v0.9h-0.9zM152.1 128.8h0.9v0.9h-0.9zM148.3 132.6h0.9v0.9h-0.9zM152.6 131.8h0.9v0.9h-0.9zM149.4 127.7h0.9v0.9h-0.9zM151.4 128.1h0.9v0.9h-0.9zM151.3 130.1h0.9v0.9h-0.9zM144.4 128.6h0.9v0.9h-0.9zM153.5 123.9h0.9v0.9h-0.9zM158.1 118.9h0.9v0.9h-0.9zM150.0 132.9h0.9v0.9h-0.9zM162.0 116.9h0.9v0.9h-0.9zM146.8 134.2h0.9v0.9h-0.9zM150.4 123.0h0.9v0.9h-0.9zM155.1 126.9h0.9v0.9h-0.9zM152.2 122.2h0.9v0.9h-0.9zM145.5 130.2h0.9v0.9h-0.9z" fill="#000" opacity="0.22"/>
<path d="M151.2 117.6h0.7v0.7h-0.7zM155.1 119.6h0.7v0.7h-0.7zM155.8 116.4h0.7v0.7h-0.7zM150.8 120.0h0.7v0.7h-0.7zM155.5 117.0h0.7v0.7h-0.7zM152.0 115.0h0.7v0.7h-0.7zM156.9 115.1h0.7v0.7h-0.7zM156.7 118.2h0.7v0.7h-0.7zM153.9 113.9h0.7v0.7h-0.7zM156.2 119.8h0.7v0.7h-0.7zM152.6 114.6h0.7v0.7h-0.7zM158.2 117.3h0.7v0.7h-0.7zM153.2 119.4h0.7v0.7h-0.7zM154.2 117.9h0.7v0.7h-0.7zM153.8 115.6h0.7v0.7h-0.7zM155.6 115.3h0.7v0.7h-0.7zM149.8 116.0h0.7v0.7h-0.7zM158.6 119.2h0.7v0.7h-0.7zM161.4 118.9h0.7v0.7h-0.7zM159.8 117.5h0.7v0.7h-0.7zM153.7 117.9h0.7v0.7h-0.7zM152.2 118.4h0.7v0.7h-0.7zM153.7 117.5h0.7v0.7h-0.7zM152.5 116.8h0.7v0.7h-0.7zM157.9 116.6h0.7v0.7h-0.7zM153.0 117.6h0.7v0.7h-0.7zM157.6 116.7h0.7v0.7h-0.7zM151.6 114.0h0.7v0.7h-0.7zM151.1 119.1h0.7v0.7h-0.7zM154.7 117.9h0.7v0.7h-0.7zM158.2 117.6h0.7v0.7h-0.7zM156.4 116.0h0.7v0.7h-0.7zM150.3 118.2h0.7v0.7h-0.7zM154.7 118.1h0.7v0.7h-0.7zM151.9 116.7h0.7v0.7h-0.7zM160.9 115.4h0.7v0.7h-0.7zM155.3 119.6h0.7v0.7h-0.7zM154.3 117.3h0.7v0.7h-0.7zM148.7 118.5h0.7v0.7h-0.7zM153.7 119.5h0.7v0.7h-0.7z" fill="#000" opacity="0.2"/>
<ellipse cx="204.4" cy="113.4" rx="5.2" ry="2.8" fill="#000" opacity="0.95" transform="rotate(-30 204.4 113.4)" filter="url(#bl6)"/>
<ellipse cx="192.6" cy="113.6" rx="3.8" ry="2.0" fill="#000" opacity="0.6" transform="rotate(-10 192.6 113.6)" filter="url(#bl7)"/>
<path d="M198.2 113.2h0.7v0.7h-0.7zM201.8 112.5h0.7v0.7h-0.7zM196.4 117.5h0.7v0.7h-0.7zM205.6 112.2h0.7v0.7h-0.7zM204.8 113.8h0.7v0.7h-0.7zM202.9 112.8h0.7v0.7h-0.7zM199.7 114.4h0.7v0.7h-0.7zM202.9 113.4h0.7v0.7h-0.7zM195.3 114.6h0.7v0.7h-0.7zM201.6 111.1h0.7v0.7h-0.7zM199.3 115.2h0.7v0.7h-0.7zM200.0 112.9h0.7v0.7h-0.7zM198.6 112.9h0.7v0.7h-0.7zM205.3 111.3h0.7v0.7h-0.7zM187.4 114.4h0.7v0.7h-0.7zM201.1 113.6h0.7v0.7h-0.7zM195.2 112.1h0.7v0.7h-0.7zM197.6 112.4h0.7v0.7h-0.7zM194.7 114.9h0.7v0.7h-0.7zM194.1 115.7h0.7v0.7h-0.7zM193.9 114.2h0.7v0.7h-0.7zM198.2 116.8h0.7v0.7h-0.7zM209.9 112.7h0.7v0.7h-0.7zM194.1 115.0h0.7v0.7h-0.7zM205.5 113.6h0.7v0.7h-0.7zM188.2 116.5h0.7v0.7h-0.7zM194.5 116.4h0.7v0.7h-0.7zM203.0 111.6h0.7v0.7h-0.7zM213.1 109.4h0.7v0.7h-0.7zM215.1 109.1h0.7v0.7h-0.7zM199.4 117.4h0.7v0.7h-0.7zM195.3 113.8h0.7v0.7h-0.7zM208.8 111.0h0.7v0.7h-0.7zM201.5 110.6h0.7v0.7h-0.7zM211.3 112.4h0.7v0.7h-0.7zM201.7 114.4h0.7v0.7h-0.7zM195.5 113.7h0.7v0.7h-0.7zM188.8 117.2h0.7v0.7h-0.7zM207.6 113.1h0.7v0.7h-0.7zM205.4 113.4h0.7v0.7h-0.7zM192.3 113.0h0.7v0.7h-0.7zM203.3 112.9h0.7v0.7h-0.7zM205.4 111.5h0.7v0.7h-0.7zM193.4 116.1h0.7v0.7h-0.7zM194.5 111.7h0.7v0.7h-0.7zM194.5 113.2h0.7v0.7h-0.7zM191.4 114.7h0.7v0.7h-0.7zM206.5 116.4h0.7v0.7h-0.7zM210.2 109.9h0.7v0.7h-0.7zM206.5 111.6h0.7v0.7h-0.7zM201.3 111.8h0.7v0.7h-0.7zM197.7 110.8h0.7v0.7h-0.7zM210.5 109.1h0.7v0.7h-0.7zM202.6 111.6h0.7v0.7h-0.7zM200.2 111.1h0.7v0.7h-0.7zM197.0 116.1h0.7v0.7h-0.7zM202.0 109.1h0.7v0.7h-0.7zM204.0 109.8h0.7v0.7h-0.7zM201.2 114.2h0.7v0.7h-0.7zM194.6 114.3h0.7v0.7h-0.7zM197.6 114.9h0.7v0.7h-0.7zM205.7 114.6h0.7v0.7h-0.7zM202.2 116.8h0.7v0.7h-0.7zM193.6 118.7h0.7v0.7h-0.7zM197.7 115.6h0.7v0.7h-0.7zM198.2 114.1h0.7v0.7h-0.7zM193.1 116.1h0.7v0.7h-0.7zM212.5 110.4h0.7v0.7h-0.7zM198.9 113.8h0.7v0.7h-0.7zM203.6 112.1h0.7v0.7h-0.7zM199.1 114.1h0.7v0.7h-0.7zM208.1 113.2h0.7v0.7h-0.7zM191.7 114.4h0.7v0.7h-0.7zM199.6 115.3h0.7v0.7h-0.7zM205.3 111.6h0.7v0.7h-0.7zM213.0 109.7h0.7v0.7h-0.7zM209.0 113.9h0.7v0.7h-0.7zM209.7 111.3h0.7v0.7h-0.7zM202.1 109.9h0.7v0.7h-0.7zM186.9 115.8h0.7v0.7h-0.7zM204.3 114.4h0.7v0.7h-0.7zM198.8 115.8h0.7v0.7h-0.7zM203.6 115.5h0.7v0.7h-0.7zM188.1 115.0h0.7v0.7h-0.7zM192.2 113.5h0.7v0.7h-0.7zM209.5 109.1h0.7v0.7h-0.7zM193.3 114.5h0.7v0.7h-0.7zM204.6 111.3h0.7v0.7h-0.7zM204.2 113.4h0.7v0.7h-0.7zM193.6 110.5h0.7v0.7h-0.7zM192.3 113.1h0.7v0.7h-0.7zM209.5 109.5h0.7v0.7h-0.7zM192.1 116.3h0.7v0.7h-0.7zM198.9 111.9h0.7v0.7h-0.7zM206.7 113.5h0.7v0.7h-0.7zM200.5 111.8h0.7v0.7h-0.7zM192.2 111.5h0.7v0.7h-0.7zM201.7 113.8h0.7v0.7h-0.7zM192.9 115.4h0.7v0.7h-0.7zM220.2 105.8h0.7v0.7h-0.7z" fill="#000" opacity="0.3"/>
<path d="M189.3 130.4h0.9v0.9h-0.9zM193.7 124.6h0.9v0.9h-0.9zM196.6 123.2h0.9v0.9h-0.9zM196.1 121.7h0.9v0.9h-0.9zM189.1 125.0h0.9v0.9h-0.9zM194.6 129.4h0.9v0.9h-0.9zM188.9 134.8h0.9v0.9h-0.9zM187.0 131.6h0.9v0.9h-0.9zM193.5 134.1h0.9v0.9h-0.9zM194.2 124.3h0.9v0.9h-0.9zM192.1 129.2h0.9v0.9h-0.9zM193.5 127.0h0.9v0.9h-0.9zM191.1 122.5h0.9v0.9h-0.9zM191.3 129.2h0.9v0.9h-0.9zM191.6 132.9h0.9v0.9h-0.9zM190.4 129.8h0.9v0.9h-0.9zM188.2 133.9h0.9v0.9h-0.9zM188.8 134.9h0.9v0.9h-0.9zM199.0 121.9h0.9v0.9h-0.9zM189.8 124.0h0.9v0.9h-0.9zM197.9 123.6h0.9v0.9h-0.9zM192.6 112.8h0.9v0.9h-0.9zM191.2 127.9h0.9v0.9h-0.9zM192.6 120.4h0.9v0.9h-0.9zM197.0 134.1h0.9v0.9h-0.9zM189.9 119.6h0.9v0.9h-0.9zM195.8 130.3h0.9v0.9h-0.9zM191.6 133.1h0.9v0.9h-0.9zM188.4 125.8h0.9v0.9h-0.9zM193.1 133.9h0.9v0.9h-0.9zM194.2 120.5h0.9v0.9h-0.9zM193.7 120.7h0.9v0.9h-0.9zM192.8 127.0h0.9v0.9h-0.9zM188.9 136.6h0.9v0.9h-0.9zM187.1 132.3h0.9v0.9h-0.9zM186.7 132.2h0.9v0.9h-0.9zM195.1 123.2h0.9v0.9h-0.9zM192.1 126.6h0.9v0.9h-0.9zM191.5 127.7h0.9v0.9h-0.9zM195.0 129.5h0.9v0.9h-0.9zM197.1 129.4h0.9v0.9h-0.9zM186.9 136.4h0.9v0.9h-0.9zM193.3 134.0h0.9v0.9h-0.9zM196.1 117.5h0.9v0.9h-0.9zM193.7 123.7h0.9v0.9h-0.9zM188.5 134.4h0.9v0.9h-0.9zM197.1 126.6h0.9v0.9h-0.9zM186.6 122.8h0.9v0.9h-0.9zM194.9 123.8h0.9v0.9h-0.9zM199.9 124.8h0.9v0.9h-0.9zM190.8 135.9h0.9v0.9h-0.9zM192.6 126.2h0.9v0.9h-0.9zM192.5 131.0h0.9v0.9h-0.9zM195.7 125.9h0.9v0.9h-0.9zM187.1 129.1h0.9v0.9h-0.9zM199.8 122.4h0.9v0.9h-0.9zM190.1 131.9h0.9v0.9h-0.9zM189.9 121.1h0.9v0.9h-0.9zM200.2 128.9h0.9v0.9h-0.9zM191.0 125.8h0.9v0.9h-0.9zM198.6 116.1h0.9v0.9h-0.9zM191.5 126.6h0.9v0.9h-0.9zM187.7 124.8h0.9v0.9h-0.9zM194.7 122.9h0.9v0.9h-0.9zM190.2 118.6h0.9v0.9h-0.9zM194.0 134.2h0.9v0.9h-0.9zM188.7 132.5h0.9v0.9h-0.9zM195.5 130.5h0.9v0.9h-0.9zM200.5 122.7h0.9v0.9h-0.9zM192.5 124.2h0.9v0.9h-0.9zM186.4 129.4h0.9v0.9h-0.9zM199.5 122.6h0.9v0.9h-0.9zM189.9 126.7h0.9v0.9h-0.9zM195.5 125.1h0.9v0.9h-0.9zM189.4 125.9h0.9v0.9h-0.9zM191.2 126.2h0.9v0.9h-0.9zM196.0 124.9h0.9v0.9h-0.9zM192.3 125.2h0.9v0.9h-0.9zM199.0 120.4h0.9v0.9h-0.9zM198.4 122.0h0.9v0.9h-0.9zM195.2 125.0h0.9v0.9h-0.9zM190.6 135.1h0.9v0.9h-0.9zM195.4 123.2h0.9v0.9h-0.9zM197.3 130.6h0.9v0.9h-0.9zM196.3 125.3h0.9v0.9h-0.9zM193.5 131.0h0.9v0.9h-0.9zM189.9 127.8h0.9v0.9h-0.9zM192.8 131.9h0.9v0.9h-0.9zM192.0 121.1h0.9v0.9h-0.9zM189.1 134.7h0.9v0.9h-0.9zM195.7 113.9h0.9v0.9h-0.9zM189.1 136.7h0.9v0.9h-0.9zM192.0 124.5h0.9v0.9h-0.9zM193.2 129.4h0.9v0.9h-0.9zM196.4 126.2h0.9v0.9h-0.9zM195.6 121.3h0.9v0.9h-0.9zM192.8 122.9h0.9v0.9h-0.9zM198.2 123.7h0.9v0.9h-0.9zM188.4 130.2h0.9v0.9h-0.9zM189.1 133.5h0.9v0.9h-0.9zM189.6 135.6h0.9v0.9h-0.9zM194.9 115.3h0.9v0.9h-0.9zM193.9 121.4h0.9v0.9h-0.9zM193.4 125.0h0.9v0.9h-0.9zM194.2 119.7h0.9v0.9h-0.9zM192.3 122.9h0.9v0.9h-0.9zM192.7 127.1h0.9v0.9h-0.9zM191.2 119.6h0.9v0.9h-0.9zM197.8 128.6h0.9v0.9h-0.9zM189.3 135.0h0.9v0.9h-0.9zM198.7 127.4h0.9v0.9h-0.9zM190.6 128.2h0.9v0.9h-0.9zM194.0 124.0h0.9v0.9h-0.9zM191.7 134.1h0.9v0.9h-0.9zM195.0 119.5h0.9v0.9h-0.9zM192.0 131.0h0.9v0.9h-0.9zM197.0 122.5h0.9v0.9h-0.9zM187.4 133.5h0.9v0.9h-0.9zM195.1 122.0h0.9v0.9h-0.9zM192.3 133.6h0.9v0.9h-0.9zM201.6 124.7h0.9v0.9h-0.9zM186.6 134.0h0.9v0.9h-0.9zM190.7 133.2h0.9v0.9h-0.9zM193.5 133.0h0.9v0.9h-0.9zM189.2 132.0h0.9v0.9h-0.9zM194.4 125.4h0.9v0.9h-0.9zM192.8 136.8h0.9v0.9h-0.9zM192.5 124.3h0.9v0.9h-0.9zM189.7 125.6h0.9v0.9h-0.9zM187.2 135.5h0.9v0.9h-0.9zM193.4 126.4h0.9v0.9h-0.9zM191.0 125.1h0.9v0.9h-0.9zM197.3 122.1h0.9v0.9h-0.9zM189.0 130.1h0.9v0.9h-0.9zM196.5 122.1h0.9v0.9h-0.9zM198.2 119.2h0.9v0.9h-0.9zM188.5 131.2h0.9v0.9h-0.9zM190.4 133.1h0.9v0.9h-0.9zM194.5 127.8h0.9v0.9h-0.9zM190.6 124.3h0.9v0.9h-0.9zM188.8 128.4h0.9v0.9h-0.9zM190.0 123.7h0.9v0.9h-0.9zM187.8 130.8h0.9v0.9h-0.9zM189.3 131.9h0.9v0.9h-0.9zM196.1 119.0h0.9v0.9h-0.9zM186.6 136.7h0.9v0.9h-0.9zM195.9 124.8h0.9v0.9h-0.9zM198.2 129.9h0.9v0.9h-0.9zM195.8 122.0h0.9v0.9h-0.9zM192.3 119.3h0.9v0.9h-0.9zM189.1 128.3h0.9v0.9h-0.9zM197.0 129.8h0.9v0.9h-0.9zM194.7 133.8h0.9v0.9h-0.9zM192.6 136.7h0.9v0.9h-0.9zM194.9 122.4h0.9v0.9h-0.9zM192.4 127.6h0.9v0.9h-0.9zM192.1 127.2h0.9v0.9h-0.9zM188.1 134.0h0.9v0.9h-0.9zM189.9 126.5h0.9v0.9h-0.9zM198.3 128.2h0.9v0.9h-0.9zM191.2 130.2h0.9v0.9h-0.9zM190.3 126.9h0.9v0.9h-0.9zM191.9 128.7h0.9v0.9h-0.9zM195.9 131.2h0.9v0.9h-0.9zM188.4 125.6h0.9v0.9h-0.9zM189.2 129.7h0.9v0.9h-0.9zM186.8 136.2h0.9v0.9h-0.9zM189.9 128.1h0.9v0.9h-0.9zM193.3 131.9h0.9v0.9h-0.9zM196.0 124.6h0.9v0.9h-0.9zM187.8 127.6h0.9v0.9h-0.9zM198.5 126.0h0.9v0.9h-0.9zM199.2 122.5h0.9v0.9h-0.9zM193.9 127.4h0.9v0.9h-0.9zM195.4 130.4h0.9v0.9h-0.9zM197.0 133.2h0.9v0.9h-0.9zM193.6 123.4h0.9v0.9h-0.9zM187.6 126.2h0.9v0.9h-0.9zM188.9 132.5h0.9v0.9h-0.9zM197.6 112.6h0.9v0.9h-0.9zM195.1 123.1h0.9v0.9h-0.9zM192.8 131.2h0.9v0.9h-0.9zM199.0 117.3h0.9v0.9h-0.9zM192.2 129.1h0.9v0.9h-0.9zM192.8 123.8h0.9v0.9h-0.9zM193.8 128.5h0.9v0.9h-0.9zM191.9 131.2h0.9v0.9h-0.9zM195.0 127.5h0.9v0.9h-0.9zM187.4 133.6h0.9v0.9h-0.9zM193.9 132.8h0.9v0.9h-0.9zM188.3 124.6h0.9v0.9h-0.9zM189.6 124.6h0.9v0.9h-0.9zM189.5 134.2h0.9v0.9h-0.9zM200.9 122.3h0.9v0.9h-0.9zM190.0 130.3h0.9v0.9h-0.9zM195.5 115.6h0.9v0.9h-0.9zM197.9 119.6h0.9v0.9h-0.9zM195.8 129.8h0.9v0.9h-0.9zM191.3 124.4h0.9v0.9h-0.9zM197.3 127.4h0.9v0.9h-0.9zM198.1 127.0h0.9v0.9h-0.9zM195.1 124.0h0.9v0.9h-0.9zM194.5 126.5h0.9v0.9h-0.9zM189.7 132.1h0.9v0.9h-0.9zM191.2 127.1h0.9v0.9h-0.9zM195.0 126.2h0.9v0.9h-0.9zM189.2 126.2h0.9v0.9h-0.9zM193.7 122.8h0.9v0.9h-0.9zM192.5 124.7h0.9v0.9h-0.9zM200.4 121.6h0.9v0.9h-0.9zM188.2 124.5h0.9v0.9h-0.9zM190.0 130.4h0.9v0.9h-0.9zM193.1 125.5h0.9v0.9h-0.9zM188.7 124.1h0.9v0.9h-0.9zM193.9 134.4h0.9v0.9h-0.9zM201.1 115.6h0.9v0.9h-0.9zM194.1 132.7h0.9v0.9h-0.9zM196.3 121.7h0.9v0.9h-0.9zM200.4 119.2h0.9v0.9h-0.9zM187.8 129.9h0.9v0.9h-0.9zM198.8 113.1h0.9v0.9h-0.9zM193.0 125.9h0.9v0.9h-0.9zM186.1 129.0h0.9v0.9h-0.9zM191.2 129.2h0.9v0.9h-0.9zM193.7 121.9h0.9v0.9h-0.9zM192.6 129.1h0.9v0.9h-0.9zM193.3 123.6h0.9v0.9h-0.9zM194.1 125.5h0.9v0.9h-0.9zM197.2 118.3h0.9v0.9h-0.9zM194.0 128.5h0.9v0.9h-0.9zM193.4 119.9h0.9v0.9h-0.9zM189.7 130.9h0.9v0.9h-0.9zM195.5 122.1h0.9v0.9h-0.9zM206.2 110.1h0.9v0.9h-0.9zM202.7 118.6h0.9v0.9h-0.9zM191.0 121.0h0.9v0.9h-0.9zM198.0 119.9h0.9v0.9h-0.9zM188.3 135.8h0.9v0.9h-0.9zM197.1 125.4h0.9v0.9h-0.9zM191.1 126.7h0.9v0.9h-0.9zM192.4 122.8h0.9v0.9h-0.9z" fill="#000" opacity="0.22"/>
<ellipse cx="251.0" cy="117.4" rx="6.3" ry="4.0" fill="#000" opacity="0.97" transform="rotate(-38 251.0 117.4)" filter="url(#bl7)"/>
<path d="M252.2 119.5h0.7v0.7h-0.7zM246.2 122.6h0.7v0.7h-0.7zM241.7 120.9h0.7v0.7h-0.7zM246.1 120.9h0.7v0.7h-0.7zM253.6 115.1h0.7v0.7h-0.7zM254.7 114.9h0.7v0.7h-0.7zM251.2 119.2h0.7v0.7h-0.7zM250.4 118.5h0.7v0.7h-0.7zM253.9 112.9h0.7v0.7h-0.7zM253.2 111.2h0.7v0.7h-0.7zM246.8 113.7h0.7v0.7h-0.7zM252.1 123.0h0.7v0.7h-0.7zM254.9 119.5h0.7v0.7h-0.7zM243.4 119.3h0.7v0.7h-0.7zM254.4 118.1h0.7v0.7h-0.7zM250.9 110.7h0.7v0.7h-0.7zM252.8 115.7h0.7v0.7h-0.7zM252.4 118.2h0.7v0.7h-0.7zM246.6 114.0h0.7v0.7h-0.7zM244.1 117.0h0.7v0.7h-0.7zM245.7 121.0h0.7v0.7h-0.7zM254.6 111.7h0.7v0.7h-0.7zM245.8 116.8h0.7v0.7h-0.7zM244.5 122.7h0.7v0.7h-0.7zM248.7 118.3h0.7v0.7h-0.7zM248.3 121.5h0.7v0.7h-0.7zM247.5 122.4h0.7v0.7h-0.7zM250.0 121.4h0.7v0.7h-0.7zM248.5 121.2h0.7v0.7h-0.7zM252.5 115.9h0.7v0.7h-0.7zM257.6 112.9h0.7v0.7h-0.7zM249.0 121.8h0.7v0.7h-0.7zM246.8 118.5h0.7v0.7h-0.7zM251.4 117.8h0.7v0.7h-0.7zM254.1 107.9h0.7v0.7h-0.7zM252.2 121.0h0.7v0.7h-0.7zM251.0 118.7h0.7v0.7h-0.7zM254.4 109.7h0.7v0.7h-0.7zM252.7 119.3h0.7v0.7h-0.7zM245.3 114.8h0.7v0.7h-0.7zM247.6 120.9h0.7v0.7h-0.7zM255.3 121.5h0.7v0.7h-0.7zM253.1 109.5h0.7v0.7h-0.7zM256.8 116.6h0.7v0.7h-0.7zM256.9 112.2h0.7v0.7h-0.7zM249.2 119.4h0.7v0.7h-0.7zM258.2 114.3h0.7v0.7h-0.7zM259.1 114.3h0.7v0.7h-0.7zM246.8 116.6h0.7v0.7h-0.7zM255.1 108.0h0.7v0.7h-0.7zM249.0 117.7h0.7v0.7h-0.7zM246.4 118.7h0.7v0.7h-0.7zM255.7 123.4h0.7v0.7h-0.7zM249.7 116.3h0.7v0.7h-0.7zM253.3 119.4h0.7v0.7h-0.7zM247.1 118.8h0.7v0.7h-0.7zM245.7 124.4h0.7v0.7h-0.7zM256.6 119.1h0.7v0.7h-0.7zM250.7 126.5h0.7v0.7h-0.7zM253.8 114.1h0.7v0.7h-0.7zM248.9 117.8h0.7v0.7h-0.7zM247.9 123.0h0.7v0.7h-0.7zM247.2 117.4h0.7v0.7h-0.7zM253.2 116.1h0.7v0.7h-0.7zM248.3 118.6h0.7v0.7h-0.7zM251.8 122.3h0.7v0.7h-0.7zM253.4 112.6h0.7v0.7h-0.7zM253.5 121.0h0.7v0.7h-0.7zM253.4 122.7h0.7v0.7h-0.7zM254.0 117.7h0.7v0.7h-0.7zM244.7 125.8h0.7v0.7h-0.7zM253.5 117.8h0.7v0.7h-0.7zM253.9 117.3h0.7v0.7h-0.7zM250.8 121.2h0.7v0.7h-0.7zM249.2 114.6h0.7v0.7h-0.7zM247.4 120.9h0.7v0.7h-0.7zM248.0 110.8h0.7v0.7h-0.7zM245.1 126.2h0.7v0.7h-0.7zM256.6 124.6h0.7v0.7h-0.7zM244.6 121.4h0.7v0.7h-0.7zM249.8 120.6h0.7v0.7h-0.7zM259.6 117.2h0.7v0.7h-0.7zM249.6 123.5h0.7v0.7h-0.7zM246.9 121.8h0.7v0.7h-0.7zM252.9 118.4h0.7v0.7h-0.7zM250.6 123.2h0.7v0.7h-0.7zM250.7 117.6h0.7v0.7h-0.7zM247.9 115.5h0.7v0.7h-0.7zM254.4 116.1h0.7v0.7h-0.7zM256.4 120.7h0.7v0.7h-0.7zM247.1 119.3h0.7v0.7h-0.7zM252.7 119.5h0.7v0.7h-0.7zM252.2 120.3h0.7v0.7h-0.7zM249.3 111.6h0.7v0.7h-0.7zM244.4 114.3h0.7v0.7h-0.7zM249.1 117.2h0.7v0.7h-0.7zM253.6 116.1h0.7v0.7h-0.7zM253.2 120.8h0.7v0.7h-0.7zM250.9 112.5h0.7v0.7h-0.7zM249.0 120.3h0.7v0.7h-0.7zM257.2 111.8h0.7v0.7h-0.7zM250.9 118.6h0.7v0.7h-0.7zM253.8 114.8h0.7v0.7h-0.7zM251.3 115.5h0.7v0.7h-0.7zM247.3 117.1h0.7v0.7h-0.7zM252.4 114.0h0.7v0.7h-0.7zM253.9 116.8h0.7v0.7h-0.7zM249.5 107.7h0.7v0.7h-0.7zM244.9 117.2h0.7v0.7h-0.7zM252.0 119.9h0.7v0.7h-0.7zM263.8 113.7h0.7v0.7h-0.7zM257.0 114.3h0.7v0.7h-0.7zM250.6 119.9h0.7v0.7h-0.7zM244.5 126.3h0.7v0.7h-0.7zM252.3 118.9h0.7v0.7h-0.7zM244.9 117.7h0.7v0.7h-0.7zM248.4 119.2h0.7v0.7h-0.7zM251.6 115.5h0.7v0.7h-0.7zM253.7 118.1h0.7v0.7h-0.7zM246.3 120.6h0.7v0.7h-0.7z" fill="#000" opacity="0.35"/>
<path d="M241.7 117.4h0.7v0.7h-0.7zM247.7 117.1h0.7v0.7h-0.7zM250.1 119.5h0.7v0.7h-0.7zM247.7 118.7h0.7v0.7h-0.7zM247.6 120.6h0.7v0.7h-0.7zM245.8 117.5h0.7v0.7h-0.7zM244.2 122.3h0.7v0.7h-0.7zM245.1 117.6h0.7v0.7h-0.7zM243.8 115.2h0.7v0.7h-0.7zM244.3 119.1h0.7v0.7h-0.7zM244.3 117.0h0.7v0.7h-0.7zM246.5 119.4h0.7v0.7h-0.7zM244.4 119.1h0.7v0.7h-0.7zM243.1 120.2h0.7v0.7h-0.7zM243.1 117.8h0.7v0.7h-0.7zM245.8 117.7h0.7v0.7h-0.7zM242.7 122.6h0.7v0.7h-0.7zM249.2 115.1h0.7v0.7h-0.7zM245.8 116.0h0.7v0.7h-0.7zM246.3 116.0h0.7v0.7h-0.7zM246.9 119.5h0.7v0.7h-0.7zM249.7 120.8h0.7v0.7h-0.7zM244.4 120.3h0.7v0.7h-0.7zM244.4 118.3h0.7v0.7h-0.7zM244.3 115.1h0.7v0.7h-0.7zM247.0 114.5h0.7v0.7h-0.7zM244.9 119.5h0.7v0.7h-0.7zM245.8 115.4h0.7v0.7h-0.7zM243.9 119.8h0.7v0.7h-0.7zM248.2 121.6h0.7v0.7h-0.7zM241.1 119.4h0.7v0.7h-0.7zM244.3 120.0h0.7v0.7h-0.7zM241.4 118.2h0.7v0.7h-0.7zM247.2 117.2h0.7v0.7h-0.7zM244.6 116.6h0.7v0.7h-0.7zM248.2 115.9h0.7v0.7h-0.7zM243.3 117.9h0.7v0.7h-0.7zM244.7 122.6h0.7v0.7h-0.7zM246.2 116.9h0.7v0.7h-0.7zM246.9 119.2h0.7v0.7h-0.7zM246.2 118.4h0.7v0.7h-0.7zM246.6 116.2h0.7v0.7h-0.7zM242.6 117.7h0.7v0.7h-0.7zM242.8 119.9h0.7v0.7h-0.7zM250.2 120.9h0.7v0.7h-0.7zM246.6 119.2h0.7v0.7h-0.7zM243.8 116.0h0.7v0.7h-0.7zM246.8 115.6h0.7v0.7h-0.7zM246.2 118.2h0.7v0.7h-0.7zM247.3 118.6h0.7v0.7h-0.7zM245.8 117.4h0.7v0.7h-0.7zM241.3 117.8h0.7v0.7h-0.7zM247.2 120.5h0.7v0.7h-0.7zM248.9 116.6h0.7v0.7h-0.7zM243.2 119.9h0.7v0.7h-0.7zM244.4 123.5h0.7v0.7h-0.7zM246.3 115.5h0.7v0.7h-0.7zM244.1 121.6h0.7v0.7h-0.7zM241.0 118.8h0.7v0.7h-0.7zM242.1 121.6h0.7v0.7h-0.7z" fill="#000" opacity="0.2"/>
<path d="M243.5 116.0h0.7v0.7h-0.7zM233.6 117.2h0.7v0.7h-0.7zM264.0 120.4h0.7v0.7h-0.7zM244.9 115.5h0.7v0.7h-0.7zM249.7 118.2h0.7v0.7h-0.7zM240.4 125.4h0.7v0.7h-0.7zM250.4 116.5h0.7v0.7h-0.7zM258.6 119.8h0.7v0.7h-0.7zM250.9 120.6h0.7v0.7h-0.7zM256.2 122.4h0.7v0.7h-0.7zM244.3 122.8h0.7v0.7h-0.7zM243.9 120.5h0.7v0.7h-0.7zM259.8 115.9h0.7v0.7h-0.7zM238.9 118.4h0.7v0.7h-0.7zM243.1 125.1h0.7v0.7h-0.7zM234.6 128.9h0.7v0.7h-0.7zM259.4 118.2h0.7v0.7h-0.7zM248.5 118.6h0.7v0.7h-0.7zM252.3 122.6h0.7v0.7h-0.7zM252.9 123.0h0.7v0.7h-0.7zM262.1 119.3h0.7v0.7h-0.7zM252.5 119.3h0.7v0.7h-0.7zM247.3 120.9h0.7v0.7h-0.7zM246.6 121.3h0.7v0.7h-0.7zM240.3 119.4h0.7v0.7h-0.7zM242.3 115.4h0.7v0.7h-0.7zM241.5 118.1h0.7v0.7h-0.7zM245.8 113.9h0.7v0.7h-0.7zM245.0 115.6h0.7v0.7h-0.7zM240.6 120.7h0.7v0.7h-0.7zM255.7 121.1h0.7v0.7h-0.7zM243.2 118.3h0.7v0.7h-0.7zM257.5 113.7h0.7v0.7h-0.7zM255.9 114.1h0.7v0.7h-0.7zM242.0 120.2h0.7v0.7h-0.7zM245.3 126.5h0.7v0.7h-0.7zM250.9 119.8h0.7v0.7h-0.7zM254.5 120.1h0.7v0.7h-0.7zM240.7 124.4h0.7v0.7h-0.7zM258.7 125.0h0.7v0.7h-0.7zM237.8 127.4h0.7v0.7h-0.7zM243.7 123.0h0.7v0.7h-0.7zM256.3 129.3h0.7v0.7h-0.7zM234.3 116.0h0.7v0.7h-0.7zM256.2 121.9h0.7v0.7h-0.7zM244.6 108.6h0.7v0.7h-0.7zM250.5 119.3h0.7v0.7h-0.7zM247.0 120.9h0.7v0.7h-0.7zM252.9 119.0h0.7v0.7h-0.7zM240.0 118.6h0.7v0.7h-0.7zM262.5 117.3h0.7v0.7h-0.7zM246.4 127.4h0.7v0.7h-0.7zM255.2 120.5h0.7v0.7h-0.7zM252.8 118.9h0.7v0.7h-0.7zM239.9 123.9h0.7v0.7h-0.7zM248.1 126.3h0.7v0.7h-0.7z" fill="#000" opacity="0.12"/>
<ellipse cx="163.6" cy="152.6" rx="6.0" ry="3.0" fill="#000" opacity="0.97" transform="rotate(-28 163.6 152.6)" filter="url(#bl6)"/>
<path d="M161.5 152.8h0.7v0.7h-0.7zM164.3 151.8h0.7v0.7h-0.7zM160.7 151.9h0.7v0.7h-0.7zM164.5 153.1h0.7v0.7h-0.7zM170.9 148.7h0.7v0.7h-0.7zM155.9 158.0h0.7v0.7h-0.7zM159.4 154.5h0.7v0.7h-0.7zM150.3 158.9h0.7v0.7h-0.7zM160.5 150.3h0.7v0.7h-0.7zM164.5 149.9h0.7v0.7h-0.7zM154.2 155.8h0.7v0.7h-0.7zM167.9 155.5h0.7v0.7h-0.7zM168.6 150.5h0.7v0.7h-0.7zM160.5 153.6h0.7v0.7h-0.7zM166.6 149.7h0.7v0.7h-0.7zM165.9 154.0h0.7v0.7h-0.7zM158.4 153.9h0.7v0.7h-0.7zM165.0 152.0h0.7v0.7h-0.7zM161.9 152.2h0.7v0.7h-0.7zM164.8 157.0h0.7v0.7h-0.7zM163.3 153.1h0.7v0.7h-0.7zM161.6 150.1h0.7v0.7h-0.7zM162.6 153.6h0.7v0.7h-0.7zM160.4 155.2h0.7v0.7h-0.7zM150.8 155.5h0.7v0.7h-0.7zM163.9 153.6h0.7v0.7h-0.7zM161.8 152.4h0.7v0.7h-0.7zM165.0 154.8h0.7v0.7h-0.7zM166.8 150.8h0.7v0.7h-0.7zM162.2 156.3h0.7v0.7h-0.7zM166.3 153.6h0.7v0.7h-0.7zM160.9 151.9h0.7v0.7h-0.7zM163.1 151.3h0.7v0.7h-0.7zM168.9 152.1h0.7v0.7h-0.7zM154.3 159.4h0.7v0.7h-0.7zM169.9 152.1h0.7v0.7h-0.7zM160.0 152.3h0.7v0.7h-0.7zM168.3 152.9h0.7v0.7h-0.7zM162.0 150.5h0.7v0.7h-0.7zM156.7 157.1h0.7v0.7h-0.7zM158.7 153.5h0.7v0.7h-0.7zM166.1 154.2h0.7v0.7h-0.7zM153.3 156.4h0.7v0.7h-0.7zM168.6 149.9h0.7v0.7h-0.7zM162.2 155.1h0.7v0.7h-0.7zM156.7 153.1h0.7v0.7h-0.7zM164.8 156.2h0.7v0.7h-0.7zM167.4 150.6h0.7v0.7h-0.7zM166.9 149.8h0.7v0.7h-0.7zM156.0 152.2h0.7v0.7h-0.7zM165.2 154.2h0.7v0.7h-0.7zM164.6 152.1h0.7v0.7h-0.7zM162.5 156.2h0.7v0.7h-0.7zM161.2 150.1h0.7v0.7h-0.7zM168.2 148.5h0.7v0.7h-0.7zM164.7 152.1h0.7v0.7h-0.7zM167.8 151.1h0.7v0.7h-0.7zM168.5 150.6h0.7v0.7h-0.7zM160.4 153.0h0.7v0.7h-0.7zM164.9 149.8h0.7v0.7h-0.7zM166.8 150.4h0.7v0.7h-0.7zM158.0 153.3h0.7v0.7h-0.7zM164.3 157.0h0.7v0.7h-0.7zM166.4 151.3h0.7v0.7h-0.7zM161.2 159.0h0.7v0.7h-0.7zM161.8 153.6h0.7v0.7h-0.7zM162.6 156.7h0.7v0.7h-0.7zM163.3 151.6h0.7v0.7h-0.7zM162.7 150.5h0.7v0.7h-0.7zM158.3 155.1h0.7v0.7h-0.7zM151.8 162.1h0.7v0.7h-0.7zM160.6 150.1h0.7v0.7h-0.7zM164.0 153.0h0.7v0.7h-0.7zM164.7 148.5h0.7v0.7h-0.7zM159.7 153.0h0.7v0.7h-0.7zM164.5 158.3h0.7v0.7h-0.7zM162.1 153.4h0.7v0.7h-0.7zM161.7 155.8h0.7v0.7h-0.7zM175.4 149.5h0.7v0.7h-0.7zM167.6 150.6h0.7v0.7h-0.7zM169.6 152.3h0.7v0.7h-0.7zM164.0 148.0h0.7v0.7h-0.7zM163.0 151.7h0.7v0.7h-0.7zM165.0 152.0h0.7v0.7h-0.7zM159.7 154.6h0.7v0.7h-0.7zM163.9 151.4h0.7v0.7h-0.7zM162.9 153.2h0.7v0.7h-0.7zM167.4 150.3h0.7v0.7h-0.7zM162.0 148.7h0.7v0.7h-0.7zM150.0 156.0h0.7v0.7h-0.7zM164.7 151.9h0.7v0.7h-0.7zM162.2 151.5h0.7v0.7h-0.7zM162.1 155.7h0.7v0.7h-0.7zM164.5 152.1h0.7v0.7h-0.7zM161.1 154.6h0.7v0.7h-0.7zM168.1 150.2h0.7v0.7h-0.7zM160.1 151.4h0.7v0.7h-0.7zM162.4 150.9h0.7v0.7h-0.7zM157.7 158.1h0.7v0.7h-0.7zM158.0 150.2h0.7v0.7h-0.7zM161.9 158.5h0.7v0.7h-0.7zM161.1 150.5h0.7v0.7h-0.7zM159.0 157.0h0.7v0.7h-0.7zM165.0 152.5h0.7v0.7h-0.7zM162.7 154.5h0.7v0.7h-0.7zM170.2 150.5h0.7v0.7h-0.7zM160.7 150.5h0.7v0.7h-0.7zM166.7 155.2h0.7v0.7h-0.7zM164.4 148.9h0.7v0.7h-0.7zM165.2 155.3h0.7v0.7h-0.7zM160.8 155.5h0.7v0.7h-0.7zM170.1 153.6h0.7v0.7h-0.7zM154.2 153.0h0.7v0.7h-0.7zM165.4 153.6h0.7v0.7h-0.7zM161.4 153.8h0.7v0.7h-0.7zM162.6 156.4h0.7v0.7h-0.7zM153.7 158.6h0.7v0.7h-0.7zM156.7 154.5h0.7v0.7h-0.7zM155.3 154.6h0.7v0.7h-0.7zM162.9 153.1h0.7v0.7h-0.7zM170.5 148.4h0.7v0.7h-0.7zM164.9 152.9h0.7v0.7h-0.7zM165.7 155.5h0.7v0.7h-0.7zM163.8 153.0h0.7v0.7h-0.7zM162.5 153.3h0.7v0.7h-0.7zM163.9 155.2h0.7v0.7h-0.7zM163.2 153.1h0.7v0.7h-0.7zM163.6 154.7h0.7v0.7h-0.7zM162.0 156.1h0.7v0.7h-0.7zM161.3 155.8h0.7v0.7h-0.7zM171.6 149.0h0.7v0.7h-0.7zM161.3 150.7h0.7v0.7h-0.7zM166.2 151.3h0.7v0.7h-0.7zM166.2 149.5h0.7v0.7h-0.7zM167.3 155.6h0.7v0.7h-0.7zM164.4 151.4h0.7v0.7h-0.7zM157.3 156.0h0.7v0.7h-0.7zM166.5 152.7h0.7v0.7h-0.7zM157.0 153.4h0.7v0.7h-0.7zM157.6 153.1h0.7v0.7h-0.7zM162.1 154.2h0.7v0.7h-0.7zM171.6 149.0h0.7v0.7h-0.7zM170.6 151.1h0.7v0.7h-0.7z" fill="#000" opacity="0.4"/>
<path d="M151.4 175.0h0.7v0.7h-0.7zM155.1 160.3h0.7v0.7h-0.7zM144.2 178.5h0.7v0.7h-0.7zM149.4 177.7h0.7v0.7h-0.7zM150.7 166.0h0.7v0.7h-0.7zM149.7 171.7h0.7v0.7h-0.7zM152.2 166.5h0.7v0.7h-0.7zM151.9 173.9h0.7v0.7h-0.7zM149.5 163.0h0.7v0.7h-0.7zM145.6 167.2h0.7v0.7h-0.7zM151.7 166.0h0.7v0.7h-0.7zM149.4 168.9h0.7v0.7h-0.7zM150.5 173.3h0.7v0.7h-0.7zM153.0 173.0h0.7v0.7h-0.7zM155.3 164.9h0.7v0.7h-0.7zM152.4 172.5h0.7v0.7h-0.7zM148.7 165.5h0.7v0.7h-0.7zM152.2 170.7h0.7v0.7h-0.7zM147.9 166.1h0.7v0.7h-0.7zM154.6 175.7h0.7v0.7h-0.7zM149.9 177.9h0.7v0.7h-0.7zM148.5 168.5h0.7v0.7h-0.7zM154.1 168.5h0.7v0.7h-0.7zM147.1 172.8h0.7v0.7h-0.7zM158.3 156.0h0.7v0.7h-0.7zM152.7 162.8h0.7v0.7h-0.7zM151.6 161.6h0.7v0.7h-0.7zM159.3 167.4h0.7v0.7h-0.7zM151.9 165.9h0.7v0.7h-0.7zM148.6 166.8h0.7v0.7h-0.7zM150.2 179.3h0.7v0.7h-0.7zM147.8 169.9h0.7v0.7h-0.7zM151.3 160.6h0.7v0.7h-0.7zM162.1 170.5h0.7v0.7h-0.7zM152.5 165.7h0.7v0.7h-0.7zM150.4 163.7h0.7v0.7h-0.7zM154.4 168.2h0.7v0.7h-0.7zM150.4 171.0h0.7v0.7h-0.7zM147.2 170.7h0.7v0.7h-0.7zM150.0 172.5h0.7v0.7h-0.7zM149.8 170.0h0.7v0.7h-0.7zM151.5 175.9h0.7v0.7h-0.7zM148.0 175.3h0.7v0.7h-0.7zM148.3 168.4h0.7v0.7h-0.7zM151.2 170.9h0.7v0.7h-0.7zM144.7 163.0h0.7v0.7h-0.7zM149.5 175.3h0.7v0.7h-0.7zM147.4 178.5h0.7v0.7h-0.7zM145.7 169.5h0.7v0.7h-0.7zM152.6 170.4h0.7v0.7h-0.7zM150.8 175.6h0.7v0.7h-0.7zM148.0 173.0h0.7v0.7h-0.7zM154.3 169.2h0.7v0.7h-0.7zM145.5 161.9h0.7v0.7h-0.7zM149.6 163.4h0.7v0.7h-0.7zM153.1 165.5h0.7v0.7h-0.7zM157.7 174.6h0.7v0.7h-0.7zM147.5 167.7h0.7v0.7h-0.7zM154.8 174.8h0.7v0.7h-0.7zM147.0 175.5h0.7v0.7h-0.7zM148.8 173.2h0.7v0.7h-0.7zM153.1 167.7h0.7v0.7h-0.7zM149.4 176.7h0.7v0.7h-0.7zM152.5 169.9h0.7v0.7h-0.7zM153.2 173.3h0.7v0.7h-0.7zM153.6 161.0h0.7v0.7h-0.7zM151.9 167.2h0.7v0.7h-0.7zM153.8 166.8h0.7v0.7h-0.7zM153.4 164.1h0.7v0.7h-0.7zM154.4 166.2h0.7v0.7h-0.7zM150.3 173.4h0.7v0.7h-0.7zM150.0 169.9h0.7v0.7h-0.7zM146.7 163.8h0.7v0.7h-0.7zM152.0 175.8h0.7v0.7h-0.7zM149.5 170.3h0.7v0.7h-0.7z" fill="#000" opacity="0.12"/>
<ellipse cx="203.5" cy="152.8" rx="5.5" ry="2.5" fill="#000" opacity="0.97" transform="rotate(-8 203.5 152.8)" filter="url(#bl6)"/>
<ellipse cx="192.0" cy="152.6" rx="6" ry="1.4" fill="#000" opacity="0.75" transform="rotate(0 192.0 152.6)" filter="url(#bl6)"/>
<path d="M194.5 155.9h0.7v0.7h-0.7zM194.4 151.2h0.7v0.7h-0.7zM206.3 152.3h0.7v0.7h-0.7zM211.4 153.7h0.7v0.7h-0.7zM199.0 153.7h0.7v0.7h-0.7zM202.2 154.1h0.7v0.7h-0.7zM188.3 152.0h0.7v0.7h-0.7zM191.7 152.9h0.7v0.7h-0.7zM194.0 151.1h0.7v0.7h-0.7zM190.5 155.3h0.7v0.7h-0.7zM212.8 151.6h0.7v0.7h-0.7zM199.0 152.7h0.7v0.7h-0.7zM189.3 153.8h0.7v0.7h-0.7zM195.5 155.1h0.7v0.7h-0.7zM199.6 152.4h0.7v0.7h-0.7zM202.7 151.8h0.7v0.7h-0.7zM203.0 153.7h0.7v0.7h-0.7zM198.5 153.8h0.7v0.7h-0.7zM197.2 152.8h0.7v0.7h-0.7zM193.3 152.4h0.7v0.7h-0.7zM196.0 151.3h0.7v0.7h-0.7zM201.1 152.4h0.7v0.7h-0.7zM200.1 152.1h0.7v0.7h-0.7zM199.2 153.0h0.7v0.7h-0.7zM203.0 153.4h0.7v0.7h-0.7zM203.4 152.6h0.7v0.7h-0.7zM195.6 152.4h0.7v0.7h-0.7zM186.1 152.6h0.7v0.7h-0.7zM204.6 153.9h0.7v0.7h-0.7zM189.3 153.2h0.7v0.7h-0.7zM201.9 150.9h0.7v0.7h-0.7zM198.8 153.3h0.7v0.7h-0.7zM201.9 153.2h0.7v0.7h-0.7zM211.7 152.3h0.7v0.7h-0.7zM206.1 154.5h0.7v0.7h-0.7zM196.7 151.2h0.7v0.7h-0.7zM206.8 152.7h0.7v0.7h-0.7zM200.1 153.5h0.7v0.7h-0.7zM203.5 154.2h0.7v0.7h-0.7zM197.1 152.8h0.7v0.7h-0.7zM202.1 152.6h0.7v0.7h-0.7zM194.6 155.6h0.7v0.7h-0.7zM206.9 154.4h0.7v0.7h-0.7zM204.2 151.7h0.7v0.7h-0.7zM195.3 152.7h0.7v0.7h-0.7zM187.4 151.6h0.7v0.7h-0.7zM197.3 151.1h0.7v0.7h-0.7zM200.3 153.5h0.7v0.7h-0.7zM194.1 152.3h0.7v0.7h-0.7zM200.8 153.5h0.7v0.7h-0.7zM198.9 151.1h0.7v0.7h-0.7zM190.8 152.3h0.7v0.7h-0.7zM190.2 153.9h0.7v0.7h-0.7zM192.7 152.1h0.7v0.7h-0.7zM189.9 152.2h0.7v0.7h-0.7zM205.4 153.0h0.7v0.7h-0.7zM191.8 154.5h0.7v0.7h-0.7zM199.9 151.4h0.7v0.7h-0.7zM191.5 152.0h0.7v0.7h-0.7zM195.6 154.5h0.7v0.7h-0.7zM190.4 152.6h0.7v0.7h-0.7zM196.9 151.2h0.7v0.7h-0.7zM192.2 153.6h0.7v0.7h-0.7zM204.9 150.2h0.7v0.7h-0.7zM201.6 152.4h0.7v0.7h-0.7zM206.2 153.7h0.7v0.7h-0.7zM211.6 153.2h0.7v0.7h-0.7zM192.9 151.7h0.7v0.7h-0.7zM200.1 153.9h0.7v0.7h-0.7zM198.8 150.7h0.7v0.7h-0.7zM192.8 152.5h0.7v0.7h-0.7zM197.3 153.9h0.7v0.7h-0.7zM207.2 153.2h0.7v0.7h-0.7zM186.5 153.1h0.7v0.7h-0.7zM194.3 154.3h0.7v0.7h-0.7zM204.5 152.2h0.7v0.7h-0.7zM203.5 152.8h0.7v0.7h-0.7zM199.6 154.7h0.7v0.7h-0.7zM186.9 152.7h0.7v0.7h-0.7zM208.2 151.8h0.7v0.7h-0.7zM197.7 153.0h0.7v0.7h-0.7zM192.7 151.0h0.7v0.7h-0.7zM190.6 151.5h0.7v0.7h-0.7zM204.5 153.1h0.7v0.7h-0.7zM201.6 151.2h0.7v0.7h-0.7zM200.0 153.0h0.7v0.7h-0.7zM204.3 151.8h0.7v0.7h-0.7zM202.4 154.7h0.7v0.7h-0.7zM210.3 151.5h0.7v0.7h-0.7zM187.1 150.8h0.7v0.7h-0.7zM203.6 153.6h0.7v0.7h-0.7zM198.7 151.6h0.7v0.7h-0.7zM205.9 155.0h0.7v0.7h-0.7zM195.7 152.6h0.7v0.7h-0.7zM205.4 153.5h0.7v0.7h-0.7zM206.6 152.2h0.7v0.7h-0.7zM198.7 152.3h0.7v0.7h-0.7zM191.5 152.4h0.7v0.7h-0.7zM193.8 153.5h0.7v0.7h-0.7zM193.6 152.9h0.7v0.7h-0.7zM189.6 151.1h0.7v0.7h-0.7zM207.3 151.5h0.7v0.7h-0.7zM210.3 154.1h0.7v0.7h-0.7zM192.7 152.8h0.7v0.7h-0.7zM194.6 152.0h0.7v0.7h-0.7zM205.9 152.6h0.7v0.7h-0.7zM203.6 151.9h0.7v0.7h-0.7zM190.6 154.6h0.7v0.7h-0.7zM193.8 151.3h0.7v0.7h-0.7zM194.7 154.2h0.7v0.7h-0.7zM194.7 151.8h0.7v0.7h-0.7zM201.0 154.1h0.7v0.7h-0.7zM194.4 152.4h0.7v0.7h-0.7zM193.1 156.5h0.7v0.7h-0.7zM194.5 155.2h0.7v0.7h-0.7zM194.8 153.4h0.7v0.7h-0.7zM196.4 152.4h0.7v0.7h-0.7zM192.8 150.9h0.7v0.7h-0.7zM191.0 152.7h0.7v0.7h-0.7zM194.6 152.1h0.7v0.7h-0.7zM190.3 155.3h0.7v0.7h-0.7zM187.3 152.1h0.7v0.7h-0.7zM193.7 151.2h0.7v0.7h-0.7zM188.4 154.0h0.7v0.7h-0.7zM203.4 153.0h0.7v0.7h-0.7zM205.8 151.7h0.7v0.7h-0.7zM204.6 155.1h0.7v0.7h-0.7zM193.0 155.3h0.7v0.7h-0.7zM189.7 151.2h0.7v0.7h-0.7zM195.7 151.7h0.7v0.7h-0.7zM201.1 151.3h0.7v0.7h-0.7zM196.7 150.1h0.7v0.7h-0.7zM195.8 154.2h0.7v0.7h-0.7zM193.9 153.2h0.7v0.7h-0.7zM204.6 151.3h0.7v0.7h-0.7zM186.0 152.9h0.7v0.7h-0.7zM198.2 152.4h0.7v0.7h-0.7zM188.4 154.5h0.7v0.7h-0.7zM186.8 152.4h0.7v0.7h-0.7zM195.7 153.8h0.7v0.7h-0.7zM192.5 151.7h0.7v0.7h-0.7zM211.9 151.6h0.7v0.7h-0.7zM202.3 152.6h0.7v0.7h-0.7zM192.3 152.7h0.7v0.7h-0.7zM194.0 153.2h0.7v0.7h-0.7zM196.6 151.5h0.7v0.7h-0.7zM193.0 156.0h0.7v0.7h-0.7zM210.6 153.7h0.7v0.7h-0.7zM197.9 152.4h0.7v0.7h-0.7zM207.0 152.2h0.7v0.7h-0.7zM189.5 153.7h0.7v0.7h-0.7zM188.4 151.7h0.7v0.7h-0.7zM207.5 150.6h0.7v0.7h-0.7zM195.5 153.0h0.7v0.7h-0.7zM198.1 150.8h0.7v0.7h-0.7zM194.2 152.3h0.7v0.7h-0.7zM211.2 154.2h0.7v0.7h-0.7zM190.1 154.0h0.7v0.7h-0.7zM201.2 152.6h0.7v0.7h-0.7zM194.1 152.4h0.7v0.7h-0.7zM203.4 154.8h0.7v0.7h-0.7zM210.7 152.3h0.7v0.7h-0.7zM200.9 149.5h0.7v0.7h-0.7zM193.9 151.1h0.7v0.7h-0.7zM202.5 150.5h0.7v0.7h-0.7zM187.8 151.3h0.7v0.7h-0.7zM199.2 153.9h0.7v0.7h-0.7zM188.8 155.3h0.7v0.7h-0.7zM197.3 151.7h0.7v0.7h-0.7zM198.8 152.8h0.7v0.7h-0.7zM202.6 153.3h0.7v0.7h-0.7zM213.3 154.4h0.7v0.7h-0.7zM191.0 153.9h0.7v0.7h-0.7zM202.0 151.4h0.7v0.7h-0.7zM190.1 151.7h0.7v0.7h-0.7zM194.3 154.5h0.7v0.7h-0.7zM191.6 152.9h0.7v0.7h-0.7zM201.8 154.1h0.7v0.7h-0.7zM198.6 151.4h0.7v0.7h-0.7zM213.4 154.0h0.7v0.7h-0.7zM206.8 155.0h0.7v0.7h-0.7z" fill="#000" opacity="0.35"/>
<path d="M196.6 171.5h0.7v0.7h-0.7zM193.6 172.5h0.7v0.7h-0.7zM187.7 172.7h0.7v0.7h-0.7zM189.7 170.3h0.7v0.7h-0.7zM189.2 172.3h0.7v0.7h-0.7zM193.0 171.5h0.7v0.7h-0.7zM190.7 165.6h0.7v0.7h-0.7zM193.2 166.0h0.7v0.7h-0.7zM192.8 161.9h0.7v0.7h-0.7zM195.7 165.8h0.7v0.7h-0.7zM190.2 170.0h0.7v0.7h-0.7zM190.9 166.4h0.7v0.7h-0.7zM192.6 161.5h0.7v0.7h-0.7zM193.3 162.4h0.7v0.7h-0.7zM189.0 169.7h0.7v0.7h-0.7zM193.9 158.0h0.7v0.7h-0.7zM191.6 169.1h0.7v0.7h-0.7zM193.8 170.7h0.7v0.7h-0.7zM193.1 172.1h0.7v0.7h-0.7zM192.5 162.4h0.7v0.7h-0.7zM195.3 165.6h0.7v0.7h-0.7zM192.3 172.4h0.7v0.7h-0.7zM194.3 176.7h0.7v0.7h-0.7zM191.5 165.2h0.7v0.7h-0.7zM196.3 158.7h0.7v0.7h-0.7zM188.6 171.4h0.7v0.7h-0.7zM192.3 161.5h0.7v0.7h-0.7zM194.7 172.0h0.7v0.7h-0.7zM196.1 166.3h0.7v0.7h-0.7zM192.6 165.6h0.7v0.7h-0.7zM196.3 154.5h0.7v0.7h-0.7zM190.2 172.4h0.7v0.7h-0.7zM190.8 167.2h0.7v0.7h-0.7zM192.8 171.6h0.7v0.7h-0.7zM193.0 160.2h0.7v0.7h-0.7zM201.1 164.5h0.7v0.7h-0.7zM200.1 157.1h0.7v0.7h-0.7zM193.6 166.8h0.7v0.7h-0.7zM197.1 161.7h0.7v0.7h-0.7zM191.6 162.6h0.7v0.7h-0.7zM191.2 169.5h0.7v0.7h-0.7zM191.0 166.0h0.7v0.7h-0.7zM195.6 178.4h0.7v0.7h-0.7zM188.7 160.7h0.7v0.7h-0.7zM190.4 176.5h0.7v0.7h-0.7zM192.4 177.8h0.7v0.7h-0.7zM190.9 165.5h0.7v0.7h-0.7zM195.3 172.4h0.7v0.7h-0.7zM187.9 165.2h0.7v0.7h-0.7zM192.8 172.3h0.7v0.7h-0.7zM189.1 179.3h0.7v0.7h-0.7zM191.8 177.8h0.7v0.7h-0.7zM194.1 168.8h0.7v0.7h-0.7zM193.5 160.0h0.7v0.7h-0.7zM194.6 173.5h0.7v0.7h-0.7zM196.2 166.0h0.7v0.7h-0.7zM190.6 165.0h0.7v0.7h-0.7zM192.1 167.8h0.7v0.7h-0.7zM197.0 162.4h0.7v0.7h-0.7zM190.8 172.4h0.7v0.7h-0.7zM195.6 162.6h0.7v0.7h-0.7zM190.9 162.2h0.7v0.7h-0.7zM192.9 169.7h0.7v0.7h-0.7zM193.6 163.9h0.7v0.7h-0.7zM192.6 167.4h0.7v0.7h-0.7zM194.7 168.9h0.7v0.7h-0.7zM192.1 159.8h0.7v0.7h-0.7zM197.4 168.2h0.7v0.7h-0.7zM192.6 167.8h0.7v0.7h-0.7zM196.7 166.5h0.7v0.7h-0.7zM193.8 166.5h0.7v0.7h-0.7zM195.9 161.6h0.7v0.7h-0.7zM192.4 175.0h0.7v0.7h-0.7zM195.7 172.7h0.7v0.7h-0.7zM192.0 178.7h0.7v0.7h-0.7zM193.4 177.7h0.7v0.7h-0.7zM190.8 160.1h0.7v0.7h-0.7zM195.7 166.6h0.7v0.7h-0.7zM192.9 161.5h0.7v0.7h-0.7zM198.7 160.8h0.7v0.7h-0.7zM195.0 158.8h0.7v0.7h-0.7zM200.7 166.0h0.7v0.7h-0.7zM188.2 178.4h0.7v0.7h-0.7zM192.7 155.7h0.7v0.7h-0.7zM195.3 161.0h0.7v0.7h-0.7zM187.5 174.8h0.7v0.7h-0.7zM192.2 160.5h0.7v0.7h-0.7zM193.7 166.8h0.7v0.7h-0.7zM196.2 169.2h0.7v0.7h-0.7zM196.3 176.4h0.7v0.7h-0.7zM196.9 176.4h0.7v0.7h-0.7zM192.6 171.7h0.7v0.7h-0.7zM194.9 157.6h0.7v0.7h-0.7zM188.8 172.4h0.7v0.7h-0.7zM187.2 161.3h0.7v0.7h-0.7z" fill="#000" opacity="0.12"/>
<ellipse cx="249.2" cy="160.3" rx="6.0" ry="3.9" fill="#000" opacity="0.97" transform="rotate(-38 249.2 160.3)" filter="url(#bl7)"/>
<path d="M244.0 164.0h0.7v0.7h-0.7zM245.5 164.0h0.7v0.7h-0.7zM247.4 159.7h0.7v0.7h-0.7zM241.6 157.4h0.7v0.7h-0.7zM246.9 156.9h0.7v0.7h-0.7zM248.6 162.1h0.7v0.7h-0.7zM254.4 158.8h0.7v0.7h-0.7zM252.1 152.3h0.7v0.7h-0.7zM254.7 162.0h0.7v0.7h-0.7zM248.5 156.4h0.7v0.7h-0.7zM249.6 157.8h0.7v0.7h-0.7zM248.6 164.8h0.7v0.7h-0.7zM246.2 158.1h0.7v0.7h-0.7zM250.2 167.1h0.7v0.7h-0.7zM247.1 164.5h0.7v0.7h-0.7zM252.0 162.6h0.7v0.7h-0.7zM246.2 158.8h0.7v0.7h-0.7zM244.6 159.7h0.7v0.7h-0.7zM259.4 152.9h0.7v0.7h-0.7zM250.2 164.3h0.7v0.7h-0.7zM251.2 157.8h0.7v0.7h-0.7zM252.0 159.0h0.7v0.7h-0.7zM256.6 160.9h0.7v0.7h-0.7zM247.8 161.1h0.7v0.7h-0.7zM250.7 163.8h0.7v0.7h-0.7zM252.0 161.0h0.7v0.7h-0.7zM251.3 156.0h0.7v0.7h-0.7zM252.2 163.2h0.7v0.7h-0.7zM254.2 159.5h0.7v0.7h-0.7zM247.3 160.2h0.7v0.7h-0.7zM245.3 162.2h0.7v0.7h-0.7zM246.1 157.0h0.7v0.7h-0.7zM252.1 154.9h0.7v0.7h-0.7zM251.2 161.0h0.7v0.7h-0.7zM243.5 157.5h0.7v0.7h-0.7zM253.6 158.3h0.7v0.7h-0.7zM250.3 163.8h0.7v0.7h-0.7zM250.7 155.2h0.7v0.7h-0.7zM245.4 156.2h0.7v0.7h-0.7zM250.7 164.5h0.7v0.7h-0.7zM247.4 164.8h0.7v0.7h-0.7zM242.7 164.1h0.7v0.7h-0.7zM256.0 161.6h0.7v0.7h-0.7zM252.3 160.7h0.7v0.7h-0.7zM251.0 149.1h0.7v0.7h-0.7zM246.1 170.0h0.7v0.7h-0.7zM259.7 154.3h0.7v0.7h-0.7zM249.8 160.7h0.7v0.7h-0.7zM248.0 158.7h0.7v0.7h-0.7zM248.8 160.0h0.7v0.7h-0.7zM252.9 159.9h0.7v0.7h-0.7zM254.0 158.7h0.7v0.7h-0.7zM248.0 166.6h0.7v0.7h-0.7zM239.0 168.6h0.7v0.7h-0.7zM249.3 158.0h0.7v0.7h-0.7zM254.2 152.0h0.7v0.7h-0.7zM243.6 162.5h0.7v0.7h-0.7zM252.2 160.9h0.7v0.7h-0.7zM250.8 161.6h0.7v0.7h-0.7zM245.2 160.9h0.7v0.7h-0.7zM247.0 156.6h0.7v0.7h-0.7zM249.0 158.7h0.7v0.7h-0.7zM249.8 155.7h0.7v0.7h-0.7zM246.0 160.5h0.7v0.7h-0.7zM245.8 158.9h0.7v0.7h-0.7zM245.5 157.7h0.7v0.7h-0.7zM252.4 160.3h0.7v0.7h-0.7zM248.7 159.8h0.7v0.7h-0.7zM243.8 160.6h0.7v0.7h-0.7zM246.5 158.7h0.7v0.7h-0.7zM244.9 164.2h0.7v0.7h-0.7zM248.2 159.3h0.7v0.7h-0.7zM245.9 162.6h0.7v0.7h-0.7zM245.6 161.3h0.7v0.7h-0.7zM251.2 161.5h0.7v0.7h-0.7zM250.8 156.5h0.7v0.7h-0.7zM251.5 153.8h0.7v0.7h-0.7zM250.9 163.9h0.7v0.7h-0.7zM258.4 153.5h0.7v0.7h-0.7zM247.0 160.4h0.7v0.7h-0.7zM244.2 163.5h0.7v0.7h-0.7zM246.0 159.7h0.7v0.7h-0.7zM252.2 154.8h0.7v0.7h-0.7zM257.1 157.2h0.7v0.7h-0.7zM250.4 156.9h0.7v0.7h-0.7zM243.3 156.9h0.7v0.7h-0.7zM249.6 158.8h0.7v0.7h-0.7zM249.3 157.5h0.7v0.7h-0.7zM248.1 155.2h0.7v0.7h-0.7zM241.6 167.9h0.7v0.7h-0.7zM247.2 149.4h0.7v0.7h-0.7zM253.3 155.6h0.7v0.7h-0.7zM245.5 157.0h0.7v0.7h-0.7zM246.6 165.0h0.7v0.7h-0.7zM246.2 162.4h0.7v0.7h-0.7zM252.3 165.6h0.7v0.7h-0.7zM250.0 154.4h0.7v0.7h-0.7zM245.0 158.9h0.7v0.7h-0.7zM242.5 162.7h0.7v0.7h-0.7zM253.4 157.1h0.7v0.7h-0.7zM251.4 157.9h0.7v0.7h-0.7zM247.6 161.7h0.7v0.7h-0.7zM252.4 165.2h0.7v0.7h-0.7zM256.6 155.8h0.7v0.7h-0.7zM247.6 153.6h0.7v0.7h-0.7zM253.1 166.5h0.7v0.7h-0.7zM247.6 164.6h0.7v0.7h-0.7zM253.0 155.7h0.7v0.7h-0.7zM247.3 159.8h0.7v0.7h-0.7zM252.1 157.9h0.7v0.7h-0.7zM257.0 158.7h0.7v0.7h-0.7zM254.0 166.6h0.7v0.7h-0.7zM246.7 159.7h0.7v0.7h-0.7zM246.5 158.8h0.7v0.7h-0.7zM247.3 161.3h0.7v0.7h-0.7zM249.4 153.8h0.7v0.7h-0.7zM242.3 162.5h0.7v0.7h-0.7zM248.8 162.3h0.7v0.7h-0.7zM248.9 166.3h0.7v0.7h-0.7zM246.6 161.3h0.7v0.7h-0.7z" fill="#000" opacity="0.35"/>
<path d="M244.7 163.8h0.7v0.7h-0.7zM245.3 161.6h0.7v0.7h-0.7zM243.2 161.8h0.7v0.7h-0.7zM245.5 160.8h0.7v0.7h-0.7zM244.5 157.9h0.7v0.7h-0.7zM243.3 163.8h0.7v0.7h-0.7zM248.0 161.4h0.7v0.7h-0.7zM239.3 165.1h0.7v0.7h-0.7zM244.1 166.5h0.7v0.7h-0.7zM243.5 163.4h0.7v0.7h-0.7zM243.0 164.2h0.7v0.7h-0.7zM247.3 159.4h0.7v0.7h-0.7zM247.7 167.0h0.7v0.7h-0.7zM244.0 159.2h0.7v0.7h-0.7zM245.2 160.7h0.7v0.7h-0.7zM240.9 159.5h0.7v0.7h-0.7zM245.1 158.6h0.7v0.7h-0.7zM247.1 162.4h0.7v0.7h-0.7zM244.1 164.2h0.7v0.7h-0.7zM242.3 162.8h0.7v0.7h-0.7zM241.3 160.9h0.7v0.7h-0.7zM246.1 160.5h0.7v0.7h-0.7zM244.3 162.8h0.7v0.7h-0.7zM248.2 164.0h0.7v0.7h-0.7zM245.6 161.0h0.7v0.7h-0.7zM241.0 164.8h0.7v0.7h-0.7zM249.0 157.3h0.7v0.7h-0.7zM246.6 161.4h0.7v0.7h-0.7zM246.2 162.1h0.7v0.7h-0.7zM244.1 161.5h0.7v0.7h-0.7zM244.4 163.8h0.7v0.7h-0.7zM243.9 160.4h0.7v0.7h-0.7zM246.1 162.8h0.7v0.7h-0.7zM245.6 162.1h0.7v0.7h-0.7zM248.1 163.7h0.7v0.7h-0.7zM245.0 161.1h0.7v0.7h-0.7zM246.1 157.9h0.7v0.7h-0.7zM243.3 160.1h0.7v0.7h-0.7zM244.9 160.8h0.7v0.7h-0.7zM250.5 162.9h0.7v0.7h-0.7zM245.5 165.9h0.7v0.7h-0.7zM244.5 160.9h0.7v0.7h-0.7zM247.5 163.1h0.7v0.7h-0.7zM246.8 163.9h0.7v0.7h-0.7zM243.7 160.2h0.7v0.7h-0.7zM242.8 161.7h0.7v0.7h-0.7zM246.9 159.5h0.7v0.7h-0.7zM243.2 158.9h0.7v0.7h-0.7zM249.3 163.1h0.7v0.7h-0.7zM245.1 159.1h0.7v0.7h-0.7z" fill="#000" opacity="0.2"/>
<text x="164.6" y="59.4" font-size="6.2" font-family="Liberation Serif" font-weight="bold" fill="#000" text-anchor="middle" textLength="25.5" lengthAdjust="spacingAndGlyphs">Wild Type</text>
<text x="207.3" y="59.4" font-size="6.2" font-family="Liberation Serif" font-weight="bold" fill="#000" text-anchor="middle">Gata1<tspan font-size="3.8" dy="-2">low</tspan></text>
<text x="250.0" y="59.4" font-size="6.2" font-family="Liberation Serif" font-weight="bold" fill="#000" text-anchor="middle">W/W<tspan font-size="3.8" dy="-2">v</tspan></text>
<line x1="137.20" y1="61.50" x2="137.20" y2="181.50" stroke="#999" stroke-width="1.0"/>
<line x1="143.20" y1="186.30" x2="269.50" y2="186.30" stroke="#999" stroke-width="1.0"/>
<text x="134.4" y="121.2" font-size="7.0" font-family="Liberation Serif" font-weight="bold" fill="#000" text-anchor="middle" textLength="26.8" lengthAdjust="spacingAndGlyphs" transform="rotate(-90 134.4 121.2)">PE-c-Kit</text>
<text x="207.4" y="195.0" font-size="6.5" font-family="Liberation Serif" font-weight="bold" fill="#000" text-anchor="middle" textLength="35.6" lengthAdjust="spacingAndGlyphs">FITC-Fc&#949;RI</text>
<text x="277.9" y="77.6" font-size="6.0" font-family="Liberation Serif" font-weight="bold" fill="#000" text-anchor="middle" textLength="13.6" lengthAdjust="spacingAndGlyphs" transform="rotate(-90 277.9 77.6)">DAY 7</text>
<text x="277.9" y="120.9" font-size="6.0" font-family="Liberation Serif" font-weight="bold" fill="#000" text-anchor="middle" textLength="15.5" lengthAdjust="spacingAndGlyphs" transform="rotate(-90 277.9 120.9)">DAY 21</text>
<text x="277.9" y="163.8" font-size="6.0" font-family="Liberation Serif" font-weight="bold" fill="#000" text-anchor="middle" textLength="16.5" lengthAdjust="spacingAndGlyphs" transform="rotate(-90 277.9 163.8)">DAY 26</text>
<line x1="138.40" y1="227.58" x2="138.40" y2="296.00" stroke="#444" stroke-width="0.7"/>
<line x1="138.40" y1="296.00" x2="215.40" y2="296.00" stroke="#333" stroke-width="0.9"/>
<line x1="137.40" y1="296.00" x2="138.40" y2="296.00" stroke="#555" stroke-width="0.4"/>
<text x="137.0" y="297.4" font-size="3.9" font-family="Liberation Serif" font-weight="bold" fill="#1a1a1a" text-anchor="end">0</text>
<line x1="137.40" y1="289.78" x2="138.40" y2="289.78" stroke="#555" stroke-width="0.4"/>
<text x="137.0" y="291.2" font-size="3.9" font-family="Liberation Serif" font-weight="bold" fill="#1a1a1a" text-anchor="end">10</text>
<line x1="137.40" y1="283.56" x2="138.40" y2="283.56" stroke="#555" stroke-width="0.4"/>
<text x="137.0" y="285.0" font-size="3.9" font-family="Liberation Serif" font-weight="bold" fill="#1a1a1a" text-anchor="end">20</text>
<line x1="137.40" y1="277.34" x2="138.40" y2="277.34" stroke="#555" stroke-width="0.4"/>
<text x="137.0" y="278.7" font-size="3.9" font-family="Liberation Serif" font-weight="bold" fill="#1a1a1a" text-anchor="end">30</text>
<line x1="137.40" y1="271.12" x2="138.40" y2="271.12" stroke="#555" stroke-width="0.4"/>
<text x="137.0" y="272.5" font-size="3.9" font-family="Liberation Serif" font-weight="bold" fill="#1a1a1a" text-anchor="end">40</text>
<line x1="137.40" y1="264.90" x2="138.40" y2="264.90" stroke="#555" stroke-width="0.4"/>
<text x="137.0" y="266.3" font-size="3.9" font-family="Liberation Serif" font-weight="bold" fill="#1a1a1a" text-anchor="end">50</text>
<line x1="137.40" y1="258.68" x2="138.40" y2="258.68" stroke="#555" stroke-width="0.4"/>
<text x="137.0" y="260.1" font-size="3.9" font-family="Liberation Serif" font-weight="bold" fill="#1a1a1a" text-anchor="end">60</text>
<line x1="137.40" y1="252.46" x2="138.40" y2="252.46" stroke="#555" stroke-width="0.4"/>
<text x="137.0" y="253.9" font-size="3.9" font-family="Liberation Serif" font-weight="bold" fill="#1a1a1a" text-anchor="end">70</text>
<line x1="137.40" y1="246.24" x2="138.40" y2="246.24" stroke="#555" stroke-width="0.4"/>
<text x="137.0" y="247.6" font-size="3.9" font-family="Liberation Serif" font-weight="bold" fill="#1a1a1a" text-anchor="end">80</text>
<line x1="137.40" y1="240.02" x2="138.40" y2="240.02" stroke="#555" stroke-width="0.4"/>
<text x="137.0" y="241.4" font-size="3.9" font-family="Liberation Serif" font-weight="bold" fill="#1a1a1a" text-anchor="end">90</text>
<line x1="137.40" y1="233.80" x2="138.40" y2="233.80" stroke="#555" stroke-width="0.4"/>
<text x="137.0" y="235.2" font-size="3.9" font-family="Liberation Serif" font-weight="bold" fill="#1a1a1a" text-anchor="end">100</text>
<line x1="137.40" y1="227.58" x2="138.40" y2="227.58" stroke="#555" stroke-width="0.4"/>
<text x="137.0" y="229.0" font-size="3.9" font-family="Liberation Serif" font-weight="bold" fill="#1a1a1a" text-anchor="end">110</text>
<rect x="145.50" y="286.05" width="4.20" height="9.95" fill="#e6e6e6" stroke="#b0b0b0" stroke-width="0.4" />
<line x1="147.60" y1="286.05" x2="147.60" y2="284.80" stroke="#999" stroke-width="0.4"/>
<line x1="146.80" y1="284.80" x2="148.40" y2="284.80" stroke="#999" stroke-width="0.4"/>
<rect x="150.10" y="276.10" width="4.20" height="19.90" fill="#a8a8a8" stroke="#7c7c7c" stroke-width="0.4" />
<line x1="152.20" y1="276.10" x2="152.20" y2="272.36" stroke="#999" stroke-width="0.4"/>
<line x1="151.40" y1="272.36" x2="153.00" y2="272.36" stroke="#999" stroke-width="0.4"/>
<rect x="154.70" y="291.65" width="4.20" height="4.35" fill="#bdbdbd" stroke="#8e8e8e" stroke-width="0.4" />
<line x1="156.80" y1="291.65" x2="156.80" y2="291.02" stroke="#999" stroke-width="0.4"/>
<line x1="156.00" y1="291.02" x2="157.60" y2="291.02" stroke="#999" stroke-width="0.4"/>
<rect x="170.10" y="246.86" width="4.25" height="49.14" fill="#e6e6e6" stroke="#b0b0b0" stroke-width="0.4" />
<line x1="172.22" y1="246.86" x2="172.22" y2="235.67" stroke="#999" stroke-width="0.4"/>
<line x1="171.42" y1="235.67" x2="173.03" y2="235.67" stroke="#999" stroke-width="0.4"/>
<rect x="174.75" y="243.13" width="4.25" height="52.87" fill="#a8a8a8" stroke="#7c7c7c" stroke-width="0.4" />
<line x1="176.88" y1="243.13" x2="176.88" y2="238.15" stroke="#999" stroke-width="0.4"/>
<line x1="176.07" y1="238.15" x2="177.68" y2="238.15" stroke="#999" stroke-width="0.4"/>
<rect x="179.40" y="235.67" width="4.25" height="60.33" fill="#bdbdbd" stroke="#8e8e8e" stroke-width="0.4" />
<line x1="181.53" y1="235.67" x2="181.53" y2="233.80" stroke="#999" stroke-width="0.4"/>
<line x1="180.72" y1="233.80" x2="182.33" y2="233.80" stroke="#999" stroke-width="0.4"/>
<rect x="193.80" y="240.02" width="4.40" height="55.98" fill="#e6e6e6" stroke="#b0b0b0" stroke-width="0.4" />
<line x1="196.00" y1="240.02" x2="196.00" y2="230.07" stroke="#999" stroke-width="0.4"/>
<line x1="195.20" y1="230.07" x2="196.80" y2="230.07" stroke="#999" stroke-width="0.4"/>
<rect x="198.60" y="240.64" width="4.40" height="55.36" fill="#a8a8a8" stroke="#7c7c7c" stroke-width="0.4" />
<line x1="200.80" y1="240.64" x2="200.80" y2="235.67" stroke="#999" stroke-width="0.4"/>
<line x1="200.00" y1="235.67" x2="201.60" y2="235.67" stroke="#999" stroke-width="0.4"/>
<rect x="203.40" y="233.80" width="4.40" height="62.20" fill="#bdbdbd" stroke="#8e8e8e" stroke-width="0.4" />
<line x1="205.60" y1="233.80" x2="205.60" y2="233.18" stroke="#999" stroke-width="0.4"/>
<line x1="204.80" y1="233.18" x2="206.40" y2="233.18" stroke="#999" stroke-width="0.4"/>
<text x="152.5" y="302.1" font-size="4.7" font-family="Liberation Serif" font-weight="bold" fill="#000" text-anchor="middle">Day 7</text>
<text x="176.3" y="302.1" font-size="4.7" font-family="Liberation Serif" font-weight="bold" fill="#000" text-anchor="middle">Day 21</text>
<text x="202.0" y="302.1" font-size="4.7" font-family="Liberation Serif" font-weight="bold" fill="#000" text-anchor="middle">Day 26</text>
<text x="129.1" y="260.1" font-size="3.9" font-family="Liberation Serif" font-weight="bold" fill="#000" text-anchor="middle" textLength="33.3" lengthAdjust="spacingAndGlyphs" transform="rotate(-90 129.1 260.1)">c-Kit<tspan font-size="2.6" dy="-1.3">pos</tspan><tspan dy="1.3"> cells (%)</tspan></text>
<polyline points="148.2,278.5 148.2,270.2 152.9,270.2 152.9,274.0" fill="none" stroke="#333" stroke-width="0.5"/>
<text x="152.0" y="270.8" font-size="6.6" font-family="Liberation Serif" font-weight="bold" fill="#111" text-anchor="middle">*</text>
<polyline points="152.6,266.5 152.6,259.8 157.6,259.8 157.6,273.0" fill="none" stroke="#333" stroke-width="0.5"/>
<text x="155.1" y="260.4" font-size="6.6" font-family="Liberation Serif" font-weight="bold" fill="#111" text-anchor="middle">**</text>
<line x1="231.00" y1="229.03" x2="231.00" y2="295.80" stroke="#444" stroke-width="0.7"/>
<line x1="231.00" y1="295.80" x2="307.30" y2="295.80" stroke="#333" stroke-width="0.9"/>
<line x1="230.00" y1="295.80" x2="231.00" y2="295.80" stroke="#555" stroke-width="0.4"/>
<text x="229.6" y="297.2" font-size="3.9" font-family="Liberation Serif" font-weight="bold" fill="#1a1a1a" text-anchor="end">0</text>
<line x1="230.00" y1="289.73" x2="231.00" y2="289.73" stroke="#555" stroke-width="0.4"/>
<text x="229.6" y="291.1" font-size="3.9" font-family="Liberation Serif" font-weight="bold" fill="#1a1a1a" text-anchor="end">10</text>
<line x1="230.00" y1="283.66" x2="231.00" y2="283.66" stroke="#555" stroke-width="0.4"/>
<text x="229.6" y="285.1" font-size="3.9" font-family="Liberation Serif" font-weight="bold" fill="#1a1a1a" text-anchor="end">20</text>
<line x1="230.00" y1="277.59" x2="231.00" y2="277.59" stroke="#555" stroke-width="0.4"/>
<text x="229.6" y="279.0" font-size="3.9" font-family="Liberation Serif" font-weight="bold" fill="#1a1a1a" text-anchor="end">30</text>
<line x1="230.00" y1="271.52" x2="231.00" y2="271.52" stroke="#555" stroke-width="0.4"/>
<text x="229.6" y="272.9" font-size="3.9" font-family="Liberation Serif" font-weight="bold" fill="#1a1a1a" text-anchor="end">40</text>
<line x1="230.00" y1="265.45" x2="231.00" y2="265.45" stroke="#555" stroke-width="0.4"/>
<text x="229.6" y="266.8" font-size="3.9" font-family="Liberation Serif" font-weight="bold" fill="#1a1a1a" text-anchor="end">50</text>
<line x1="230.00" y1="259.38" x2="231.00" y2="259.38" stroke="#555" stroke-width="0.4"/>
<text x="229.6" y="260.8" font-size="3.9" font-family="Liberation Serif" font-weight="bold" fill="#1a1a1a" text-anchor="end">60</text>
<line x1="230.00" y1="253.31" x2="231.00" y2="253.31" stroke="#555" stroke-width="0.4"/>
<text x="229.6" y="254.7" font-size="3.9" font-family="Liberation Serif" font-weight="bold" fill="#1a1a1a" text-anchor="end">70</text>
<line x1="230.00" y1="247.24" x2="231.00" y2="247.24" stroke="#555" stroke-width="0.4"/>
<text x="229.6" y="248.6" font-size="3.9" font-family="Liberation Serif" font-weight="bold" fill="#1a1a1a" text-anchor="end">80</text>
<line x1="230.00" y1="241.17" x2="231.00" y2="241.17" stroke="#555" stroke-width="0.4"/>
<text x="229.6" y="242.6" font-size="3.9" font-family="Liberation Serif" font-weight="bold" fill="#1a1a1a" text-anchor="end">90</text>
<line x1="230.00" y1="235.10" x2="231.00" y2="235.10" stroke="#555" stroke-width="0.4"/>
<text x="229.6" y="236.5" font-size="3.9" font-family="Liberation Serif" font-weight="bold" fill="#1a1a1a" text-anchor="end">100</text>
<line x1="230.00" y1="229.03" x2="231.00" y2="229.03" stroke="#555" stroke-width="0.4"/>
<text x="229.6" y="230.4" font-size="3.9" font-family="Liberation Serif" font-weight="bold" fill="#1a1a1a" text-anchor="end">110</text>
<rect x="238.40" y="247.24" width="4.35" height="48.56" fill="#e6e6e6" stroke="#b0b0b0" stroke-width="0.4" />
<line x1="240.57" y1="247.24" x2="240.57" y2="246.03" stroke="#999" stroke-width="0.4"/>
<line x1="239.77" y1="246.03" x2="241.38" y2="246.03" stroke="#999" stroke-width="0.4"/>
<rect x="243.15" y="281.84" width="4.35" height="13.96" fill="#a8a8a8" stroke="#7c7c7c" stroke-width="0.4" />
<line x1="245.32" y1="281.84" x2="245.32" y2="279.41" stroke="#999" stroke-width="0.4"/>
<line x1="244.52" y1="279.41" x2="246.12" y2="279.41" stroke="#999" stroke-width="0.4"/>
<rect x="247.90" y="246.03" width="4.35" height="49.77" fill="#bdbdbd" stroke="#8e8e8e" stroke-width="0.4" />
<line x1="250.07" y1="246.03" x2="250.07" y2="244.81" stroke="#999" stroke-width="0.4"/>
<line x1="249.27" y1="244.81" x2="250.88" y2="244.81" stroke="#999" stroke-width="0.4"/>
<rect x="262.80" y="236.31" width="4.40" height="59.49" fill="#e6e6e6" stroke="#b0b0b0" stroke-width="0.4" />
<line x1="265.00" y1="236.31" x2="265.00" y2="235.10" stroke="#999" stroke-width="0.4"/>
<line x1="264.20" y1="235.10" x2="265.80" y2="235.10" stroke="#999" stroke-width="0.4"/>
<rect x="267.60" y="246.03" width="4.40" height="49.77" fill="#a8a8a8" stroke="#7c7c7c" stroke-width="0.4" />
<line x1="269.80" y1="246.03" x2="269.80" y2="244.21" stroke="#999" stroke-width="0.4"/>
<line x1="269.00" y1="244.21" x2="270.60" y2="244.21" stroke="#999" stroke-width="0.4"/>
<rect x="272.40" y="235.10" width="4.40" height="60.70" fill="#bdbdbd" stroke="#8e8e8e" stroke-width="0.4" />
<line x1="274.60" y1="235.10" x2="274.60" y2="234.49" stroke="#999" stroke-width="0.4"/>
<line x1="273.80" y1="234.49" x2="275.40" y2="234.49" stroke="#999" stroke-width="0.4"/>
<rect x="286.50" y="236.31" width="4.70" height="59.49" fill="#e6e6e6" stroke="#b0b0b0" stroke-width="0.4" />
<line x1="288.85" y1="236.31" x2="288.85" y2="235.10" stroke="#999" stroke-width="0.4"/>
<line x1="288.05" y1="235.10" x2="289.65" y2="235.10" stroke="#999" stroke-width="0.4"/>
<rect x="291.60" y="244.21" width="4.70" height="51.59" fill="#a8a8a8" stroke="#7c7c7c" stroke-width="0.4" />
<line x1="293.95" y1="244.21" x2="293.95" y2="242.38" stroke="#999" stroke-width="0.4"/>
<line x1="293.15" y1="242.38" x2="294.75" y2="242.38" stroke="#999" stroke-width="0.4"/>
<rect x="296.70" y="236.31" width="4.70" height="59.49" fill="#bdbdbd" stroke="#8e8e8e" stroke-width="0.4" />
<line x1="299.05" y1="236.31" x2="299.05" y2="235.10" stroke="#999" stroke-width="0.4"/>
<line x1="298.25" y1="235.10" x2="299.85" y2="235.10" stroke="#999" stroke-width="0.4"/>
<text x="245.7" y="302.1" font-size="4.7" font-family="Liberation Serif" font-weight="bold" fill="#000" text-anchor="middle">Day 7</text>
<text x="269.5" y="302.1" font-size="4.7" font-family="Liberation Serif" font-weight="bold" fill="#000" text-anchor="middle">Day 21</text>
<text x="296.0" y="302.1" font-size="4.7" font-family="Liberation Serif" font-weight="bold" fill="#000" text-anchor="middle">Day 26</text>
<text x="221.7" y="258.7" font-size="3.9" font-family="Liberation Serif" font-weight="bold" fill="#000" text-anchor="middle" textLength="61" lengthAdjust="spacingAndGlyphs" transform="rotate(-90 221.7 258.7)">Fc&#949;RI<tspan font-size="2.6" dy="-1.3">+</tspan><tspan dy="1.3"> cells (% of c-Kit</tspan><tspan font-size="2.6" dy="-1.3">pos</tspan><tspan dy="1.3"> cells)</tspan></text>
<polyline points="240.0,246.0 240.0,241.8 245.0,241.8 245.0,258.0" fill="none" stroke="#333" stroke-width="0.5"/>
<text x="242.0" y="242.8" font-size="6.6" font-family="Liberation Serif" font-weight="bold" fill="#111" text-anchor="middle">**</text>
<polyline points="245.0,258.0 245.0,241.8 250.6,241.8 250.6,245.2" fill="none" stroke="#333" stroke-width="0.5"/>
<text x="249.0" y="242.8" font-size="6.6" font-family="Liberation Serif" font-weight="bold" fill="#111" text-anchor="middle">**</text>
<polyline points="264.8,235.0 264.8,231.8 269.8,231.8 269.8,244.0" fill="none" stroke="#333" stroke-width="0.5"/>
<text x="265.8" y="232.6" font-size="6.6" font-family="Liberation Serif" font-weight="bold" fill="#111" text-anchor="middle">*</text>
<polyline points="269.8,244.0 269.8,231.8 274.5,231.8 274.5,234.0" fill="none" stroke="#333" stroke-width="0.5"/>
<text x="272.3" y="232.6" font-size="6.6" font-family="Liberation Serif" font-weight="bold" fill="#111" text-anchor="middle">*</text>
<polyline points="288.8,235.0 288.8,231.8 293.8,231.8 293.8,243.0" fill="none" stroke="#333" stroke-width="0.5"/>
<text x="290.3" y="232.6" font-size="6.6" font-family="Liberation Serif" font-weight="bold" fill="#111" text-anchor="middle">*</text>
<polyline points="293.8,243.0 293.8,231.8 298.6,231.8 298.6,235.0" fill="none" stroke="#333" stroke-width="0.5"/>
<text x="296.3" y="232.6" font-size="6.6" font-family="Liberation Serif" font-weight="bold" fill="#111" text-anchor="middle">*</text>
<line x1="349.30" y1="232.65" x2="349.30" y2="296.00" stroke="#444" stroke-width="0.7"/>
<line x1="349.30" y1="296.00" x2="427.00" y2="296.00" stroke="#333" stroke-width="0.9"/>
<line x1="348.30" y1="296.00" x2="349.30" y2="296.00" stroke="#555" stroke-width="0.4"/>
<text x="347.9" y="297.4" font-size="3.9" font-family="Liberation Serif" font-weight="bold" fill="#1a1a1a" text-anchor="end">0</text>
<line x1="348.30" y1="286.95" x2="349.30" y2="286.95" stroke="#555" stroke-width="0.4"/>
<text x="347.9" y="288.3" font-size="3.9" font-family="Liberation Serif" font-weight="bold" fill="#1a1a1a" text-anchor="end">20</text>
<line x1="348.30" y1="277.90" x2="349.30" y2="277.90" stroke="#555" stroke-width="0.4"/>
<text x="347.9" y="279.3" font-size="3.9" font-family="Liberation Serif" font-weight="bold" fill="#1a1a1a" text-anchor="end">40</text>
<line x1="348.30" y1="268.85" x2="349.30" y2="268.85" stroke="#555" stroke-width="0.4"/>
<text x="347.9" y="270.2" font-size="3.9" font-family="Liberation Serif" font-weight="bold" fill="#1a1a1a" text-anchor="end">60</text>
<line x1="348.30" y1="259.80" x2="349.30" y2="259.80" stroke="#555" stroke-width="0.4"/>
<text x="347.9" y="261.2" font-size="3.9" font-family="Liberation Serif" font-weight="bold" fill="#1a1a1a" text-anchor="end">80</text>
<line x1="348.30" y1="250.75" x2="349.30" y2="250.75" stroke="#555" stroke-width="0.4"/>
<text x="347.9" y="252.2" font-size="3.9" font-family="Liberation Serif" font-weight="bold" fill="#1a1a1a" text-anchor="end">100</text>
<line x1="348.30" y1="241.70" x2="349.30" y2="241.70" stroke="#555" stroke-width="0.4"/>
<text x="347.9" y="243.1" font-size="3.9" font-family="Liberation Serif" font-weight="bold" fill="#1a1a1a" text-anchor="end">120</text>
<line x1="348.30" y1="232.65" x2="349.30" y2="232.65" stroke="#555" stroke-width="0.4"/>
<text x="347.9" y="234.1" font-size="3.9" font-family="Liberation Serif" font-weight="bold" fill="#1a1a1a" text-anchor="end">140</text>
<rect x="356.20" y="262.51" width="4.40" height="33.48" fill="#e6e6e6" stroke="#b0b0b0" stroke-width="0.4" />
<line x1="358.40" y1="262.51" x2="358.40" y2="259.35" stroke="#999" stroke-width="0.4"/>
<line x1="357.60" y1="259.35" x2="359.20" y2="259.35" stroke="#999" stroke-width="0.4"/>
<rect x="361.00" y="287.40" width="4.40" height="8.60" fill="#a8a8a8" stroke="#7c7c7c" stroke-width="0.4" />
<line x1="363.20" y1="287.40" x2="363.20" y2="282.88" stroke="#999" stroke-width="0.4"/>
<line x1="362.40" y1="282.88" x2="364.00" y2="282.88" stroke="#999" stroke-width="0.4"/>
<rect x="365.80" y="295.10" width="4.40" height="0.91" fill="#bdbdbd" stroke="#8e8e8e" stroke-width="0.4" />
<rect x="380.50" y="273.83" width="4.70" height="22.17" fill="#e6e6e6" stroke="#b0b0b0" stroke-width="0.4" />
<line x1="382.85" y1="273.83" x2="382.85" y2="268.40" stroke="#999" stroke-width="0.4"/>
<line x1="382.05" y1="268.40" x2="383.65" y2="268.40" stroke="#999" stroke-width="0.4"/>
<rect x="385.60" y="281.07" width="4.70" height="14.93" fill="#a8a8a8" stroke="#7c7c7c" stroke-width="0.4" />
<line x1="387.95" y1="281.07" x2="387.95" y2="279.26" stroke="#999" stroke-width="0.4"/>
<line x1="387.15" y1="279.26" x2="388.75" y2="279.26" stroke="#999" stroke-width="0.4"/>
<rect x="390.70" y="265.23" width="4.70" height="30.77" fill="#bdbdbd" stroke="#8e8e8e" stroke-width="0.4" />
<line x1="393.05" y1="265.23" x2="393.05" y2="262.51" stroke="#999" stroke-width="0.4"/>
<line x1="392.25" y1="262.51" x2="393.85" y2="262.51" stroke="#999" stroke-width="0.4"/>
<rect x="405.20" y="242.15" width="4.80" height="53.85" fill="#e6e6e6" stroke="#b0b0b0" stroke-width="0.4" />
<line x1="407.60" y1="242.15" x2="407.60" y2="240.34" stroke="#999" stroke-width="0.4"/>
<line x1="406.80" y1="240.34" x2="408.40" y2="240.34" stroke="#999" stroke-width="0.4"/>
<rect x="410.40" y="262.97" width="4.80" height="33.03" fill="#a8a8a8" stroke="#7c7c7c" stroke-width="0.4" />
<line x1="412.80" y1="262.97" x2="412.80" y2="258.44" stroke="#999" stroke-width="0.4"/>
<line x1="412.00" y1="258.44" x2="413.60" y2="258.44" stroke="#999" stroke-width="0.4"/>
<rect x="415.60" y="260.25" width="4.80" height="35.75" fill="#bdbdbd" stroke="#8e8e8e" stroke-width="0.4" />
<text x="363.4" y="302.1" font-size="4.7" font-family="Liberation Serif" font-weight="bold" fill="#000" text-anchor="middle">Day 7</text>
<text x="388.0" y="302.1" font-size="4.7" font-family="Liberation Serif" font-weight="bold" fill="#000" text-anchor="middle">Day 21</text>
<text x="413.5" y="302.1" font-size="4.7" font-family="Liberation Serif" font-weight="bold" fill="#000" text-anchor="middle">Day 26</text>
<text x="332.8" y="260.5" font-size="3.9" font-family="Liberation Serif" font-weight="bold" fill="#000" text-anchor="middle" textLength="49.8" lengthAdjust="spacingAndGlyphs" transform="rotate(-90 332.8 260.5)">Total <tspan font-size="2.6" dy="-1.3">3</tspan><tspan dy="1.3">H-Serotonin uptake</tspan></text>
<text x="337.8" y="260.8" font-size="3.9" font-family="Liberation Serif" font-weight="bold" fill="#000" text-anchor="middle" textLength="31.9" lengthAdjust="spacingAndGlyphs" transform="rotate(-90 337.8 260.8)">(cpm x 10<tspan font-size="2.6" dy="-1.3">3</tspan><tspan dy="1.3"> cells)</tspan></text>
<polyline points="388.4,280.0 388.4,257.0 393.8,257.0 393.8,264.0" fill="none" stroke="#333" stroke-width="0.5"/>
<text x="391.4" y="256.8" font-size="6.6" font-family="Liberation Serif" font-weight="bold" fill="#111" text-anchor="middle">**</text>
<polyline points="407.6,241.0 407.6,235.0 413.0,235.0 413.0,260.0" fill="none" stroke="#333" stroke-width="0.5"/>
<text x="410.3" y="235.2" font-size="6.6" font-family="Liberation Serif" font-weight="bold" fill="#111" text-anchor="middle">*</text>
<line x1="445.00" y1="227.40" x2="445.00" y2="296.10" stroke="#444" stroke-width="0.7"/>
<line x1="445.00" y1="296.10" x2="516.50" y2="296.10" stroke="#333" stroke-width="0.9"/>
<line x1="444.00" y1="296.10" x2="445.00" y2="296.10" stroke="#555" stroke-width="0.4"/>
<text x="443.6" y="297.5" font-size="3.9" font-family="Liberation Serif" font-weight="bold" fill="#1a1a1a" text-anchor="end">0</text>
<line x1="444.00" y1="289.23" x2="445.00" y2="289.23" stroke="#555" stroke-width="0.4"/>
<text x="443.6" y="290.6" font-size="3.9" font-family="Liberation Serif" font-weight="bold" fill="#1a1a1a" text-anchor="end">10</text>
<line x1="444.00" y1="282.36" x2="445.00" y2="282.36" stroke="#555" stroke-width="0.4"/>
<text x="443.6" y="283.8" font-size="3.9" font-family="Liberation Serif" font-weight="bold" fill="#1a1a1a" text-anchor="end">20</text>
<line x1="444.00" y1="275.49" x2="445.00" y2="275.49" stroke="#555" stroke-width="0.4"/>
<text x="443.6" y="276.9" font-size="3.9" font-family="Liberation Serif" font-weight="bold" fill="#1a1a1a" text-anchor="end">30</text>
<line x1="444.00" y1="268.62" x2="445.00" y2="268.62" stroke="#555" stroke-width="0.4"/>
<text x="443.6" y="270.0" font-size="3.9" font-family="Liberation Serif" font-weight="bold" fill="#1a1a1a" text-anchor="end">40</text>
<line x1="444.00" y1="261.75" x2="445.00" y2="261.75" stroke="#555" stroke-width="0.4"/>
<text x="443.6" y="263.1" font-size="3.9" font-family="Liberation Serif" font-weight="bold" fill="#1a1a1a" text-anchor="end">50</text>
<line x1="444.00" y1="254.88" x2="445.00" y2="254.88" stroke="#555" stroke-width="0.4"/>
<text x="443.6" y="256.3" font-size="3.9" font-family="Liberation Serif" font-weight="bold" fill="#1a1a1a" text-anchor="end">60</text>
<line x1="444.00" y1="248.01" x2="445.00" y2="248.01" stroke="#555" stroke-width="0.4"/>
<text x="443.6" y="249.4" font-size="3.9" font-family="Liberation Serif" font-weight="bold" fill="#1a1a1a" text-anchor="end">70</text>
<line x1="444.00" y1="241.14" x2="445.00" y2="241.14" stroke="#555" stroke-width="0.4"/>
<text x="443.6" y="242.5" font-size="3.9" font-family="Liberation Serif" font-weight="bold" fill="#1a1a1a" text-anchor="end">80</text>
<line x1="444.00" y1="234.27" x2="445.00" y2="234.27" stroke="#555" stroke-width="0.4"/>
<text x="443.6" y="235.7" font-size="3.9" font-family="Liberation Serif" font-weight="bold" fill="#1a1a1a" text-anchor="end">90</text>
<line x1="444.00" y1="227.40" x2="445.00" y2="227.40" stroke="#555" stroke-width="0.4"/>
<text x="443.6" y="228.8" font-size="3.9" font-family="Liberation Serif" font-weight="bold" fill="#1a1a1a" text-anchor="end">100</text>
<rect x="450.20" y="273.43" width="4.70" height="22.67" fill="#e6e6e6" stroke="#b0b0b0" stroke-width="0.4" />
<line x1="452.55" y1="273.43" x2="452.55" y2="270.68" stroke="#999" stroke-width="0.4"/>
<line x1="451.75" y1="270.68" x2="453.35" y2="270.68" stroke="#999" stroke-width="0.4"/>
<rect x="455.30" y="283.05" width="4.70" height="13.05" fill="#a8a8a8" stroke="#7c7c7c" stroke-width="0.4" />
<line x1="457.65" y1="283.05" x2="457.65" y2="279.61" stroke="#999" stroke-width="0.4"/>
<line x1="456.85" y1="279.61" x2="458.45" y2="279.61" stroke="#999" stroke-width="0.4"/>
<rect x="460.40" y="294.04" width="4.70" height="2.06" fill="#bdbdbd" stroke="#8e8e8e" stroke-width="0.4" />
<rect x="473.60" y="252.13" width="4.60" height="43.97" fill="#e6e6e6" stroke="#b0b0b0" stroke-width="0.4" />
<line x1="475.90" y1="252.13" x2="475.90" y2="250.07" stroke="#999" stroke-width="0.4"/>
<line x1="475.10" y1="250.07" x2="476.70" y2="250.07" stroke="#999" stroke-width="0.4"/>
<rect x="478.60" y="267.25" width="4.60" height="28.85" fill="#a8a8a8" stroke="#7c7c7c" stroke-width="0.4" />
<line x1="480.90" y1="267.25" x2="480.90" y2="252.13" stroke="#999" stroke-width="0.4"/>
<line x1="480.10" y1="252.13" x2="481.70" y2="252.13" stroke="#999" stroke-width="0.4"/>
<rect x="483.60" y="243.20" width="4.60" height="52.90" fill="#bdbdbd" stroke="#8e8e8e" stroke-width="0.4" />
<line x1="485.90" y1="243.20" x2="485.90" y2="239.77" stroke="#999" stroke-width="0.4"/>
<line x1="485.10" y1="239.77" x2="486.70" y2="239.77" stroke="#999" stroke-width="0.4"/>
<rect x="496.70" y="258.31" width="4.55" height="37.79" fill="#e6e6e6" stroke="#b0b0b0" stroke-width="0.4" />
<line x1="498.98" y1="258.31" x2="498.98" y2="250.07" stroke="#999" stroke-width="0.4"/>
<line x1="498.18" y1="250.07" x2="499.78" y2="250.07" stroke="#999" stroke-width="0.4"/>
<rect x="501.65" y="272.06" width="4.55" height="24.05" fill="#a8a8a8" stroke="#7c7c7c" stroke-width="0.4" />
<line x1="503.93" y1="272.06" x2="503.93" y2="266.56" stroke="#999" stroke-width="0.4"/>
<line x1="503.12" y1="266.56" x2="504.73" y2="266.56" stroke="#999" stroke-width="0.4"/>
<rect x="506.60" y="261.06" width="4.55" height="35.04" fill="#bdbdbd" stroke="#8e8e8e" stroke-width="0.4" />
<line x1="508.88" y1="261.06" x2="508.88" y2="260.38" stroke="#999" stroke-width="0.4"/>
<line x1="508.07" y1="260.38" x2="509.68" y2="260.38" stroke="#999" stroke-width="0.4"/>
<text x="457.3" y="302.1" font-size="4.7" font-family="Liberation Serif" font-weight="bold" fill="#000" text-anchor="middle">Day 7</text>
<text x="480.2" y="302.1" font-size="4.7" font-family="Liberation Serif" font-weight="bold" fill="#000" text-anchor="middle">Day 21</text>
<text x="506.0" y="302.1" font-size="4.7" font-family="Liberation Serif" font-weight="bold" fill="#000" text-anchor="middle">Day 26</text>
<text x="429.4" y="258.1" font-size="3.9" font-family="Liberation Serif" font-weight="bold" fill="#000" text-anchor="middle" textLength="38.8" lengthAdjust="spacingAndGlyphs" transform="rotate(-90 429.4 258.1)"><tspan font-size="2.6" dy="-1.3">3</tspan><tspan dy="1.3">H-Serotonin Release</tspan></text>
<text x="434.4" y="258.5" font-size="3.9" font-family="Liberation Serif" font-weight="bold" fill="#000" text-anchor="middle" textLength="65.7" lengthAdjust="spacingAndGlyphs" transform="rotate(-90 434.4 258.5)">(% of the Total Serotonin Uptake)</text>
<polyline points="475.8,250.5 475.8,246.0 481.0,246.0 481.0,255.0" fill="none" stroke="#333" stroke-width="0.5"/>
<text x="478.4" y="246.7" font-size="6.6" font-family="Liberation Serif" font-weight="bold" fill="#111" text-anchor="middle">*</text>
<polyline points="480.3,259.0 480.3,226.8 484.0,226.8 484.0,241.5" fill="none" stroke="#333" stroke-width="0.5"/>
<text x="482.1" y="227.6" font-size="6.6" font-family="Liberation Serif" font-weight="bold" fill="#111" text-anchor="middle">*</text>
<text x="352.7" y="97.7" font-size="5.3" font-family="Liberation Serif" font-weight="bold" fill="#000" text-anchor="end" textLength="12.9" lengthAdjust="spacingAndGlyphs">Gata1</text>
<rect x="354.40" y="91.30" width="35.20" height="9.20" fill="#d4d4d4" stroke="none" stroke-width="1" />
<rect x="368.4" y="95.5" width="7.1" height="2.0" rx="1.0" fill="#000" opacity="0.05" filter="url(#bl7)"/>
<rect x="379.0" y="94.4" width="8.4" height="3.8" rx="1.9" fill="#000" opacity="0.55" filter="url(#bl7)"/>
<rect x="398.80" y="91.30" width="34.30" height="9.20" fill="#bcbcbc" stroke="none" stroke-width="1" />
<rect x="400.9" y="94.7" width="8.2" height="3.4" rx="1.7" fill="#000" opacity="0.45" filter="url(#bl7)"/>
<rect x="411.9" y="94.7" width="8.2" height="3.4" rx="1.7" fill="#000" opacity="0.45" filter="url(#bl7)"/>
<rect x="422.5" y="94.0" width="8.9" height="4.5" rx="2.2" fill="#000" opacity="0.75" filter="url(#bl7)"/>
<rect x="440.80" y="91.30" width="34.50" height="9.20" fill="#d4d4d4" stroke="none" stroke-width="1" />
<rect x="443.4" y="95.3" width="7.3" height="2.2" rx="1.1" fill="#000" opacity="0.12" filter="url(#bl7)"/>
<rect x="454.4" y="95.3" width="7.3" height="2.2" rx="1.1" fill="#000" opacity="0.12" filter="url(#bl7)"/>
<rect x="465.4" y="95.3" width="7.4" height="2.3" rx="1.2" fill="#000" opacity="0.15" filter="url(#bl7)"/>
<rect x="481.90" y="91.30" width="34.90" height="9.20" fill="#b9b9b9" stroke="none" stroke-width="1" />
<rect x="484.0" y="94.4" width="8.4" height="3.8" rx="1.9" fill="#000" opacity="0.55" filter="url(#bl7)"/>
<rect x="495.1" y="94.3" width="8.6" height="4.0" rx="2.0" fill="#000" opacity="0.60" filter="url(#bl7)"/>
<rect x="506.2" y="94.3" width="8.6" height="4.0" rx="2.0" fill="#000" opacity="0.60" filter="url(#bl7)"/>
<text x="352.7" y="111.3" font-size="5.3" font-family="Liberation Serif" font-weight="bold" fill="#000" text-anchor="end" textLength="12.9" lengthAdjust="spacingAndGlyphs">Gata2</text>
<rect x="354.40" y="104.90" width="35.20" height="9.20" fill="#b9b9b9" stroke="none" stroke-width="1" />
<rect x="398.80" y="104.90" width="34.30" height="9.20" fill="#c2c2c2" stroke="none" stroke-width="1" />
<rect x="401.4" y="109.1" width="7.1" height="2.0" rx="1.0" fill="#000" opacity="0.05" filter="url(#bl7)"/>
<rect x="412.3" y="109.0" width="7.3" height="2.2" rx="1.1" fill="#000" opacity="0.10" filter="url(#bl7)"/>
<rect x="423.0" y="108.5" width="7.9" height="3.1" rx="1.5" fill="#000" opacity="0.35" filter="url(#bl7)"/>
<rect x="440.80" y="104.90" width="34.50" height="9.20" fill="#b2b2b2" stroke="none" stroke-width="1" />
<rect x="465.4" y="108.9" width="7.4" height="2.3" rx="1.2" fill="#000" opacity="0.15" filter="url(#bl7)"/>
<rect x="481.90" y="104.90" width="34.90" height="9.20" fill="#dadada" stroke="none" stroke-width="1" />
<rect x="506.1" y="107.7" width="8.8" height="4.3" rx="2.2" fill="#000" opacity="0.70" filter="url(#bl7)"/>
<text x="352.7" y="124.6" font-size="5.3" font-family="Liberation Serif" font-weight="bold" fill="#000" text-anchor="end" textLength="11.7" lengthAdjust="spacingAndGlyphs">NFE2</text>
<rect x="354.40" y="118.20" width="35.20" height="9.20" fill="#b6b6b6" stroke="none" stroke-width="1" />
<rect x="398.80" y="118.20" width="34.30" height="9.20" fill="#bdbdbd" stroke="none" stroke-width="1" />
<rect x="401.3" y="122.2" width="7.4" height="2.3" rx="1.2" fill="#000" opacity="0.15" filter="url(#bl7)"/>
<rect x="412.1" y="122.0" width="7.7" height="2.7" rx="1.4" fill="#000" opacity="0.25" filter="url(#bl7)"/>
<rect x="422.8" y="121.6" width="8.2" height="3.4" rx="1.7" fill="#000" opacity="0.45" filter="url(#bl7)"/>
<rect x="440.80" y="118.20" width="34.50" height="9.20" fill="#b2b2b2" stroke="none" stroke-width="1" />
<rect x="481.90" y="118.20" width="34.90" height="9.20" fill="#b4b4b4" stroke="none" stroke-width="1" />
<text x="352.7" y="138.0" font-size="5.3" font-family="Liberation Serif" font-weight="bold" fill="#000" text-anchor="end" textLength="18.6" lengthAdjust="spacingAndGlyphs">MMCP-6</text>
<rect x="354.40" y="131.60" width="35.20" height="9.20" fill="#c2c2c2" stroke="none" stroke-width="1" />
<rect x="368.1" y="135.3" width="7.8" height="2.9" rx="1.4" fill="#000" opacity="0.30" filter="url(#bl7)"/>
<rect x="379.1" y="134.8" width="8.3" height="3.6" rx="1.8" fill="#000" opacity="0.50" filter="url(#bl7)"/>
<rect x="398.80" y="131.60" width="34.30" height="9.20" fill="#bababa" stroke="none" stroke-width="1" />
<rect x="400.5" y="134.3" width="8.9" height="4.5" rx="2.2" fill="#000" opacity="0.75" filter="url(#bl7)"/>
<rect x="411.2" y="133.9" width="9.5" height="5.2" rx="2.2" fill="#000" opacity="0.95" filter="url(#bl7)"/>
<rect x="422.1" y="133.8" width="9.6" height="5.4" rx="2.2" fill="#000" opacity="1.00" filter="url(#bl7)"/>
<rect x="440.80" y="131.60" width="34.50" height="9.20" fill="#c4c4c4" stroke="none" stroke-width="1" />
<rect x="442.5" y="134.3" width="8.9" height="4.5" rx="2.2" fill="#000" opacity="0.75" filter="url(#bl7)"/>
<rect x="453.3" y="133.9" width="9.5" height="5.2" rx="2.2" fill="#000" opacity="0.95" filter="url(#bl7)"/>
<rect x="464.4" y="133.9" width="9.5" height="5.2" rx="2.2" fill="#000" opacity="0.95" filter="url(#bl7)"/>
<rect x="481.90" y="131.60" width="34.90" height="9.20" fill="#c0c0c0" stroke="none" stroke-width="1" />
<rect x="483.7" y="134.3" width="8.9" height="4.5" rx="2.2" fill="#000" opacity="0.75" filter="url(#bl7)"/>
<rect x="494.6" y="133.9" width="9.5" height="5.2" rx="2.2" fill="#000" opacity="0.95" filter="url(#bl7)"/>
<rect x="505.7" y="133.8" width="9.6" height="5.4" rx="2.2" fill="#000" opacity="1.00" filter="url(#bl7)"/>
<text x="352.7" y="151.0" font-size="5.3" font-family="Liberation Serif" font-weight="bold" fill="#000" text-anchor="end" textLength="18.6" lengthAdjust="spacingAndGlyphs">MC-CPA</text>
<rect x="354.40" y="144.60" width="35.20" height="9.20" fill="#c4c4c4" stroke="none" stroke-width="1" />
<rect x="357.0" y="148.5" width="7.5" height="2.5" rx="1.3" fill="#000" opacity="0.20" filter="url(#bl7)"/>
<rect x="367.3" y="146.9" width="9.5" height="5.2" rx="2.2" fill="#000" opacity="0.95" filter="url(#bl7)"/>
<rect x="378.6" y="147.0" width="9.3" height="5.0" rx="2.2" fill="#000" opacity="0.90" filter="url(#bl7)"/>
<rect x="398.80" y="144.60" width="34.30" height="9.20" fill="#bdbdbd" stroke="none" stroke-width="1" />
<rect x="423.3" y="148.7" width="7.3" height="2.2" rx="1.1" fill="#000" opacity="0.10" filter="url(#bl7)"/>
<rect x="440.80" y="144.60" width="34.50" height="9.20" fill="#c8c8c8" stroke="none" stroke-width="1" />
<rect x="443.2" y="148.5" width="7.5" height="2.5" rx="1.3" fill="#000" opacity="0.20" filter="url(#bl7)"/>
<rect x="453.6" y="147.3" width="8.9" height="4.5" rx="2.2" fill="#000" opacity="0.75" filter="url(#bl7)"/>
<rect x="464.9" y="147.8" width="8.3" height="3.6" rx="1.8" fill="#000" opacity="0.50" filter="url(#bl7)"/>
<rect x="481.90" y="144.60" width="34.90" height="9.20" fill="#8a8a8a" stroke="none" stroke-width="1" />
<rect x="483.4" y="146.8" width="9.6" height="5.4" rx="2.2" fill="#000" opacity="1.00" filter="url(#bl7)"/>
<rect x="494.5" y="146.8" width="9.6" height="5.4" rx="2.2" fill="#000" opacity="1.00" filter="url(#bl7)"/>
<rect x="505.7" y="146.8" width="9.6" height="5.4" rx="2.2" fill="#000" opacity="1.00" filter="url(#bl7)"/>
<text x="352.7" y="164.7" font-size="5.3" font-family="Liberation Serif" font-weight="bold" fill="#000" text-anchor="end" textLength="11.7" lengthAdjust="spacingAndGlyphs">MITF</text>
<rect x="354.40" y="158.30" width="35.20" height="9.20" fill="#dadada" stroke="none" stroke-width="1" />
<rect x="357.0" y="162.3" width="7.4" height="2.3" rx="1.2" fill="#000" opacity="0.15" filter="url(#bl7)"/>
<rect x="368.3" y="162.3" width="7.4" height="2.3" rx="1.2" fill="#000" opacity="0.15" filter="url(#bl7)"/>
<rect x="378.9" y="161.1" width="8.8" height="4.3" rx="2.2" fill="#000" opacity="0.70" filter="url(#bl7)"/>
<rect x="440.80" y="158.30" width="34.50" height="9.20" fill="#d4d4d4" stroke="none" stroke-width="1" />
<rect x="443.4" y="162.4" width="7.3" height="2.2" rx="1.1" fill="#000" opacity="0.10" filter="url(#bl7)"/>
<rect x="453.5" y="160.9" width="9.1" height="4.7" rx="2.2" fill="#000" opacity="0.80" filter="url(#bl7)"/>
<rect x="464.3" y="160.5" width="9.6" height="5.4" rx="2.2" fill="#000" opacity="1.00" filter="url(#bl7)"/>
<rect x="481.90" y="158.30" width="34.90" height="9.20" fill="#d0d0d0" stroke="none" stroke-width="1" />
<rect x="484.2" y="161.9" width="7.9" height="3.1" rx="1.5" fill="#000" opacity="0.35" filter="url(#bl7)"/>
<rect x="495.1" y="161.4" width="8.4" height="3.8" rx="1.9" fill="#000" opacity="0.55" filter="url(#bl7)"/>
<rect x="505.9" y="160.8" width="9.2" height="4.9" rx="2.2" fill="#000" opacity="0.85" filter="url(#bl7)"/>
<text x="352.7" y="179.0" font-size="5.3" font-family="Liberation Serif" font-weight="bold" fill="#000" text-anchor="end" textLength="29.6" lengthAdjust="spacingAndGlyphs">&#946;<tspan font-size="3.2" dy="1.2">2</tspan><tspan dy="-1.2">-Microglob</tspan></text>
<rect x="354.40" y="172.60" width="35.20" height="9.20" fill="#c4c4c4" stroke="none" stroke-width="1" />
<rect x="356.9" y="176.4" width="7.7" height="2.7" rx="1.4" fill="#000" opacity="0.25" filter="url(#bl7)"/>
<rect x="367.5" y="175.2" width="9.1" height="4.7" rx="2.2" fill="#000" opacity="0.80" filter="url(#bl7)"/>
<rect x="378.5" y="174.8" width="9.6" height="5.4" rx="2.2" fill="#000" opacity="1.00" filter="url(#bl7)"/>
<rect x="398.80" y="172.60" width="34.30" height="9.20" fill="#c4c4c4" stroke="none" stroke-width="1" />
<rect x="400.9" y="176.0" width="8.2" height="3.4" rx="1.7" fill="#000" opacity="0.45" filter="url(#bl7)"/>
<rect x="411.5" y="175.4" width="8.8" height="4.3" rx="2.2" fill="#000" opacity="0.70" filter="url(#bl7)"/>
<rect x="422.1" y="174.8" width="9.6" height="5.4" rx="2.2" fill="#000" opacity="1.00" filter="url(#bl7)"/>
<rect x="440.80" y="172.60" width="34.50" height="9.20" fill="#c6c6c6" stroke="none" stroke-width="1" />
<rect x="443.1" y="176.2" width="7.9" height="3.1" rx="1.5" fill="#000" opacity="0.35" filter="url(#bl7)"/>
<rect x="453.6" y="175.3" width="8.9" height="4.5" rx="2.2" fill="#000" opacity="0.75" filter="url(#bl7)"/>
<rect x="464.3" y="174.8" width="9.6" height="5.4" rx="2.2" fill="#000" opacity="1.00" filter="url(#bl7)"/>
<rect x="481.90" y="172.60" width="34.90" height="9.20" fill="#c8c8c8" stroke="none" stroke-width="1" />
<rect x="484.4" y="176.5" width="7.5" height="2.5" rx="1.3" fill="#000" opacity="0.20" filter="url(#bl7)"/>
<rect x="494.9" y="175.3" width="8.9" height="4.5" rx="2.2" fill="#000" opacity="0.75" filter="url(#bl7)"/>
<rect x="505.7" y="174.8" width="9.6" height="5.4" rx="2.2" fill="#000" opacity="1.00" filter="url(#bl7)"/>
<text x="417.6" y="166.8" font-size="6.2" font-family="Liberation Serif" font-weight="bold" fill="#000" text-anchor="middle">n.d.</text>
<text x="372.7" y="62.8" font-size="5.8" font-family="Liberation Serif" font-weight="bold" fill="#000" text-anchor="middle" textLength="10" lengthAdjust="spacingAndGlyphs">WT</text>
<line x1="352.60" y1="67.50" x2="389.80" y2="67.50" stroke="#111" stroke-width="0.8"/>
<text x="445.7" y="62.8" font-size="5.8" font-family="Liberation Serif" font-weight="bold" fill="#000" text-anchor="middle">Gata1<tspan font-size="3.6" dy="-2">low</tspan></text>
<line x1="398.00" y1="67.50" x2="475.30" y2="67.50" stroke="#111" stroke-width="0.8"/>
<text x="497.4" y="62.8" font-size="5.8" font-family="Liberation Serif" font-weight="bold" fill="#000" text-anchor="middle">W/W<tspan font-size="3.6" dy="-2">v</tspan></text>
<line x1="480.30" y1="67.50" x2="519.20" y2="67.50" stroke="#111" stroke-width="0.8"/>
<text x="373.2" y="77.6" font-size="5.3" font-family="Liberation Serif" font-weight="bold" fill="#000" text-anchor="middle" textLength="36" lengthAdjust="spacingAndGlyphs">c-Kit<tspan font-size="3.4" dy="-1.6">pos</tspan><tspan dy="1.6">/Fc&#949;RI</tspan><tspan font-size="3.4" dy="-1.6">pos</tspan></text>
<polygon points="354.2,88.3 389.9,80.0 389.9,88.3" fill="none" stroke="#111" stroke-width="0.6"/>
<text x="417.2" y="77.6" font-size="5.3" font-family="Liberation Serif" font-weight="bold" fill="#000" text-anchor="middle" textLength="36" lengthAdjust="spacingAndGlyphs">c-Kit<tspan font-size="3.4" dy="-1.6">pos</tspan><tspan dy="1.6">/Fc&#949;RI</tspan><tspan font-size="3.4" dy="-1.6">pos</tspan></text>
<polygon points="398.6,88.3 433.4,80.0 433.4,88.3" fill="none" stroke="#111" stroke-width="0.6"/>
<text x="459.2" y="77.6" font-size="5.3" font-family="Liberation Serif" font-weight="bold" fill="#000" text-anchor="middle" textLength="36" lengthAdjust="spacingAndGlyphs">c-Kit<tspan font-size="3.4" dy="-1.6">pos</tspan><tspan dy="1.6">/Fc&#949;RI</tspan><tspan font-size="3.4" dy="-1.6">pos</tspan></text>
<polygon points="440.6,88.3 475.6,80.0 475.6,88.3" fill="none" stroke="#111" stroke-width="0.6"/>
<text x="500.5" y="77.6" font-size="5.3" font-family="Liberation Serif" font-weight="bold" fill="#000" text-anchor="middle" textLength="36" lengthAdjust="spacingAndGlyphs">c-Kit<tspan font-size="3.4" dy="-1.6">pos</tspan><tspan dy="1.6">/Fc&#949;RI</tspan><tspan font-size="3.4" dy="-1.6">pos</tspan></text>
<polygon points="481.7,88.3 517.1,80.0 517.1,88.3" fill="none" stroke="#111" stroke-width="0.6"/></svg>
</body></html>
